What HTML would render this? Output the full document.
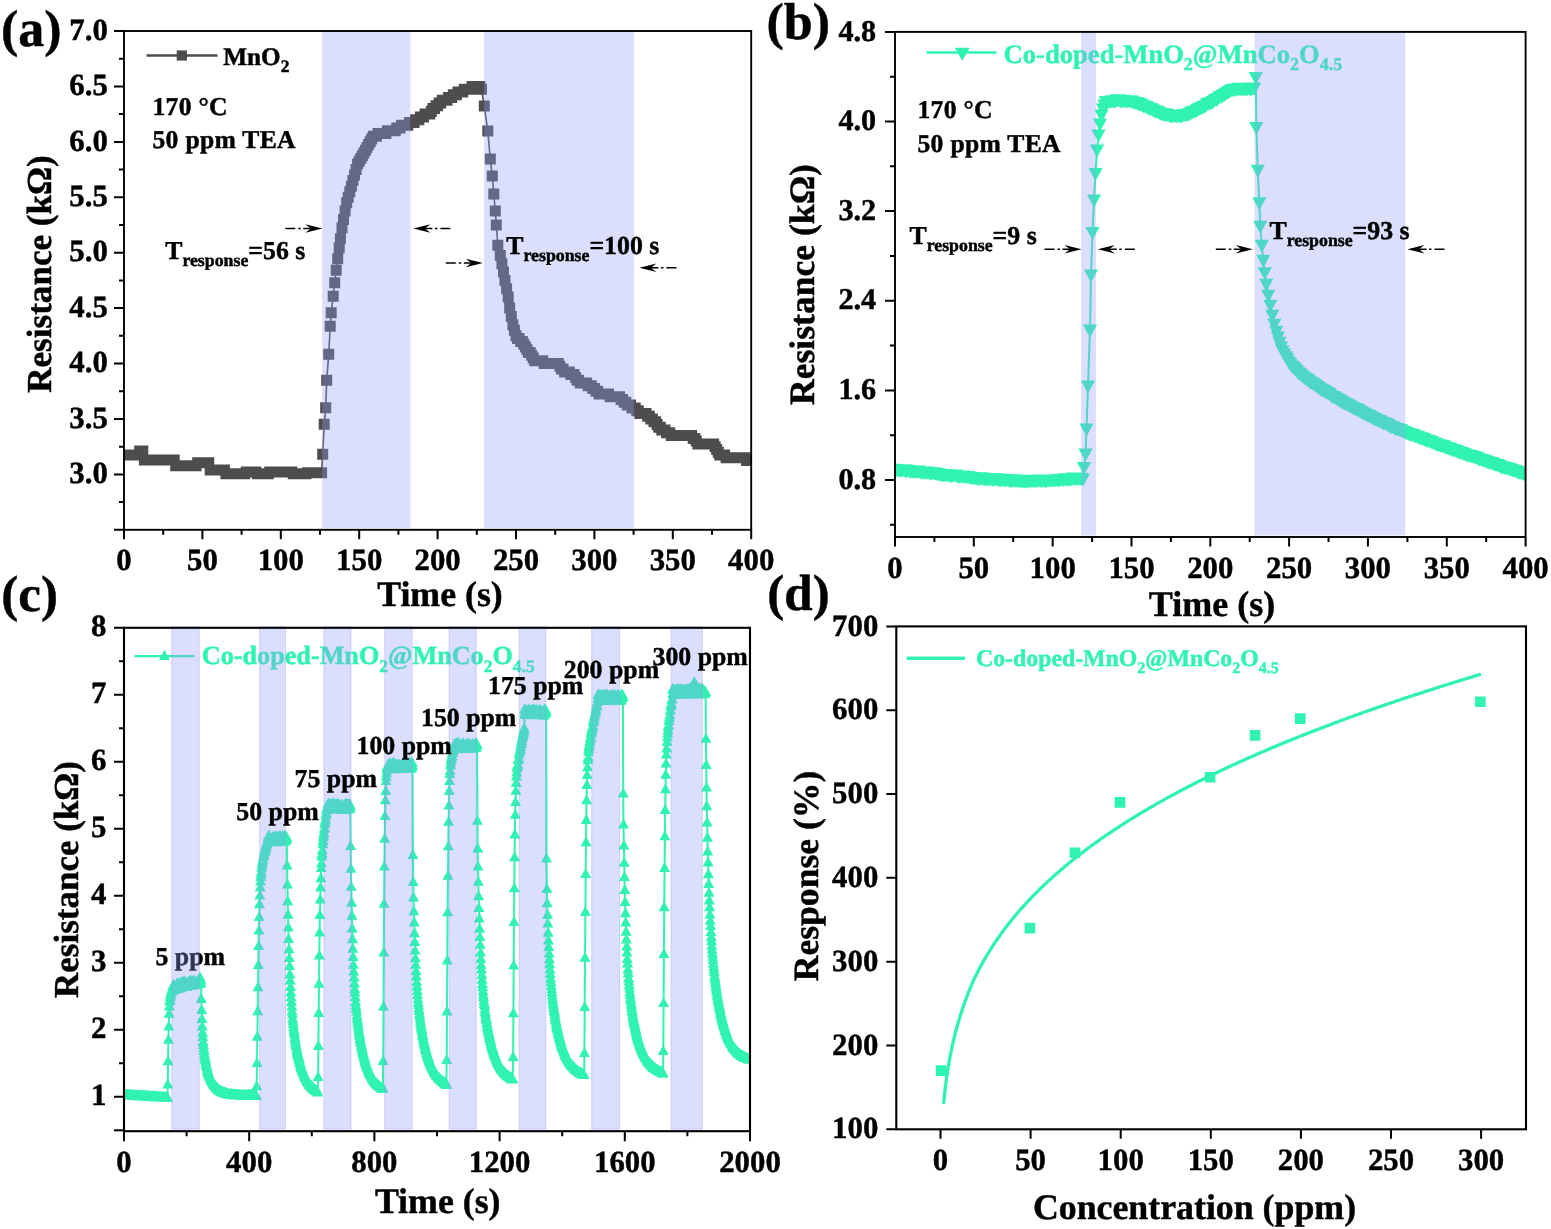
<!DOCTYPE html>
<html lang="en"><head><meta charset="utf-8"><title>Gas sensing response figure</title>
<style>html,body{margin:0;padding:0;background:#fff}svg{display:block;will-change:transform;transform:translateZ(0)}text{white-space:pre}</style></head>
<body>
<svg width="1551" height="1229" viewBox="0 0 1551 1229" font-family='"Liberation Serif", "DejaVu Serif", serif' font-weight="bold" text-rendering="geometricPrecision">
<style>text{stroke:#000;stroke-width:.45px;paint-order:stroke fill}text.g{stroke:#2ff2b3}</style>
<rect width="1551" height="1229" fill="#fff"/>
<g id="panelA">
<clipPath id="ca"><rect x="124" y="31" width="627.2" height="498.8"/></clipPath><g clip-path="url(#ca)">
<path d="M124 454.9L125.6 454.9L127.1 454.9L128.7 454.9L130.3 454.9L131.8 454.9L133.4 454.9L135 454.9L136.5 454.9L138.1 454.9L139.7 451.1L141.2 451.1L142.8 451.1L144.4 460L146 460L147.5 460L149.1 460L150.7 460L152.2 460L153.8 460L155.4 460L156.9 460L158.5 460L160.1 460L161.6 460L163.2 460L164.8 460L166.3 460L167.9 460L169.5 460L171 460L172.6 460L174.2 460L175.7 465.8L177.3 465.8L178.9 465.8L180.4 465.8L182 465.8L183.6 465.8L185.2 465.8L186.7 465.8L188.3 465.8L189.9 465.8L191.4 465.8L193 465.8L194.6 465.8L196.1 465.8L197.7 462.8L199.3 462.8L200.8 462.8L202.4 462.8L204 462.8L205.5 462.8L207.1 462.8L208.7 462.8L210.2 470L211.8 470L213.4 470L214.9 470L216.5 470L218.1 470L219.6 470L221.2 470L222.8 470L224.4 470L225.9 473.8L227.5 473.8L229.1 473.8L230.6 473.8L232.2 473.8L233.8 473.8L235.3 473.8L236.9 473.8L238.5 473.8L240 473.8L241.6 473.8L243.2 473.8L244.7 473.8L246.3 471.9L247.9 471.9L249.4 471.9L251 471.9L252.6 471.9L254.1 471.9L255.7 471.9L257.3 473.8L258.8 473.8L260.4 473.8L262 473.8L263.6 473.8L265.1 473.8L266.7 473.8L268.3 473.8L269.8 471.9L271.4 471.9L273 471.9L274.5 471.9L276.1 471.9L277.7 471.9L279.2 471.9L280.8 471.9L282.4 471.9L283.9 471.9L285.5 471.9L287.1 471.9L288.6 471.9L290.2 471.9L291.8 471.9L293.3 473.8L294.9 473.8L296.5 473.8L298 473.8L299.6 473.8L301.2 473.8L302.8 473.8L304.3 473.8L305.9 473.8L307.5 472.7L309 472.7L310.6 472.7L312.2 472.7L313.7 472.7L315.3 472.7L316.9 472.7L318.4 472.7L320 472.7L321.6 472.7L322.7 454.3L324.2 424.3L325.7 407.8L326.7 380.2L328.7 354.2L330.2 326.2L331.2 312.7L333.2 296.2L334.7 282.7L336.2 270.2L337.7 258.7L339.2 247.7L340.4 238.8L342 227.8L343.5 219.4L345.1 211.1L346.7 202.8L348.2 197.3L349.8 191.7L351.4 186.2L352.9 180.6L354.5 175.1L356.1 169.6L357.6 164L359.2 161.2L360.8 158.5L362.3 155.7L363.9 152.9L365.5 150.2L367 147.4L368.6 144.6L370.2 141.8L371.7 139.1L373.3 136.3L374.9 136.3L376.4 136.3L378 133.5L379.6 133.5L381.2 133.5L382.7 133.5L384.3 133.5L385.9 133.5L387.4 130.8L389 130.8L390.6 130.8L392.1 130.8L393.7 130.8L395.3 130.8L396.8 128L398.4 128L400 128L401.5 125.2L403.1 125.2L404.7 125.2L406.2 125.2L407.8 125.2L409.4 122.5L410.9 122.5L412.5 122.5L414.1 122.5L415.6 119.7L417.2 119.7L418.8 119.7L420.4 116.9L421.9 116.9L423.5 116.9L425.1 114.1L426.6 114.1L428.2 114.1L429.8 114.1L431.3 111.4L432.9 108.6L434.5 108.6L436 105.8L437.6 105.8L439.2 103.1L440.7 103.1L442.3 100.3L443.9 100.3L445.4 100.3L447 100.3L448.6 97.5L450.1 97.5L451.7 97.5L453.3 94.7L454.8 94.7L456.4 94.7L458 92L459.6 92L461.1 92L462.7 92L464.3 89.2L465.8 89.2L467.4 89.2L469 89.2L470.5 89.2L472.1 86.4L473.7 86.4L475.2 86.4L476.8 86.4L478.4 86.4L479.9 86.4L481.5 89.2L484.3 106.1L487.8 131.1L490.3 159.1L492.3 176.1L493.8 194.1L495.3 211.1L496.3 225.1L497.8 245.2L500.3 255.5L501.9 263.8L503.5 272.1L505 280.4L506.6 288.7L508.2 297L509.7 308.1L511.3 316.4L512.9 324.8L514.4 330.3L516 335.8L517.6 338.6L519.1 338.6L520.7 341.4L522.3 341.4L523.8 344.2L525.4 346.9L527 349.7L528.5 352.5L530.1 352.5L531.7 355.2L533.2 358L534.8 360.8L536.4 360.8L538 360.8L539.5 360.8L541.1 360.8L542.7 360.8L544.2 363.5L545.8 363.5L547.4 363.5L548.9 363.5L550.5 363.5L552.1 363.5L553.6 363.5L555.2 363.5L556.8 363.5L558.3 363.5L559.9 366.3L561.5 369.1L563 369.1L564.6 371.9L566.2 371.9L567.7 371.9L569.3 371.9L570.9 374.6L572.4 374.6L574 374.6L575.6 377.4L577.2 380.2L578.7 380.2L580.3 382.9L581.9 382.9L583.4 382.9L585 382.9L586.6 382.9L588.1 385.7L589.7 385.7L591.3 385.7L592.8 388.5L594.4 388.5L596 391.3L597.5 391.3L599.1 394L600.7 394L602.2 394L603.8 394L605.4 394L606.9 394L608.5 394L610.1 396.8L611.6 396.8L613.2 396.8L614.8 396.8L616.4 396.8L617.9 396.8L619.5 396.8L621.1 399.6L622.6 399.6L624.2 402.3L625.8 402.3L627.3 405.1L628.9 405.1L630.5 405.1L632 407.9L633.6 407.9L635.2 407.9L636.7 410.7L638.3 410.7L639.9 413.4L641.4 413.4L643 413.4L644.6 413.4L646.1 413.4L647.7 416.2L649.3 416.2L650.8 419L652.4 419L654 421.7L655.6 421.7L657.1 424.5L658.7 427.3L660.3 427.3L661.8 430.1L663.4 430.1L665 430.1L666.5 432.8L668.1 432.8L669.7 432.8L671.2 435.6L672.8 435.6L674.4 435.6L675.9 435.6L677.5 435.6L679.1 435.6L680.6 435.6L682.2 435.6L683.8 435.6L685.3 435.6L686.9 435.6L688.5 435.6L690 435.6L691.6 435.6L693.2 438.4L694.8 438.4L696.3 441.1L697.9 443.9L699.5 443.9L701 443.9L702.6 443.9L704.2 443.9L705.7 443.9L707.3 443.9L708.9 443.9L710.4 443.9L712 443.9L713.6 443.9L715.1 446.7L716.7 449.5L718.3 452.2L719.8 455L721.4 455L723 455L724.5 455L726.1 457.8L727.7 457.8L729.2 457.8L730.8 457.8L732.4 457.8L734 457.8L735.5 457.8L737.1 457.8L738.7 457.8L740.2 457.8L741.8 457.8L743.4 457.8L744.9 457.8L746.5 460.5L748.1 460.5L749.6 460.5L751.2 460.5" fill="none" stroke="#4d4d4d" stroke-width="1.6" stroke-linejoin="round" stroke-linecap="round"/>
<path d="M118.5 449.4h11v11h-11zM120.1 449.4h11v11h-11zM121.6 449.4h11v11h-11zM123.2 449.4h11v11h-11zM124.8 449.4h11v11h-11zM126.3 449.4h11v11h-11zM127.9 449.4h11v11h-11zM129.5 449.4h11v11h-11zM131 449.4h11v11h-11zM132.6 449.4h11v11h-11zM134.2 445.6h11v11h-11zM135.7 445.6h11v11h-11zM137.3 445.6h11v11h-11zM138.9 454.5h11v11h-11zM140.5 454.5h11v11h-11zM142 454.5h11v11h-11zM143.6 454.5h11v11h-11zM145.2 454.5h11v11h-11zM146.7 454.5h11v11h-11zM148.3 454.5h11v11h-11zM149.9 454.5h11v11h-11zM151.4 454.5h11v11h-11zM153 454.5h11v11h-11zM154.6 454.5h11v11h-11zM156.1 454.5h11v11h-11zM157.7 454.5h11v11h-11zM159.3 454.5h11v11h-11zM160.8 454.5h11v11h-11zM162.4 454.5h11v11h-11zM164 454.5h11v11h-11zM165.5 454.5h11v11h-11zM167.1 454.5h11v11h-11zM168.7 454.5h11v11h-11zM170.2 460.3h11v11h-11zM171.8 460.3h11v11h-11zM173.4 460.3h11v11h-11zM174.9 460.3h11v11h-11zM176.5 460.3h11v11h-11zM178.1 460.3h11v11h-11zM179.7 460.3h11v11h-11zM181.2 460.3h11v11h-11zM182.8 460.3h11v11h-11zM184.4 460.3h11v11h-11zM185.9 460.3h11v11h-11zM187.5 460.3h11v11h-11zM189.1 460.3h11v11h-11zM190.6 460.3h11v11h-11zM192.2 457.3h11v11h-11zM193.8 457.3h11v11h-11zM195.3 457.3h11v11h-11zM196.9 457.3h11v11h-11zM198.5 457.3h11v11h-11zM200 457.3h11v11h-11zM201.6 457.3h11v11h-11zM203.2 457.3h11v11h-11zM204.7 464.5h11v11h-11zM206.3 464.5h11v11h-11zM207.9 464.5h11v11h-11zM209.4 464.5h11v11h-11zM211 464.5h11v11h-11zM212.6 464.5h11v11h-11zM214.1 464.5h11v11h-11zM215.7 464.5h11v11h-11zM217.3 464.5h11v11h-11zM218.9 464.5h11v11h-11zM220.4 468.3h11v11h-11zM222 468.3h11v11h-11zM223.6 468.3h11v11h-11zM225.1 468.3h11v11h-11zM226.7 468.3h11v11h-11zM228.3 468.3h11v11h-11zM229.8 468.3h11v11h-11zM231.4 468.3h11v11h-11zM233 468.3h11v11h-11zM234.5 468.3h11v11h-11zM236.1 468.3h11v11h-11zM237.7 468.3h11v11h-11zM239.2 468.3h11v11h-11zM240.8 466.4h11v11h-11zM242.4 466.4h11v11h-11zM243.9 466.4h11v11h-11zM245.5 466.4h11v11h-11zM247.1 466.4h11v11h-11zM248.6 466.4h11v11h-11zM250.2 466.4h11v11h-11zM251.8 468.3h11v11h-11zM253.3 468.3h11v11h-11zM254.9 468.3h11v11h-11zM256.5 468.3h11v11h-11zM258.1 468.3h11v11h-11zM259.6 468.3h11v11h-11zM261.2 468.3h11v11h-11zM262.8 468.3h11v11h-11zM264.3 466.4h11v11h-11zM265.9 466.4h11v11h-11zM267.5 466.4h11v11h-11zM269 466.4h11v11h-11zM270.6 466.4h11v11h-11zM272.2 466.4h11v11h-11zM273.7 466.4h11v11h-11zM275.3 466.4h11v11h-11zM276.9 466.4h11v11h-11zM278.4 466.4h11v11h-11zM280 466.4h11v11h-11zM281.6 466.4h11v11h-11zM283.1 466.4h11v11h-11zM284.7 466.4h11v11h-11zM286.3 466.4h11v11h-11zM287.8 468.3h11v11h-11zM289.4 468.3h11v11h-11zM291 468.3h11v11h-11zM292.5 468.3h11v11h-11zM294.1 468.3h11v11h-11zM295.7 468.3h11v11h-11zM297.3 468.3h11v11h-11zM298.8 468.3h11v11h-11zM300.4 468.3h11v11h-11zM302 467.2h11v11h-11zM303.5 467.2h11v11h-11zM305.1 467.2h11v11h-11zM306.7 467.2h11v11h-11zM308.2 467.2h11v11h-11zM309.8 467.2h11v11h-11zM311.4 467.2h11v11h-11zM312.9 467.2h11v11h-11zM314.5 467.2h11v11h-11zM316.1 467.2h11v11h-11zM317.2 448.8h11v11h-11zM318.7 418.8h11v11h-11zM320.2 402.3h11v11h-11zM321.2 374.7h11v11h-11zM323.2 348.7h11v11h-11zM324.7 320.7h11v11h-11zM325.7 307.2h11v11h-11zM327.7 290.7h11v11h-11zM329.2 277.2h11v11h-11zM330.7 264.7h11v11h-11zM332.2 253.2h11v11h-11zM333.7 242.2h11v11h-11zM334.9 233.3h11v11h-11zM336.5 222.3h11v11h-11zM338 213.9h11v11h-11zM339.6 205.6h11v11h-11zM341.2 197.3h11v11h-11zM342.7 191.8h11v11h-11zM344.3 186.2h11v11h-11zM345.9 180.7h11v11h-11zM347.4 175.1h11v11h-11zM349 169.6h11v11h-11zM350.6 164.1h11v11h-11zM352.1 158.5h11v11h-11zM353.7 155.7h11v11h-11zM355.3 153h11v11h-11zM356.8 150.2h11v11h-11zM358.4 147.4h11v11h-11zM360 144.7h11v11h-11zM361.5 141.9h11v11h-11zM363.1 139.1h11v11h-11zM364.7 136.3h11v11h-11zM366.2 133.6h11v11h-11zM367.8 130.8h11v11h-11zM369.4 130.8h11v11h-11zM370.9 130.8h11v11h-11zM372.5 128h11v11h-11zM374.1 128h11v11h-11zM375.7 128h11v11h-11zM377.2 128h11v11h-11zM378.8 128h11v11h-11zM380.4 128h11v11h-11zM381.9 125.3h11v11h-11zM383.5 125.3h11v11h-11zM385.1 125.3h11v11h-11zM386.6 125.3h11v11h-11zM388.2 125.3h11v11h-11zM389.8 125.3h11v11h-11zM391.3 122.5h11v11h-11zM392.9 122.5h11v11h-11zM394.5 122.5h11v11h-11zM396 119.7h11v11h-11zM397.6 119.7h11v11h-11zM399.2 119.7h11v11h-11zM400.7 119.7h11v11h-11zM402.3 119.7h11v11h-11zM403.9 117h11v11h-11zM405.4 117h11v11h-11zM407 117h11v11h-11zM408.6 117h11v11h-11zM410.1 114.2h11v11h-11zM411.7 114.2h11v11h-11zM413.3 114.2h11v11h-11zM414.9 111.4h11v11h-11zM416.4 111.4h11v11h-11zM418 111.4h11v11h-11zM419.6 108.6h11v11h-11zM421.1 108.6h11v11h-11zM422.7 108.6h11v11h-11zM424.3 108.6h11v11h-11zM425.8 105.9h11v11h-11zM427.4 103.1h11v11h-11zM429 103.1h11v11h-11zM430.5 100.3h11v11h-11zM432.1 100.3h11v11h-11zM433.7 97.6h11v11h-11zM435.2 97.6h11v11h-11zM436.8 94.8h11v11h-11zM438.4 94.8h11v11h-11zM439.9 94.8h11v11h-11zM441.5 94.8h11v11h-11zM443.1 92h11v11h-11zM444.6 92h11v11h-11zM446.2 92h11v11h-11zM447.8 89.2h11v11h-11zM449.3 89.2h11v11h-11zM450.9 89.2h11v11h-11zM452.5 86.5h11v11h-11zM454.1 86.5h11v11h-11zM455.6 86.5h11v11h-11zM457.2 86.5h11v11h-11zM458.8 83.7h11v11h-11zM460.3 83.7h11v11h-11zM461.9 83.7h11v11h-11zM463.5 83.7h11v11h-11zM465 83.7h11v11h-11zM466.6 80.9h11v11h-11zM468.2 80.9h11v11h-11zM469.7 80.9h11v11h-11zM471.3 80.9h11v11h-11zM472.9 80.9h11v11h-11zM474.4 80.9h11v11h-11zM476 83.7h11v11h-11zM478.8 100.6h11v11h-11zM482.3 125.6h11v11h-11zM484.8 153.6h11v11h-11zM486.8 170.6h11v11h-11zM488.3 188.6h11v11h-11zM489.8 205.6h11v11h-11zM490.8 219.6h11v11h-11zM492.3 239.7h11v11h-11zM494.8 250h11v11h-11zM496.4 258.3h11v11h-11zM498 266.6h11v11h-11zM499.5 274.9h11v11h-11zM501.1 283.2h11v11h-11zM502.7 291.5h11v11h-11zM504.2 302.6h11v11h-11zM505.8 310.9h11v11h-11zM507.4 319.3h11v11h-11zM508.9 324.8h11v11h-11zM510.5 330.3h11v11h-11zM512.1 333.1h11v11h-11zM513.6 333.1h11v11h-11zM515.2 335.9h11v11h-11zM516.8 335.9h11v11h-11zM518.3 338.7h11v11h-11zM519.9 341.4h11v11h-11zM521.5 344.2h11v11h-11zM523 347h11v11h-11zM524.6 347h11v11h-11zM526.2 349.7h11v11h-11zM527.7 352.5h11v11h-11zM529.3 355.3h11v11h-11zM530.9 355.3h11v11h-11zM532.5 355.3h11v11h-11zM534 355.3h11v11h-11zM535.6 355.3h11v11h-11zM537.2 355.3h11v11h-11zM538.7 358h11v11h-11zM540.3 358h11v11h-11zM541.9 358h11v11h-11zM543.4 358h11v11h-11zM545 358h11v11h-11zM546.6 358h11v11h-11zM548.1 358h11v11h-11zM549.7 358h11v11h-11zM551.3 358h11v11h-11zM552.8 358h11v11h-11zM554.4 360.8h11v11h-11zM556 363.6h11v11h-11zM557.5 363.6h11v11h-11zM559.1 366.4h11v11h-11zM560.7 366.4h11v11h-11zM562.2 366.4h11v11h-11zM563.8 366.4h11v11h-11zM565.4 369.1h11v11h-11zM566.9 369.1h11v11h-11zM568.5 369.1h11v11h-11zM570.1 371.9h11v11h-11zM571.7 374.7h11v11h-11zM573.2 374.7h11v11h-11zM574.8 377.4h11v11h-11zM576.4 377.4h11v11h-11zM577.9 377.4h11v11h-11zM579.5 377.4h11v11h-11zM581.1 377.4h11v11h-11zM582.6 380.2h11v11h-11zM584.2 380.2h11v11h-11zM585.8 380.2h11v11h-11zM587.3 383h11v11h-11zM588.9 383h11v11h-11zM590.5 385.8h11v11h-11zM592 385.8h11v11h-11zM593.6 388.5h11v11h-11zM595.2 388.5h11v11h-11zM596.7 388.5h11v11h-11zM598.3 388.5h11v11h-11zM599.9 388.5h11v11h-11zM601.4 388.5h11v11h-11zM603 388.5h11v11h-11zM604.6 391.3h11v11h-11zM606.1 391.3h11v11h-11zM607.7 391.3h11v11h-11zM609.3 391.3h11v11h-11zM610.9 391.3h11v11h-11zM612.4 391.3h11v11h-11zM614 391.3h11v11h-11zM615.6 394.1h11v11h-11zM617.1 394.1h11v11h-11zM618.7 396.8h11v11h-11zM620.3 396.8h11v11h-11zM621.8 399.6h11v11h-11zM623.4 399.6h11v11h-11zM625 399.6h11v11h-11zM626.5 402.4h11v11h-11zM628.1 402.4h11v11h-11zM629.7 402.4h11v11h-11zM631.2 405.2h11v11h-11zM632.8 405.2h11v11h-11zM634.4 407.9h11v11h-11zM635.9 407.9h11v11h-11zM637.5 407.9h11v11h-11zM639.1 407.9h11v11h-11zM640.6 407.9h11v11h-11zM642.2 410.7h11v11h-11zM643.8 410.7h11v11h-11zM645.3 413.5h11v11h-11zM646.9 413.5h11v11h-11zM648.5 416.2h11v11h-11zM650.1 416.2h11v11h-11zM651.6 419h11v11h-11zM653.2 421.8h11v11h-11zM654.8 421.8h11v11h-11zM656.3 424.6h11v11h-11zM657.9 424.6h11v11h-11zM659.5 424.6h11v11h-11zM661 427.3h11v11h-11zM662.6 427.3h11v11h-11zM664.2 427.3h11v11h-11zM665.7 430.1h11v11h-11zM667.3 430.1h11v11h-11zM668.9 430.1h11v11h-11zM670.4 430.1h11v11h-11zM672 430.1h11v11h-11zM673.6 430.1h11v11h-11zM675.1 430.1h11v11h-11zM676.7 430.1h11v11h-11zM678.3 430.1h11v11h-11zM679.8 430.1h11v11h-11zM681.4 430.1h11v11h-11zM683 430.1h11v11h-11zM684.5 430.1h11v11h-11zM686.1 430.1h11v11h-11zM687.7 432.9h11v11h-11zM689.3 432.9h11v11h-11zM690.8 435.6h11v11h-11zM692.4 438.4h11v11h-11zM694 438.4h11v11h-11zM695.5 438.4h11v11h-11zM697.1 438.4h11v11h-11zM698.7 438.4h11v11h-11zM700.2 438.4h11v11h-11zM701.8 438.4h11v11h-11zM703.4 438.4h11v11h-11zM704.9 438.4h11v11h-11zM706.5 438.4h11v11h-11zM708.1 438.4h11v11h-11zM709.6 441.2h11v11h-11zM711.2 444h11v11h-11zM712.8 446.7h11v11h-11zM714.3 449.5h11v11h-11zM715.9 449.5h11v11h-11zM717.5 449.5h11v11h-11zM719 449.5h11v11h-11zM720.6 452.3h11v11h-11zM722.2 452.3h11v11h-11zM723.7 452.3h11v11h-11zM725.3 452.3h11v11h-11zM726.9 452.3h11v11h-11zM728.5 452.3h11v11h-11zM730 452.3h11v11h-11zM731.6 452.3h11v11h-11zM733.2 452.3h11v11h-11zM734.7 452.3h11v11h-11zM736.3 452.3h11v11h-11zM737.9 452.3h11v11h-11zM739.4 452.3h11v11h-11zM741 455h11v11h-11zM742.6 455h11v11h-11zM744.1 455h11v11h-11zM745.7 455h11v11h-11z" fill="#4d4d4d"/>
</g>
<path d="M146.5 55.5H217.5" stroke="#4d4d4d" stroke-width="2.4"/>
<path d="M176.7 50.4h10.2v10.2h-10.2z" fill="#4d4d4d"/>
<text x="223.3" y="65.4" font-size="25.2" text-anchor="start" fill="#000" >MnO<tspan font-size="17.5" dy="7">2</tspan><tspan dy="-7" font-size="1">&#8203;</tspan></text>
<text x="152.5" y="114.5" font-size="25.6" text-anchor="start" fill="#000" letter-spacing="0.3">170 °C</text>
<text x="152.5" y="148" font-size="25.6" text-anchor="start" fill="#000" letter-spacing="0.3">50 ppm TEA</text>
<path d="M322.3 228.5L305.3 224.3L310.8 228.5L305.3 232.7z" fill="#000"/>
<path d="M310.8 228.5H303.3M300.8 228.5H298.3M295.3 228.5H285.3" stroke="#000" stroke-width="1.6" fill="none"/>
<path d="M413.4 228.5L430.4 224.3L424.9 228.5L430.4 232.7z" fill="#000"/>
<path d="M424.9 228.5H432.4M434.9 228.5H437.4M440.4 228.5H450.4" stroke="#000" stroke-width="1.6" fill="none"/>
<path d="M482.8 263L465.8 258.8L471.3 263L465.8 267.2z" fill="#000"/>
<path d="M471.3 263H463.8M461.3 263H458.8M455.8 263H445.8" stroke="#000" stroke-width="1.6" fill="none"/>
<path d="M639.4 267.7L656.4 263.5L650.9 267.7L656.4 271.9z" fill="#000"/>
<path d="M650.9 267.7H658.4M660.9 267.7H663.4M666.4 267.7H676.4" stroke="#000" stroke-width="1.6" fill="none"/>
<rect x="322.2" y="30" width="88.2" height="498.2" fill="rgba(146,156,247,0.335)"/>
<rect x="484.1" y="30" width="150.1" height="498.2" fill="rgba(146,156,247,0.335)"/>
<text x="165.2" y="258.8" font-size="25.8" text-anchor="start" fill="#000" >T<tspan font-size="17.8" dy="7.5">response</tspan><tspan dy="-7.5" font-size="1">&#8203;</tspan>=56 s</text>
<text x="506.3" y="253.6" font-size="25.8" text-anchor="start" fill="#000" >T<tspan font-size="17.8" dy="7.5">response</tspan><tspan dy="-7.5" font-size="1">&#8203;</tspan>=100 s</text>
<rect x="124" y="31" width="627.2" height="498.8" fill="none" stroke="#000" stroke-width="1.9"/>
<path d="M124 529.8h-10M124 474.4h-10M124 419h-10M124 363.5h-10M124 308.1h-10M124 252.7h-10M124 197.3h-10M124 141.9h-10M124 86.4h-10M124 31h-10" stroke="#000" stroke-width="2.0" fill="none"/>
<path d="M124 502.1h-5M124 446.7h-5M124 391.3h-5M124 335.8h-5M124 280.4h-5M124 225h-5M124 169.6h-5M124 114.1h-5M124 58.7h-5" stroke="#000" stroke-width="2.0" fill="none"/>
<path d="M124 529.8v9.5M202.4 529.8v9.5M280.8 529.8v9.5M359.2 529.8v9.5M437.6 529.8v9.5M516 529.8v9.5M594.4 529.8v9.5M672.8 529.8v9.5M751.2 529.8v9.5" stroke="#000" stroke-width="2.0" fill="none"/>
<path d="M163.2 529.8v5M241.6 529.8v5M320 529.8v5M398.4 529.8v5M476.8 529.8v5M555.2 529.8v5M633.6 529.8v5M712 529.8v5" stroke="#000" stroke-width="2.0" fill="none"/>
<text x="107.8" y="483" font-size="30.8" text-anchor="end" fill="#000" >3.0</text>
<text x="107.8" y="427.6" font-size="30.8" text-anchor="end" fill="#000" >3.5</text>
<text x="107.8" y="372.1" font-size="30.8" text-anchor="end" fill="#000" >4.0</text>
<text x="107.8" y="316.7" font-size="30.8" text-anchor="end" fill="#000" >4.5</text>
<text x="107.8" y="261.3" font-size="30.8" text-anchor="end" fill="#000" >5.0</text>
<text x="107.8" y="205.9" font-size="30.8" text-anchor="end" fill="#000" >5.5</text>
<text x="107.8" y="150.5" font-size="30.8" text-anchor="end" fill="#000" >6.0</text>
<text x="107.8" y="95" font-size="30.8" text-anchor="end" fill="#000" >6.5</text>
<text x="107.8" y="39.6" font-size="30.8" text-anchor="end" fill="#000" >7.0</text>
<text x="124" y="570.3" font-size="30.8" text-anchor="middle" fill="#000" >0</text>
<text x="202.4" y="570.3" font-size="30.8" text-anchor="middle" fill="#000" >50</text>
<text x="280.8" y="570.3" font-size="30.8" text-anchor="middle" fill="#000" >100</text>
<text x="359.2" y="570.3" font-size="30.8" text-anchor="middle" fill="#000" >150</text>
<text x="437.6" y="570.3" font-size="30.8" text-anchor="middle" fill="#000" >200</text>
<text x="516" y="570.3" font-size="30.8" text-anchor="middle" fill="#000" >250</text>
<text x="594.4" y="570.3" font-size="30.8" text-anchor="middle" fill="#000" >300</text>
<text x="672.8" y="570.3" font-size="30.8" text-anchor="middle" fill="#000" >350</text>
<text x="751.2" y="570.3" font-size="30.8" text-anchor="middle" fill="#000" >400</text>
<text x="440" y="605.7" font-size="35.8" text-anchor="middle" fill="#000" >Time (s)</text>
<text transform="translate(51.3 274) rotate(-90)" font-size="35.1" text-anchor="middle">Resistance (kΩ)</text>
<text x="1" y="46" font-size="52" text-anchor="start" fill="#000" >(a)</text>
</g>
<g id="panelB">
<clipPath id="cb"><rect x="895" y="31.9" width="630.6" height="505.1"/></clipPath><g clip-path="url(#cb)">
<path d="M895 469.3L896.6 469.8L898.2 469.7L899.7 470.1L901.3 470.2L902.9 469.7L904.5 469.7L906 470.8L907.6 470.3L909.2 470.4L910.8 471.4L912.3 470.9L913.9 471.4L915.5 471.1L917.1 471.4L918.6 471L920.2 471.7L921.8 472.2L923.4 471.9L925 472.4L926.5 472.5L928.1 471.9L929.7 472.9L931.3 472.9L932.8 472.8L934.4 472.6L936 473.8L937.6 473.5L939.1 474L940.7 474.4L942.3 474.4L943.9 474.8L945.4 474.3L947 475L948.6 474.8L950.2 475.5L951.8 475.6L953.3 474.8L954.9 475.1L956.5 475.3L958.1 476.4L959.6 475.9L961.2 476.3L962.8 476L964.4 476.4L965.9 476.5L967.5 476.6L969.1 477L970.7 477.2L972.2 477.7L973.8 477.6L975.4 478.1L977 478.1L978.6 478.4L980.1 478.2L981.7 477.7L983.3 478.7L984.9 478.9L986.4 479L988 478.7L989.6 479L991.2 478.5L992.7 479.3L994.3 479.1L995.9 478.9L997.5 478.8L999 479.8L1000.6 480.1L1002.2 479.1L1003.8 480.1L1005.4 479.8L1006.9 479.6L1008.5 479.8L1010.1 480.5L1011.7 480.7L1013.2 479.8L1014.8 480.5L1016.4 479.9L1018 480.8L1019.5 480.4L1021.1 481.1L1022.7 481.2L1024.3 480.7L1025.8 481.4L1027.4 480.6L1029 480.4L1030.6 480.9L1032.2 480.2L1033.7 480.3L1035.3 480.5L1036.9 480.7L1038.5 480.1L1040 479.9L1041.6 480.8L1043.2 480.1L1044.8 480.8L1046.3 480.6L1047.9 479.9L1049.5 480L1051.1 480L1052.7 480L1054.2 479.9L1055.8 479.7L1057.4 479.7L1059 480L1060.5 479.4L1062.1 479.2L1063.7 479.4L1065.3 478.8L1066.8 478.8L1068.4 479.5L1070 478.8L1071.6 478.8L1073.1 478.1L1074.7 478.5L1076.3 478.6L1077.9 477.9L1079.5 478.5L1081 478.5L1083 479L1084 467.5L1085.5 454L1086.5 429L1088 386L1090 330L1091 275L1092.5 232.5L1094 200L1095.5 173.5L1097 150L1098.5 135L1100 124L1101.5 115L1103 109L1104.5 105L1106 101.4L1107.6 101.8L1109.2 101.2L1110.7 101.2L1112.3 100.6L1113.9 101L1115.5 100.9L1117 99.8L1118.6 99.7L1120.2 100.6L1121.8 101.1L1123.3 100.2L1124.9 100.6L1126.5 100.9L1128.1 100.6L1129.6 100.8L1131.2 101.1L1132.8 101.7L1134.4 102.4L1136 102.5L1137.5 103.1L1139.1 104.1L1140.7 103.6L1142.3 105.1L1143.8 106.1L1145.4 106.2L1147 106.8L1148.6 108.3L1150.1 108.2L1151.7 108.8L1153.3 109.9L1154.9 111L1156.4 110.8L1158 111.9L1159.6 112.6L1161.2 113.7L1162.8 113.5L1164.3 114.5L1165.9 113.9L1167.5 114.5L1169.1 115.3L1170.6 116L1172.2 115.7L1173.8 115.6L1175.4 115.3L1176.9 115.8L1178.5 115.3L1180.1 116L1181.7 116L1183.2 114.7L1184.8 114.3L1186.4 114.6L1188 113.9L1189.6 113.7L1191.1 112.5L1192.7 111.6L1194.3 111.1L1195.9 111L1197.4 109.5L1199 108.8L1200.6 108.1L1202.2 107.3L1203.7 106.3L1205.3 106.1L1206.9 104.1L1208.5 102.9L1210 103.3L1211.6 102.3L1213.2 101.5L1214.8 99.7L1216.4 99.5L1217.9 98.5L1219.5 96.6L1221.1 96.4L1222.7 95.6L1224.2 94.5L1225.8 93.4L1227.4 92.2L1229 91.4L1230.5 90.4L1232.1 89.4L1233.7 89.8L1235.3 89.1L1236.8 89.5L1238.4 88.2L1240 89.1L1241.6 88.8L1243.2 89.1L1244.7 89.1L1246.3 89.1L1247.9 88.6L1249.5 87.8L1251 88.8L1252.6 88L1254.2 88.2L1255.8 77.4L1256.3 127.6L1257.8 170.1L1259.3 202.6L1260.3 226.1L1261.8 245.2L1263.3 260.2L1264.8 272.7L1266.3 284.2L1268.3 295.2L1270.3 305.2L1272.3 315.2L1274.3 324.2L1276.3 331.2L1277.9 337.1L1279.5 342.2L1281.1 346.8L1282.6 350.9L1284.2 354L1285.8 356.8L1287.4 359L1288.9 362L1290.5 364L1292.1 366.3L1293.7 367.4L1295.2 368.8L1296.8 370.8L1298.4 372.6L1300 373.3L1301.5 375.2L1303.1 376.6L1304.7 377.7L1306.3 379L1307.9 379.4L1309.4 381.1L1311 382.5L1312.6 382.9L1314.2 384.2L1315.7 385.3L1317.3 386.6L1318.9 387.5L1320.5 388.6L1322 389.9L1323.6 390.1L1325.2 391.1L1326.8 392.1L1328.3 393.1L1329.9 394L1331.5 395.8L1333.1 396.6L1334.7 396.8L1336.2 398.2L1337.8 398.9L1339.4 399.9L1341 400.9L1342.5 402.1L1344.1 402.9L1345.7 403.5L1347.3 404.2L1348.8 405.2L1350.4 405.9L1352 407.1L1353.6 408.1L1355.2 408.5L1356.7 409L1358.3 409.9L1359.9 410.9L1361.5 411.9L1363 412.9L1364.6 413.3L1366.2 414.5L1367.8 415.1L1369.3 415.7L1370.9 416.4L1372.5 417.3L1374.1 418.3L1375.6 418.8L1377.2 419.9L1378.8 420.4L1380.4 421L1382 422.1L1383.5 422.9L1385.1 423L1386.7 424.1L1388.3 424.8L1389.8 426L1391.4 426.7L1393 426.8L1394.6 428L1396.1 428.5L1397.7 428.6L1399.3 429.5L1400.9 429.8L1402.4 431.1L1404 431.6L1405.6 432.4L1407.2 433L1408.8 433.5L1410.3 434.1L1411.9 434.6L1413.5 434.8L1415.1 435.9L1416.6 435.9L1418.2 436.7L1419.8 437.9L1421.4 437.8L1422.9 438.4L1424.5 439L1426.1 440.3L1427.7 440.2L1429.2 440.5L1430.8 441.9L1432.4 441.7L1434 443L1435.6 443.4L1437.1 444.1L1438.7 444.8L1440.3 445L1441.9 445.7L1443.4 445.6L1445 446.9L1446.6 447.2L1448.2 448L1449.7 448L1451.3 449.2L1452.9 450L1454.5 449.7L1456 450.6L1457.6 451.4L1459.2 452.3L1460.8 452.3L1462.4 452.8L1463.9 453.4L1465.5 454.2L1467.1 454.9L1468.7 455L1470.2 455.5L1471.8 456.1L1473.4 456.5L1475 457.1L1476.5 457.3L1478.1 458.2L1479.7 459.2L1481.3 459.2L1482.8 460L1484.4 460L1486 461.1L1487.6 461.7L1489.2 462.2L1490.7 462.6L1492.3 463.1L1493.9 463.8L1495.5 464.6L1497 464.4L1498.6 464.9L1500.2 466.1L1501.8 466.8L1503.3 466.9L1504.9 467.3L1506.5 468.1L1508.1 468.1L1509.6 468.7L1511.2 469.1L1512.8 470L1514.4 470.2L1516 470.7L1517.5 471.6L1519.1 472.4L1520.7 472.2L1522.3 473.1L1523.8 473.4L1525.4 474.3" fill="none" stroke="#2ff2b3" stroke-width="2.0" stroke-linejoin="round" stroke-linecap="round"/>
<path d="M887.9 463.8h14.2l-7.1 13zM889.5 464.3h14.2l-7.1 13zM891.1 464.2h14.2l-7.1 13zM892.6 464.6h14.2l-7.1 13zM894.2 464.8h14.2l-7.1 13zM895.8 464.2h14.2l-7.1 13zM897.4 464.3h14.2l-7.1 13zM898.9 465.4h14.2l-7.1 13zM900.5 464.8h14.2l-7.1 13zM902.1 464.9h14.2l-7.1 13zM903.7 465.9h14.2l-7.1 13zM905.2 465.4h14.2l-7.1 13zM906.8 466h14.2l-7.1 13zM908.4 465.7h14.2l-7.1 13zM910 466h14.2l-7.1 13zM911.5 465.5h14.2l-7.1 13zM913.1 466.2h14.2l-7.1 13zM914.7 466.7h14.2l-7.1 13zM916.3 466.5h14.2l-7.1 13zM917.9 466.9h14.2l-7.1 13zM919.4 467h14.2l-7.1 13zM921 466.5h14.2l-7.1 13zM922.6 467.5h14.2l-7.1 13zM924.2 467.5h14.2l-7.1 13zM925.7 467.3h14.2l-7.1 13zM927.3 467.2h14.2l-7.1 13zM928.9 468.3h14.2l-7.1 13zM930.5 468.1h14.2l-7.1 13zM932 468.5h14.2l-7.1 13zM933.6 468.9h14.2l-7.1 13zM935.2 468.9h14.2l-7.1 13zM936.8 469.3h14.2l-7.1 13zM938.3 468.9h14.2l-7.1 13zM939.9 469.6h14.2l-7.1 13zM941.5 469.3h14.2l-7.1 13zM943.1 470.1h14.2l-7.1 13zM944.7 470.2h14.2l-7.1 13zM946.2 469.4h14.2l-7.1 13zM947.8 469.6h14.2l-7.1 13zM949.4 469.8h14.2l-7.1 13zM951 470.9h14.2l-7.1 13zM952.5 470.4h14.2l-7.1 13zM954.1 470.8h14.2l-7.1 13zM955.7 470.6h14.2l-7.1 13zM957.3 471h14.2l-7.1 13zM958.8 471h14.2l-7.1 13zM960.4 471.1h14.2l-7.1 13zM962 471.6h14.2l-7.1 13zM963.6 471.7h14.2l-7.1 13zM965.1 472.2h14.2l-7.1 13zM966.7 472.1h14.2l-7.1 13zM968.3 472.6h14.2l-7.1 13zM969.9 472.7h14.2l-7.1 13zM971.5 473h14.2l-7.1 13zM973 472.8h14.2l-7.1 13zM974.6 472.3h14.2l-7.1 13zM976.2 473.2h14.2l-7.1 13zM977.8 473.5h14.2l-7.1 13zM979.3 473.5h14.2l-7.1 13zM980.9 473.2h14.2l-7.1 13zM982.5 473.5h14.2l-7.1 13zM984.1 473h14.2l-7.1 13zM985.6 473.9h14.2l-7.1 13zM987.2 473.7h14.2l-7.1 13zM988.8 473.4h14.2l-7.1 13zM990.4 473.3h14.2l-7.1 13zM991.9 474.4h14.2l-7.1 13zM993.5 474.6h14.2l-7.1 13zM995.1 473.7h14.2l-7.1 13zM996.7 474.6h14.2l-7.1 13zM998.3 474.3h14.2l-7.1 13zM999.8 474.1h14.2l-7.1 13zM1001.4 474.4h14.2l-7.1 13zM1003 475.1h14.2l-7.1 13zM1004.6 475.2h14.2l-7.1 13zM1006.1 474.3h14.2l-7.1 13zM1007.7 475.1h14.2l-7.1 13zM1009.3 474.4h14.2l-7.1 13zM1010.9 475.3h14.2l-7.1 13zM1012.4 474.9h14.2l-7.1 13zM1014 475.6h14.2l-7.1 13zM1015.6 475.8h14.2l-7.1 13zM1017.2 475.3h14.2l-7.1 13zM1018.7 475.9h14.2l-7.1 13zM1020.3 475.2h14.2l-7.1 13zM1021.9 474.9h14.2l-7.1 13zM1023.5 475.5h14.2l-7.1 13zM1025.1 474.7h14.2l-7.1 13zM1026.6 474.9h14.2l-7.1 13zM1028.2 475.1h14.2l-7.1 13zM1029.8 475.2h14.2l-7.1 13zM1031.4 474.6h14.2l-7.1 13zM1032.9 474.4h14.2l-7.1 13zM1034.5 475.3h14.2l-7.1 13zM1036.1 474.6h14.2l-7.1 13zM1037.7 475.3h14.2l-7.1 13zM1039.2 475.2h14.2l-7.1 13zM1040.8 474.5h14.2l-7.1 13zM1042.4 474.5h14.2l-7.1 13zM1044 474.5h14.2l-7.1 13zM1045.6 474.6h14.2l-7.1 13zM1047.1 474.4h14.2l-7.1 13zM1048.7 474.3h14.2l-7.1 13zM1050.3 474.2h14.2l-7.1 13zM1051.9 474.5h14.2l-7.1 13zM1053.4 473.9h14.2l-7.1 13zM1055 473.7h14.2l-7.1 13zM1056.6 474h14.2l-7.1 13zM1058.2 473.3h14.2l-7.1 13zM1059.7 473.3h14.2l-7.1 13zM1061.3 474h14.2l-7.1 13zM1062.9 473.4h14.2l-7.1 13zM1064.5 473.3h14.2l-7.1 13zM1066 472.6h14.2l-7.1 13zM1067.6 473h14.2l-7.1 13zM1069.2 473.2h14.2l-7.1 13zM1070.8 472.4h14.2l-7.1 13zM1072.4 473.1h14.2l-7.1 13zM1073.9 473h14.2l-7.1 13zM1075.9 473.5h14.2l-7.1 13zM1076.9 462h14.2l-7.1 13zM1078.4 448.5h14.2l-7.1 13zM1079.4 423.5h14.2l-7.1 13zM1080.9 380.5h14.2l-7.1 13zM1082.9 324.5h14.2l-7.1 13zM1083.9 269.5h14.2l-7.1 13zM1085.4 227h14.2l-7.1 13zM1086.9 194.5h14.2l-7.1 13zM1088.4 168h14.2l-7.1 13zM1089.9 144.5h14.2l-7.1 13zM1091.4 129.5h14.2l-7.1 13zM1092.9 118.5h14.2l-7.1 13zM1094.4 109.5h14.2l-7.1 13zM1095.9 103.5h14.2l-7.1 13zM1097.4 99.5h14.2l-7.1 13zM1098.9 95.9h14.2l-7.1 13zM1100.5 96.3h14.2l-7.1 13zM1102.1 95.7h14.2l-7.1 13zM1103.6 95.7h14.2l-7.1 13zM1105.2 95.2h14.2l-7.1 13zM1106.8 95.5h14.2l-7.1 13zM1108.4 95.4h14.2l-7.1 13zM1109.9 94.3h14.2l-7.1 13zM1111.5 94.3h14.2l-7.1 13zM1113.1 95.2h14.2l-7.1 13zM1114.7 95.7h14.2l-7.1 13zM1116.2 94.8h14.2l-7.1 13zM1117.8 95.2h14.2l-7.1 13zM1119.4 95.4h14.2l-7.1 13zM1121 95.2h14.2l-7.1 13zM1122.5 95.3h14.2l-7.1 13zM1124.1 95.6h14.2l-7.1 13zM1125.7 96.2h14.2l-7.1 13zM1127.3 97h14.2l-7.1 13zM1128.9 97h14.2l-7.1 13zM1130.4 97.6h14.2l-7.1 13zM1132 98.7h14.2l-7.1 13zM1133.6 98.2h14.2l-7.1 13zM1135.2 99.7h14.2l-7.1 13zM1136.7 100.6h14.2l-7.1 13zM1138.3 100.7h14.2l-7.1 13zM1139.9 101.3h14.2l-7.1 13zM1141.5 102.8h14.2l-7.1 13zM1143 102.7h14.2l-7.1 13zM1144.6 103.4h14.2l-7.1 13zM1146.2 104.4h14.2l-7.1 13zM1147.8 105.5h14.2l-7.1 13zM1149.3 105.4h14.2l-7.1 13zM1150.9 106.4h14.2l-7.1 13zM1152.5 107.1h14.2l-7.1 13zM1154.1 108.3h14.2l-7.1 13zM1155.7 108.1h14.2l-7.1 13zM1157.2 109h14.2l-7.1 13zM1158.8 108.4h14.2l-7.1 13zM1160.4 109h14.2l-7.1 13zM1162 109.8h14.2l-7.1 13zM1163.5 110.5h14.2l-7.1 13zM1165.1 110.3h14.2l-7.1 13zM1166.7 110.1h14.2l-7.1 13zM1168.3 109.9h14.2l-7.1 13zM1169.8 110.4h14.2l-7.1 13zM1171.4 109.8h14.2l-7.1 13zM1173 110.6h14.2l-7.1 13zM1174.6 110.5h14.2l-7.1 13zM1176.1 109.2h14.2l-7.1 13zM1177.7 108.9h14.2l-7.1 13zM1179.3 109.1h14.2l-7.1 13zM1180.9 108.4h14.2l-7.1 13zM1182.5 108.2h14.2l-7.1 13zM1184 107.1h14.2l-7.1 13zM1185.6 106.2h14.2l-7.1 13zM1187.2 105.6h14.2l-7.1 13zM1188.8 105.5h14.2l-7.1 13zM1190.3 104h14.2l-7.1 13zM1191.9 103.3h14.2l-7.1 13zM1193.5 102.6h14.2l-7.1 13zM1195.1 101.8h14.2l-7.1 13zM1196.6 100.9h14.2l-7.1 13zM1198.2 100.6h14.2l-7.1 13zM1199.8 98.6h14.2l-7.1 13zM1201.4 97.5h14.2l-7.1 13zM1202.9 97.8h14.2l-7.1 13zM1204.5 96.8h14.2l-7.1 13zM1206.1 96h14.2l-7.1 13zM1207.7 94.3h14.2l-7.1 13zM1209.3 94.1h14.2l-7.1 13zM1210.8 93.1h14.2l-7.1 13zM1212.4 91.1h14.2l-7.1 13zM1214 90.9h14.2l-7.1 13zM1215.6 90.1h14.2l-7.1 13zM1217.1 89h14.2l-7.1 13zM1218.7 88h14.2l-7.1 13zM1220.3 86.8h14.2l-7.1 13zM1221.9 86h14.2l-7.1 13zM1223.4 85h14.2l-7.1 13zM1225 83.9h14.2l-7.1 13zM1226.6 84.3h14.2l-7.1 13zM1228.2 83.6h14.2l-7.1 13zM1229.7 84.1h14.2l-7.1 13zM1231.3 82.7h14.2l-7.1 13zM1232.9 83.6h14.2l-7.1 13zM1234.5 83.3h14.2l-7.1 13zM1236.1 83.6h14.2l-7.1 13zM1237.6 83.6h14.2l-7.1 13zM1239.2 83.6h14.2l-7.1 13zM1240.8 83.1h14.2l-7.1 13zM1242.4 82.4h14.2l-7.1 13zM1243.9 83.4h14.2l-7.1 13zM1245.5 82.6h14.2l-7.1 13zM1247.1 82.8h14.2l-7.1 13zM1248.7 71.9h14.2l-7.1 13zM1249.2 122.1h14.2l-7.1 13zM1250.7 164.7h14.2l-7.1 13zM1252.2 197.2h14.2l-7.1 13zM1253.2 220.7h14.2l-7.1 13zM1254.7 239.7h14.2l-7.1 13zM1256.2 254.7h14.2l-7.1 13zM1257.7 267.2h14.2l-7.1 13zM1259.2 278.7h14.2l-7.1 13zM1261.2 289.7h14.2l-7.1 13zM1263.2 299.7h14.2l-7.1 13zM1265.2 309.7h14.2l-7.1 13zM1267.2 318.8h14.2l-7.1 13zM1269.2 325.8h14.2l-7.1 13zM1270.8 331.6h14.2l-7.1 13zM1272.4 336.7h14.2l-7.1 13zM1274 341.4h14.2l-7.1 13zM1275.5 345.5h14.2l-7.1 13zM1277.1 348.5h14.2l-7.1 13zM1278.7 351.3h14.2l-7.1 13zM1280.3 353.6h14.2l-7.1 13zM1281.8 356.5h14.2l-7.1 13zM1283.4 358.5h14.2l-7.1 13zM1285 360.8h14.2l-7.1 13zM1286.6 362h14.2l-7.1 13zM1288.1 363.4h14.2l-7.1 13zM1289.7 365.3h14.2l-7.1 13zM1291.3 367.2h14.2l-7.1 13zM1292.9 367.9h14.2l-7.1 13zM1294.4 369.7h14.2l-7.1 13zM1296 371.1h14.2l-7.1 13zM1297.6 372.3h14.2l-7.1 13zM1299.2 373.6h14.2l-7.1 13zM1300.8 373.9h14.2l-7.1 13zM1302.3 375.7h14.2l-7.1 13zM1303.9 377.1h14.2l-7.1 13zM1305.5 377.4h14.2l-7.1 13zM1307.1 378.8h14.2l-7.1 13zM1308.6 379.8h14.2l-7.1 13zM1310.2 381.1h14.2l-7.1 13zM1311.8 382.1h14.2l-7.1 13zM1313.4 383.2h14.2l-7.1 13zM1314.9 384.5h14.2l-7.1 13zM1316.5 384.7h14.2l-7.1 13zM1318.1 385.7h14.2l-7.1 13zM1319.7 386.7h14.2l-7.1 13zM1321.2 387.6h14.2l-7.1 13zM1322.8 388.5h14.2l-7.1 13zM1324.4 390.4h14.2l-7.1 13zM1326 391.2h14.2l-7.1 13zM1327.6 391.4h14.2l-7.1 13zM1329.1 392.7h14.2l-7.1 13zM1330.7 393.5h14.2l-7.1 13zM1332.3 394.4h14.2l-7.1 13zM1333.9 395.4h14.2l-7.1 13zM1335.4 396.6h14.2l-7.1 13zM1337 397.4h14.2l-7.1 13zM1338.6 398h14.2l-7.1 13zM1340.2 398.7h14.2l-7.1 13zM1341.7 399.7h14.2l-7.1 13zM1343.3 400.4h14.2l-7.1 13zM1344.9 401.7h14.2l-7.1 13zM1346.5 402.6h14.2l-7.1 13zM1348.1 403.1h14.2l-7.1 13zM1349.6 403.6h14.2l-7.1 13zM1351.2 404.4h14.2l-7.1 13zM1352.8 405.4h14.2l-7.1 13zM1354.4 406.4h14.2l-7.1 13zM1355.9 407.4h14.2l-7.1 13zM1357.5 407.8h14.2l-7.1 13zM1359.1 409h14.2l-7.1 13zM1360.7 409.6h14.2l-7.1 13zM1362.2 410.2h14.2l-7.1 13zM1363.8 410.9h14.2l-7.1 13zM1365.4 411.9h14.2l-7.1 13zM1367 412.9h14.2l-7.1 13zM1368.5 413.4h14.2l-7.1 13zM1370.1 414.4h14.2l-7.1 13zM1371.7 415h14.2l-7.1 13zM1373.3 415.5h14.2l-7.1 13zM1374.9 416.6h14.2l-7.1 13zM1376.4 417.5h14.2l-7.1 13zM1378 417.6h14.2l-7.1 13zM1379.6 418.6h14.2l-7.1 13zM1381.2 419.3h14.2l-7.1 13zM1382.7 420.5h14.2l-7.1 13zM1384.3 421.3h14.2l-7.1 13zM1385.9 421.3h14.2l-7.1 13zM1387.5 422.5h14.2l-7.1 13zM1389 423h14.2l-7.1 13zM1390.6 423.2h14.2l-7.1 13zM1392.2 424h14.2l-7.1 13zM1393.8 424.3h14.2l-7.1 13zM1395.3 425.6h14.2l-7.1 13zM1396.9 426.1h14.2l-7.1 13zM1398.5 427h14.2l-7.1 13zM1400.1 427.5h14.2l-7.1 13zM1401.7 428h14.2l-7.1 13zM1403.2 428.7h14.2l-7.1 13zM1404.8 429.1h14.2l-7.1 13zM1406.4 429.3h14.2l-7.1 13zM1408 430.4h14.2l-7.1 13zM1409.5 430.4h14.2l-7.1 13zM1411.1 431.2h14.2l-7.1 13zM1412.7 432.5h14.2l-7.1 13zM1414.3 432.3h14.2l-7.1 13zM1415.8 432.9h14.2l-7.1 13zM1417.4 433.5h14.2l-7.1 13zM1419 434.8h14.2l-7.1 13zM1420.6 434.7h14.2l-7.1 13zM1422.1 435.1h14.2l-7.1 13zM1423.7 436.5h14.2l-7.1 13zM1425.3 436.3h14.2l-7.1 13zM1426.9 437.6h14.2l-7.1 13zM1428.5 437.9h14.2l-7.1 13zM1430 438.7h14.2l-7.1 13zM1431.6 439.3h14.2l-7.1 13zM1433.2 439.5h14.2l-7.1 13zM1434.8 440.3h14.2l-7.1 13zM1436.3 440.1h14.2l-7.1 13zM1437.9 441.4h14.2l-7.1 13zM1439.5 441.8h14.2l-7.1 13zM1441.1 442.6h14.2l-7.1 13zM1442.6 442.6h14.2l-7.1 13zM1444.2 443.8h14.2l-7.1 13zM1445.8 444.6h14.2l-7.1 13zM1447.4 444.3h14.2l-7.1 13zM1448.9 445.1h14.2l-7.1 13zM1450.5 446h14.2l-7.1 13zM1452.1 446.8h14.2l-7.1 13zM1453.7 446.8h14.2l-7.1 13zM1455.3 447.3h14.2l-7.1 13zM1456.8 447.9h14.2l-7.1 13zM1458.4 448.8h14.2l-7.1 13zM1460 449.4h14.2l-7.1 13zM1461.6 449.6h14.2l-7.1 13zM1463.1 450.1h14.2l-7.1 13zM1464.7 450.6h14.2l-7.1 13zM1466.3 451.1h14.2l-7.1 13zM1467.9 451.6h14.2l-7.1 13zM1469.4 451.8h14.2l-7.1 13zM1471 452.8h14.2l-7.1 13zM1472.6 453.7h14.2l-7.1 13zM1474.2 453.7h14.2l-7.1 13zM1475.7 454.6h14.2l-7.1 13zM1477.3 454.5h14.2l-7.1 13zM1478.9 455.6h14.2l-7.1 13zM1480.5 456.2h14.2l-7.1 13zM1482.1 456.7h14.2l-7.1 13zM1483.6 457.1h14.2l-7.1 13zM1485.2 457.6h14.2l-7.1 13zM1486.8 458.3h14.2l-7.1 13zM1488.4 459.1h14.2l-7.1 13zM1489.9 458.9h14.2l-7.1 13zM1491.5 459.4h14.2l-7.1 13zM1493.1 460.6h14.2l-7.1 13zM1494.7 461.4h14.2l-7.1 13zM1496.2 461.5h14.2l-7.1 13zM1497.8 461.9h14.2l-7.1 13zM1499.4 462.7h14.2l-7.1 13zM1501 462.6h14.2l-7.1 13zM1502.5 463.2h14.2l-7.1 13zM1504.1 463.7h14.2l-7.1 13zM1505.7 464.5h14.2l-7.1 13zM1507.3 464.8h14.2l-7.1 13zM1508.9 465.2h14.2l-7.1 13zM1510.4 466.2h14.2l-7.1 13zM1512 466.9h14.2l-7.1 13zM1513.6 466.8h14.2l-7.1 13zM1515.2 467.7h14.2l-7.1 13zM1516.7 467.9h14.2l-7.1 13zM1518.3 468.8h14.2l-7.1 13z" fill="#2ff2b3"/>
</g>
<path d="M926.5 52.6H996.5" stroke="#2ff2b3" stroke-width="2.5"/>
<path d="M954.8 47.7h15l-7.5 13z" fill="#2ff2b3"/>
<text x="1003.6" y="62.5" font-size="26.6" text-anchor="start" fill="#2ff2b3"  class="g">Co-doped-MnO<tspan font-size="18" dy="7.5">2</tspan><tspan dy="-7.5" font-size="1">&#8203;</tspan>@MnCo<tspan font-size="18" dy="7.5">2</tspan><tspan dy="-7.5" font-size="1">&#8203;</tspan>O<tspan font-size="18" dy="7.5">4.5</tspan><tspan dy="-7.5" font-size="1">&#8203;</tspan></text>
<text x="917.5" y="117.5" font-size="25.6" text-anchor="start" fill="#000" letter-spacing="0.3">170 °C</text>
<text x="917.5" y="151.5" font-size="25.6" text-anchor="start" fill="#000" letter-spacing="0.3">50 ppm TEA</text>
<path d="M1081.5 249.3L1064.5 245.1L1070 249.3L1064.5 253.5z" fill="#000"/>
<path d="M1070 249.3H1062.5M1060 249.3H1057.5M1054.5 249.3H1044.5" stroke="#000" stroke-width="1.6" fill="none"/>
<path d="M1097.8 249.3L1114.8 245.1L1109.3 249.3L1114.8 253.5z" fill="#000"/>
<path d="M1109.3 249.3H1116.8M1119.3 249.3H1121.8M1124.8 249.3H1134.8" stroke="#000" stroke-width="1.6" fill="none"/>
<path d="M1252.8 249.3L1235.8 245.1L1241.3 249.3L1235.8 253.5z" fill="#000"/>
<path d="M1241.3 249.3H1233.8M1231.3 249.3H1228.8M1225.8 249.3H1215.8" stroke="#000" stroke-width="1.6" fill="none"/>
<path d="M1407.5 249.3L1424.5 245.1L1419 249.3L1424.5 253.5z" fill="#000"/>
<path d="M1419 249.3H1426.5M1429 249.3H1431.5M1434.5 249.3H1444.5" stroke="#000" stroke-width="1.6" fill="none"/>
<rect x="1081.2" y="30.9" width="14.7" height="504.5" fill="rgba(146,156,247,0.335)"/>
<rect x="1254.6" y="30.9" width="150.7" height="504.5" fill="rgba(146,156,247,0.335)"/>
<text x="909.5" y="243.5" font-size="25.8" text-anchor="start" fill="#000" >T<tspan font-size="17.8" dy="7.5">response</tspan><tspan dy="-7.5" font-size="1">&#8203;</tspan>=9 s</text>
<text x="1269.5" y="238.5" font-size="25.8" text-anchor="start" fill="#000" >T<tspan font-size="17.8" dy="7.5">response</tspan><tspan dy="-7.5" font-size="1">&#8203;</tspan>=93 s</text>
<rect x="895" y="31.9" width="630.6" height="505.1" fill="none" stroke="#000" stroke-width="1.9"/>
<path d="M895 480h-10M895 390.4h-10M895 300.8h-10M895 211.1h-10M895 121.5h-10M895 31.9h-10" stroke="#000" stroke-width="2.0" fill="none"/>
<path d="M895 524.8h-5M895 435.2h-5M895 345.6h-5M895 255.9h-5M895 166.3h-5M895 76.7h-5" stroke="#000" stroke-width="2.0" fill="none"/>
<path d="M895 537v9.5M973.8 537v9.5M1052.7 537v9.5M1131.5 537v9.5M1210.3 537v9.5M1289.1 537v9.5M1367.9 537v9.5M1446.8 537v9.5M1525.6 537v9.5" stroke="#000" stroke-width="2.0" fill="none"/>
<path d="M934.4 537v5M1013.2 537v5M1092.1 537v5M1170.9 537v5M1249.7 537v5M1328.5 537v5M1407.4 537v5M1486.2 537v5" stroke="#000" stroke-width="2.0" fill="none"/>
<text x="876.2" y="488.6" font-size="30.2" text-anchor="end" fill="#000" >0.8</text>
<text x="876.2" y="399" font-size="30.2" text-anchor="end" fill="#000" >1.6</text>
<text x="876.2" y="309.4" font-size="30.2" text-anchor="end" fill="#000" >2.4</text>
<text x="876.2" y="219.7" font-size="30.2" text-anchor="end" fill="#000" >3.2</text>
<text x="876.2" y="130.1" font-size="30.2" text-anchor="end" fill="#000" >4.0</text>
<text x="876.2" y="40.5" font-size="30.2" text-anchor="end" fill="#000" >4.8</text>
<text x="895" y="577.5" font-size="30.8" text-anchor="middle" fill="#000" >0</text>
<text x="973.8" y="577.5" font-size="30.8" text-anchor="middle" fill="#000" >50</text>
<text x="1052.7" y="577.5" font-size="30.8" text-anchor="middle" fill="#000" >100</text>
<text x="1131.5" y="577.5" font-size="30.8" text-anchor="middle" fill="#000" >150</text>
<text x="1210.3" y="577.5" font-size="30.8" text-anchor="middle" fill="#000" >200</text>
<text x="1289.1" y="577.5" font-size="30.8" text-anchor="middle" fill="#000" >250</text>
<text x="1367.9" y="577.5" font-size="30.8" text-anchor="middle" fill="#000" >300</text>
<text x="1446.8" y="577.5" font-size="30.8" text-anchor="middle" fill="#000" >350</text>
<text x="1525.6" y="577.5" font-size="30.8" text-anchor="middle" fill="#000" >400</text>
<text x="1212" y="616" font-size="36.0" text-anchor="middle" fill="#000" >Time (s)</text>
<text transform="translate(813.5 284.5) rotate(-90)" font-size="35.6" text-anchor="middle">Resistance (kΩ)</text>
<text x="766.5" y="38.6" font-size="52" text-anchor="start" fill="#000" >(b)</text>
</g>
<g id="panelC">
<clipPath id="cc"><rect x="124" y="627.8" width="626" height="503.4"/></clipPath><g clip-path="url(#cc)">
<path d="M124 1094.7L124.3 1095.1L124.6 1095.1L124.9 1095.4L125.3 1094.9L125.6 1095L125.9 1095.3L126.2 1095.1L126.5 1095.1L126.8 1094.7L127.1 1095.4L127.4 1094.5L127.8 1095L128.1 1094.9L128.4 1095.1L128.7 1094.7L129 1094.8L129.3 1095.1L129.6 1095.2L129.9 1094.9L130.3 1094.8L130.6 1095.3L130.9 1095L131.2 1094.7L131.5 1095.3L131.8 1095.6L132.1 1095.6L132.5 1095.1L132.8 1095.1L133.1 1094.9L133.4 1095L133.7 1095.7L134 1095.7L134.3 1095.7L134.6 1095.8L135 1095.2L135.3 1095.1L135.6 1095.1L135.9 1095.8L136.2 1095.2L136.5 1095.8L136.8 1095.7L137.1 1095.4L137.5 1096.1L137.8 1096.1L138.1 1095.3L138.4 1095.9L138.7 1095.8L139 1095.6L139.3 1095.5L139.7 1096.3L140 1096L140.3 1095.9L140.6 1095.8L140.9 1096.1L141.2 1095.8L141.5 1095.4L141.8 1096L142.2 1095.9L142.5 1096.3L142.8 1096.2L143.1 1095.8L143.4 1096.4L143.7 1095.6L144 1095.6L144.3 1096.5L144.7 1095.6L145 1096.2L145.3 1095.8L145.6 1095.8L145.9 1096.4L146.2 1096L146.5 1096L146.8 1095.9L147.2 1096.5L147.5 1096L147.8 1095.8L148.1 1096.1L148.4 1096.3L148.7 1096.7L149 1096.3L149.4 1096.5L149.7 1096.1L150 1096.2L150.3 1096.3L150.6 1096.8L150.9 1096.3L151.2 1096.3L151.5 1096.8L151.9 1096.1L152.2 1096.4L152.5 1096.9L152.8 1096.1L153.1 1097L153.4 1096.8L153.7 1096.4L154 1096.5L154.4 1096.6L154.7 1096.5L155 1096.7L155.3 1096.9L155.6 1097.1L155.9 1097.2L156.2 1096.5L156.6 1096.5L156.9 1096.8L157.2 1096.6L157.5 1097L157.8 1097.1L158.1 1097L158.4 1096.5L158.7 1097.4L159.1 1096.9L159.4 1097.2L159.7 1096.7L160 1097.2L160.3 1097.2L160.6 1097.1L160.9 1097L161.2 1096.8L161.6 1097.3L161.9 1096.8L162.2 1097.6L162.5 1097.4L162.8 1097.6L163.1 1097.6L163.4 1096.9L163.8 1097L164.1 1097.6L164.4 1097.6L164.7 1097.4L165 1097.1L165.3 1097L165.6 1097.1L165.9 1097.3L166.3 1097.8L166.6 1097.5L166.9 1097.8L167.2 1097.4L167.5 1097.3L167.8 1084.4L168.1 1061.1L168.4 1039.5L168.8 1026.3L169.1 1013.5L169.4 1006.2L169.7 1001.4L170 999.7L170.3 996.9L170.6 995.1L170.9 993.5L171.3 991.4L171.6 991L171.9 991L172.2 988.4L172.5 988.4L172.8 987L173.1 985.4L173.5 990.2L173.8 984.9L174.1 985.6L174.4 986.7L174.7 986.4L175 986.7L175.3 988.4L175.6 986.1L176 989.3L176.3 986.2L176.6 985.1L176.9 986.4L177.2 985.5L177.5 982.8L177.8 983.2L178.1 988.1L178.5 983.7L178.8 984.7L179.1 988.5L179.4 986.3L179.7 987.1L180 988.1L180.3 984.9L180.7 982.2L181 986.2L181.3 982.5L181.6 983.6L181.9 987.3L182.2 982.3L182.5 984L182.8 981.7L183.2 983.1L183.5 982.8L183.8 985.4L184.1 982.2L184.4 981.3L184.7 981.7L185 984.5L185.3 982.3L185.7 984L186 986.4L186.3 986.8L186.6 986.5L186.9 985.6L187.2 985.8L187.5 983.5L187.9 982L188.2 983L188.5 983.7L188.8 982.2L189.1 984.4L189.4 983.2L189.7 981.2L190 983.5L190.4 984.9L190.7 980L191 981.2L191.3 983.4L191.6 983.3L191.9 982.2L192.2 981.7L192.5 984.1L192.9 985.5L193.2 984L193.5 980.1L193.8 984.3L194.1 982.1L194.4 983.8L194.7 983.7L195.1 983.9L195.4 982.2L195.7 983.7L196 984.6L196.3 984L196.6 983.5L196.9 981.3L197.2 984.1L197.6 984.2L197.9 981.3L198.2 981.5L198.5 979.5L198.8 983.8L199.1 981.3L199.4 981.3L199.7 983.7L200.1 977.3L200.4 982.3L200.7 983L201 980.2L201.3 998.8L201.6 1009.7L201.9 1018.8L202.2 1026.4L202.6 1032.5L202.9 1036.8L203.2 1041.7L203.5 1044.8L203.8 1048.4L204.1 1050.8L204.4 1054L204.8 1056.3L205.1 1058.3L205.4 1059.6L205.7 1061.5L206 1063.4L206.3 1065.1L206.6 1065.9L206.9 1066.9L207.3 1068.5L207.6 1070.3L207.9 1071.3L208.2 1072.3L208.5 1073.2L208.8 1074.3L209.1 1075.2L209.4 1075.4L209.8 1076L210.1 1077.5L210.4 1077.4L210.7 1078.7L211 1079L211.3 1079.6L211.6 1080.2L212 1081.7L212.3 1082L212.6 1082.3L212.9 1082.4L213.2 1083.9L213.5 1084.1L213.8 1084L214.1 1085.3L214.5 1085.4L214.8 1085.9L215.1 1085.9L215.4 1086L215.7 1087.2L216 1086.9L216.3 1087.3L216.6 1087.5L217 1088.1L217.3 1088L217.6 1088.9L217.9 1089.1L218.2 1089.6L218.5 1089.2L218.8 1089.8L219.2 1090.3L219.5 1090.6L219.8 1090.2L220.1 1090.5L220.4 1090.6L220.7 1091.2L221 1091.2L221.3 1091.8L221.7 1091.3L222 1092.2L222.3 1091.9L222.6 1091.7L222.9 1092L223.2 1092.7L223.5 1092.7L223.8 1092.2L224.2 1092.5L224.5 1092.4L224.8 1092.5L225.1 1093L225.4 1092.7L225.7 1092.9L226 1093.5L226.4 1093.5L226.7 1093.9L227 1093.6L227.3 1093.1L227.6 1094.1L227.9 1093.7L228.2 1094.3L228.5 1094.3L228.9 1093.8L229.2 1094.3L229.5 1094.6L229.8 1094.5L230.1 1094L230.4 1094.2L230.7 1094.8L231 1094.6L231.4 1093.9L231.7 1094.7L232 1094.4L232.3 1094.6L232.6 1094.3L232.9 1094.5L233.2 1094.3L233.6 1094.6L233.9 1095L234.2 1095.1L234.5 1095.2L234.8 1094.4L235.1 1095.2L235.4 1095.3L235.7 1094.4L236.1 1095.2L236.4 1094.5L236.7 1095.4L237 1095L237.3 1095.3L237.6 1094.6L237.9 1094.9L238.2 1094.9L238.6 1094.8L238.9 1094.7L239.2 1095.2L239.5 1095L239.8 1095.2L240.1 1095.5L240.4 1094.8L240.7 1095.1L241.1 1094.8L241.4 1095.5L241.7 1095.1L242 1095.2L242.3 1095L242.6 1095.7L242.9 1095.4L243.3 1095.3L243.6 1095.7L243.9 1095.2L244.2 1095L244.5 1095.4L244.8 1095.1L245.1 1095.2L245.4 1095.6L245.8 1095.5L246.1 1094.8L246.4 1095.5L246.7 1095.4L247 1095.8L247.3 1095.6L247.6 1095.7L247.9 1094.9L248.3 1095.1L248.6 1094.9L248.9 1094.8L249.2 1095.2L249.5 1094.9L249.8 1095.3L250.1 1095.5L250.5 1094.9L250.8 1094.9L251.1 1094.9L251.4 1095.4L251.7 1095.1L252 1095.5L252.3 1094.9L252.6 1094.9L253 1095.6L253.3 1094.9L253.6 1095.7L253.9 1095.8L254.2 1095.2L254.5 1095.6L254.8 1095.4L255.1 1095.3L255.5 1095.9L255.8 1095.2L256.1 1095.7L256.4 1095.6L256.7 1086L257 1062.9L257.3 1036.5L257.7 1011.1L258 987L258.3 964.9L258.6 945.9L258.9 930.4L259.2 916.8L259.5 904.1L259.8 895.3L260.2 887.2L260.5 881.3L260.8 876.7L261.1 874L261.4 871.2L261.7 867.9L262 865L262.3 862.7L262.7 860.8L263 859.5L263.3 856.6L263.6 856.6L263.9 854.7L264.2 852.2L264.5 851.1L264.9 851.2L265.2 850L265.5 847.3L265.8 848.2L266.1 846.6L266.4 844.3L266.7 843.1L267 842.9L267.4 842L267.7 840.4L268 837.1L268.3 839.1L268.6 835.6L268.9 836.9L269.2 835.6L269.5 842L269.9 841L270.2 842.1L270.5 839.3L270.8 839.9L271.1 841.9L271.4 838.5L271.7 841.6L272 840.1L272.4 840.5L272.7 836.8L273 839.4L273.3 840.5L273.6 841.9L273.9 839.3L274.2 838L274.6 837.7L274.9 836.1L275.2 836.8L275.5 840.5L275.8 841.3L276.1 837.1L276.4 836.9L276.7 838.8L277.1 836.6L277.4 838.5L277.7 840.3L278 841.1L278.3 842.1L278.6 837.9L278.9 836.2L279.2 836.1L279.6 839.1L279.9 837.7L280.2 836L280.5 836.7L280.8 838.2L281.1 839.4L281.4 838.7L281.8 841.1L282.1 841L282.4 837.6L282.7 835.6L283 838.5L283.3 839.5L283.6 839.8L283.9 839.2L284.3 836.8L284.6 839.2L284.9 835.8L285.2 841.2L285.5 840.1L285.8 838.7L286.1 839.4L286.4 836.5L286.8 838.5L287.1 865.3L287.4 884.4L287.7 901L288 914.6L288.3 927.3L288.6 938.7L289 949.1L289.3 957.8L289.6 965.8L289.9 974.2L290.2 980.3L290.5 986.8L290.8 992.3L291.1 997.1L291.5 1001.8L291.8 1006.5L292.1 1011.1L292.4 1014.1L292.7 1018.3L293 1021.4L293.3 1024L293.6 1027.4L294 1030.1L294.3 1032L294.6 1034.4L294.9 1037.3L295.2 1039.4L295.5 1041.6L295.8 1043.7L296.1 1045.4L296.5 1046.4L296.8 1049.1L297.1 1050.6L297.4 1052.2L297.7 1053.8L298 1054.8L298.3 1055.9L298.7 1057.1L299 1058.6L299.3 1059.7L299.6 1061.7L299.9 1062.6L300.2 1063L300.5 1065L300.8 1065.8L301.2 1066.6L301.5 1067.8L301.8 1068.4L302.1 1069.9L302.4 1070.6L302.7 1070.6L303 1072.3L303.3 1072.3L303.7 1073.8L304 1073.7L304.3 1074.8L304.6 1075.5L304.9 1076.7L305.2 1077.5L305.5 1077.3L305.9 1078.6L306.2 1079.2L306.5 1079.1L306.8 1079.6L307.1 1081L307.4 1080.5L307.7 1081.5L308 1082.1L308.4 1082.9L308.7 1083.1L309 1082.9L309.3 1084.1L309.6 1084.7L309.9 1085L310.2 1085.5L310.5 1085.6L310.9 1085.4L311.2 1086.6L311.5 1086.8L311.8 1086.4L312.1 1086.6L312.4 1087L312.7 1088.1L313.1 1088.3L313.4 1087.9L313.7 1088.7L314 1088.7L314.3 1089.4L314.6 1090L314.9 1089.9L315.2 1089.7L315.6 1089.9L315.9 1090.3L316.2 1090.7L316.5 1090.8L316.8 1091.1L317.1 1091.2L317.4 1091.1L317.7 1092.4L318.1 1076.9L318.4 1045.9L318.7 1012.7L319 983.6L319.3 955.2L319.6 932.4L319.9 914.9L320.3 899.3L320.6 887.4L320.9 878.1L321.2 867.8L321.5 863L321.8 856.4L322.1 853.8L322.4 850.1L322.8 844.1L323.1 840.9L323.4 837.2L323.7 835L324 832.5L324.3 828.9L324.6 827.9L324.9 823.9L325.3 821.4L325.6 819.4L325.9 815.4L326.2 813.4L326.5 810.2L326.8 807.8L327.1 807.9L327.4 807.6L327.8 806L328.1 803.5L328.4 803.8L328.7 804.3L329 804.4L329.3 808.1L329.6 803.5L330 808.2L330.3 809.2L330.6 806.7L330.9 805.1L331.2 807.8L331.5 805.7L331.8 808.1L332.1 803.6L332.5 807L332.8 806.8L333.1 806.5L333.4 804.2L333.7 803.4L334 806.5L334.3 807.1L334.6 805.9L335 809.6L335.3 807.2L335.6 804.4L335.9 804.8L336.2 809.6L336.5 804.3L336.8 807.5L337.2 803.5L337.5 807.6L337.8 808.6L338.1 806.4L338.4 804.1L338.7 807.2L339 804.2L339.3 805.3L339.7 807.6L340 808L340.3 806.7L340.6 807.4L340.9 807.5L341.2 805.7L341.5 804.2L341.8 806.1L342.2 809.1L342.5 808.6L342.8 807.6L343.1 805.9L343.4 809.1L343.7 809.5L344 807.9L344.4 808.1L344.7 809.8L345 806.4L345.3 803.9L345.6 806.5L345.9 805.1L346.2 804.5L346.5 804.4L346.9 803.9L347.2 807.1L347.5 805.5L347.8 809.2L348.1 804.1L348.4 807.5L348.7 806.9L349 804.1L349.4 808.1L349.7 808.8L350 804.5L350.3 806.6L350.6 845.8L350.9 868.6L351.2 886.5L351.6 902.6L351.9 915.5L352.2 928.4L352.5 939L352.8 948.5L353.1 956.8L353.4 964.5L353.7 971.2L354.1 977.3L354.4 983.2L354.7 988.7L355 992.4L355.3 997.1L355.6 1001.7L355.9 1005.1L356.2 1008.2L356.6 1011.2L356.9 1015.2L357.2 1018.1L357.5 1020.3L357.8 1022.9L358.1 1024.9L358.4 1027.3L358.8 1030L359.1 1032L359.4 1033.9L359.7 1035.5L360 1038.1L360.3 1039.7L360.6 1041.7L360.9 1042.8L361.3 1045L361.6 1045.6L361.9 1047.6L362.2 1048.9L362.5 1050.9L362.8 1052.1L363.1 1053.1L363.4 1053.9L363.8 1055.5L364.1 1057L364.4 1057.4L364.7 1058.8L365 1060L365.3 1061.4L365.6 1062.3L365.9 1062.7L366.3 1064.4L366.6 1064.9L366.9 1065.7L367.2 1066.9L367.5 1067.3L367.8 1067.9L368.1 1068.8L368.5 1069.7L368.8 1071L369.1 1071.9L369.4 1072.2L369.7 1073L370 1073.8L370.3 1073.7L370.6 1075L371 1074.9L371.3 1075.4L371.6 1076.8L371.9 1076.5L372.2 1077.6L372.5 1078.3L372.8 1078.9L373.1 1079.5L373.5 1079.5L373.8 1080.1L374.1 1080L374.4 1080.5L374.7 1081.7L375 1081.7L375.3 1082.2L375.7 1082.8L376 1083.1L376.3 1083.4L376.6 1083.3L376.9 1084L377.2 1084.6L377.5 1084.8L377.8 1084.8L378.2 1085L378.5 1085.6L378.8 1085.4L379.1 1086.2L379.4 1086L379.7 1086.3L380 1087L380.3 1086.7L380.7 1087.3L381 1087.4L381.3 1087.5L381.6 1087.7L381.9 1088.1L382.2 1088.7L382.5 1088.1L382.9 1087.7L383.2 1060.7L383.5 1006.5L383.8 952.2L384.1 903.5L384.4 866.3L384.7 838.6L385 815.8L385.4 800L385.7 790.7L386 780.9L386.3 776.4L386.6 772.7L386.9 767.9L387.2 769.2L387.5 765.7L387.9 766.2L388.2 769L388.5 766L388.8 763.7L389.1 766.1L389.4 765.7L389.7 763.4L390.1 766.2L390.4 765.9L390.7 765.3L391 763.7L391.3 767.8L391.6 768.5L391.9 764.1L392.2 765.5L392.6 767.1L392.9 763.2L393.2 763.2L393.5 765.5L393.8 762.5L394.1 763.6L394.4 764.2L394.7 767.2L395.1 769.1L395.4 764.6L395.7 764.2L396 766.8L396.3 766L396.6 765.4L396.9 767.5L397.2 764.5L397.6 765.4L397.9 766.6L398.2 768.4L398.5 765.5L398.8 767L399.1 764.3L399.4 768L399.8 766.5L400.1 767.9L400.4 766.4L400.7 765.3L401 768.5L401.3 768.8L401.6 765.9L401.9 767.8L402.3 765.8L402.6 768L402.9 768.5L403.2 765.6L403.5 763L403.8 763.4L404.1 765.7L404.4 766.5L404.8 768.7L405.1 767.3L405.4 767.1L405.7 762.9L406 768.4L406.3 762.8L406.6 766L407 766.3L407.3 767.4L407.6 762.7L407.9 767.9L408.2 765.3L408.5 765.7L408.8 767.8L409.1 767.7L409.5 762.6L409.8 763.9L410.1 764.3L410.4 763.1L410.7 768.5L411 764.5L411.3 764.1L411.6 767.7L412 766.1L412.3 762.6L412.6 766L412.9 854.7L413.2 881.7L413.5 897.3L413.8 911L414.2 922.4L414.5 933L414.8 941.7L415.1 950.2L415.4 958L415.7 964.6L416 971L416.3 976.2L416.7 981.9L417 986.3L417.3 990.6L417.6 994.9L417.9 999L418.2 1002.3L418.5 1005.1L418.8 1008.6L419.2 1010.8L419.5 1013.8L419.8 1015.9L420.1 1018.5L420.4 1020.9L420.7 1023.5L421 1025.9L421.4 1027.4L421.7 1029.1L422 1030.8L422.3 1033.3L422.6 1035.1L422.9 1035.9L423.2 1037.7L423.5 1039.5L423.9 1040.7L424.2 1042.8L424.5 1043.8L424.8 1045L425.1 1046.3L425.4 1048.1L425.7 1049.3L426 1050L426.4 1050.8L426.7 1052.7L427 1053.9L427.3 1054.9L427.6 1055.2L427.9 1056.6L428.2 1057.5L428.5 1057.8L428.9 1059.1L429.2 1060.4L429.5 1060.7L429.8 1062.3L430.1 1062.8L430.4 1063.1L430.7 1064.5L431.1 1065.3L431.4 1065.5L431.7 1066.4L432 1066.4L432.3 1068L432.6 1067.9L432.9 1069L433.2 1069.1L433.6 1070.1L433.9 1070.4L434.2 1071.3L434.5 1072L434.8 1072.2L435.1 1072.4L435.4 1073.3L435.7 1073.9L436.1 1074.2L436.4 1075L436.7 1075.2L437 1075.4L437.3 1075.8L437.6 1076.1L437.9 1076.9L438.3 1077.5L438.6 1077.9L438.9 1077.9L439.2 1078.4L439.5 1078.4L439.8 1079L440.1 1078.8L440.4 1079.3L440.8 1079.5L441.1 1079.7L441.4 1080.2L441.7 1080.6L442 1081L442.3 1081.5L442.6 1081L442.9 1081.6L443.3 1082.2L443.6 1081.6L443.9 1082.2L444.2 1082.4L444.5 1082.8L444.8 1083.3L445.1 1082.6L445.5 1083.7L445.8 1083.7L446.1 1083.2L446.4 1084.9L446.7 1059.7L447 1011.3L447.3 960.2L447.6 912.1L448 875.5L448.3 846L448.6 821.5L448.9 805.4L449.2 790.7L449.5 780.8L449.8 773.7L450.1 770.8L450.5 765.2L450.8 763.1L451.1 760.1L451.4 758.5L451.7 756.7L452 755.6L452.3 752.8L452.6 752.9L453 749.3L453.3 750.5L453.6 746.8L453.9 747.6L454.2 748.6L454.5 744.1L454.8 745.5L455.2 743.9L455.5 745.7L455.8 744.9L456.1 748.5L456.4 744.6L456.7 745.6L457 742.6L457.3 749L457.7 748.6L458 744.5L458.3 742.9L458.6 746.2L458.9 744.3L459.2 745.3L459.5 746.5L459.8 746L460.2 745L460.5 748.9L460.8 747L461.1 744.1L461.4 747.3L461.7 745.9L462 747.3L462.4 746.7L462.7 744.7L463 744.1L463.3 742.7L463.6 745.9L463.9 747.7L464.2 746.8L464.5 748.7L464.9 747.5L465.2 745.2L465.5 745L465.8 747.5L466.1 747.9L466.4 748.4L466.7 747.9L467 745.7L467.4 747.4L467.7 743.1L468 745.3L468.3 746.8L468.6 746.2L468.9 748.8L469.2 744.2L469.6 744L469.9 746.6L470.2 744.2L470.5 747.2L470.8 747.6L471.1 747.5L471.4 747.8L471.7 745L472.1 744.8L472.4 744.2L472.7 748.4L473 743.9L473.3 745.9L473.6 746.5L473.9 745.7L474.2 746.2L474.6 747.7L474.9 746.4L475.2 744.7L475.5 744.3L475.8 742.9L476.1 747.8L476.4 743.1L476.8 743.7L477.1 745.5L477.4 820.5L477.7 848.4L478 866.2L478.3 881.6L478.6 896.1L478.9 907.8L479.3 918.2L479.6 928.6L479.9 936.8L480.2 944.5L480.5 952.2L480.8 958.9L481.1 964.7L481.4 969.4L481.8 974.8L482.1 979.5L482.4 983.6L482.7 987L483 991.4L483.3 995.1L483.6 997.3L483.9 1001L484.3 1003.8L484.6 1005.9L484.9 1009.2L485.2 1011.9L485.5 1013.3L485.8 1016.3L486.1 1018.4L486.5 1019.7L486.8 1022.4L487.1 1023.6L487.4 1026L487.7 1027.8L488 1029.6L488.3 1030.9L488.6 1032.4L489 1034.1L489.3 1035.5L489.6 1037.1L489.9 1037.9L490.2 1039.1L490.5 1040.6L490.8 1041.8L491.1 1043.8L491.5 1044.8L491.8 1046L492.1 1047.2L492.4 1047.4L492.7 1048.5L493 1049.5L493.3 1050.9L493.7 1052.3L494 1052.9L494.3 1054.2L494.6 1054.2L494.9 1055.7L495.2 1056.5L495.5 1056.6L495.8 1058.2L496.2 1058.2L496.5 1059.6L496.8 1059.9L497.1 1061.2L497.4 1061L497.7 1062.2L498 1062.9L498.3 1063.2L498.7 1063.9L499 1064.8L499.3 1065.5L499.6 1065.6L499.9 1066.7L500.2 1066.3L500.5 1067.4L500.9 1068.1L501.2 1068.4L501.5 1069.1L501.8 1069.3L502.1 1069.5L502.4 1070.1L502.7 1070.6L503 1071L503.4 1071.2L503.7 1071.3L504 1072L504.3 1072L504.6 1072.7L504.9 1073.4L505.2 1073.7L505.5 1073.3L505.9 1074L506.2 1074.4L506.5 1074.6L506.8 1074.5L507.1 1075.3L507.4 1075.6L507.7 1075.8L508.1 1076.4L508.4 1076.1L508.7 1076.4L509 1076.7L509.3 1076.9L509.6 1077.1L509.9 1077.1L510.2 1077.9L510.6 1077.2L510.9 1078.3L511.2 1077.7L511.5 1078.7L511.8 1078.2L512.1 1078.9L512.4 1079.3L512.7 1078.9L513.1 1056.7L513.4 1013L513.7 965.3L514 921.7L514.3 888L514.6 857L514.9 834.2L515.2 814.5L515.6 801.7L515.9 790.6L516.2 782.7L516.5 776.2L516.8 772.3L517.1 768.1L517.4 765.9L517.8 764.5L518.1 760L518.4 760.1L518.7 758.2L519 754.4L519.3 754.2L519.6 751.5L519.9 751.5L520.3 749.4L520.6 746.5L520.9 746.7L521.2 743.8L521.5 741.1L521.8 741.5L522.1 738.6L522.4 736.9L522.8 735.7L523.1 733.7L523.4 732.3L523.7 732.6L524 730.6L524.3 728.1L524.6 709.1L525 714.1L525.3 711.6L525.6 714.7L525.9 709.9L526.2 712.6L526.5 712.1L526.8 711.1L527.1 714.7L527.5 710.7L527.8 710.2L528.1 709.8L528.4 713.7L528.7 714L529 714.5L529.3 709.5L529.6 712.6L530 713L530.3 712.1L530.6 710.9L530.9 713.4L531.2 713.3L531.5 710.4L531.8 710.4L532.2 713.6L532.5 715.1L532.8 709.4L533.1 710.7L533.4 711.6L533.7 712.9L534 709.1L534.3 712.7L534.7 714.1L535 714.9L535.3 713.2L535.6 711.5L535.9 713.1L536.2 709.2L536.5 711.2L536.8 712.5L537.2 711.1L537.5 711.5L537.8 711.4L538.1 712.3L538.4 712.1L538.7 712.3L539 710L539.4 714.3L539.7 710.3L540 713.6L540.3 709.9L540.6 715.1L540.9 712.3L541.2 712.6L541.5 710.8L541.9 714.2L542.2 713.8L542.5 714.7L542.8 711.8L543.1 711.7L543.4 715.6L543.7 714.4L544 714.2L544.4 709.2L544.7 712.5L545 711.8L545.3 713.6L545.6 711.2L545.9 710.1L546.2 712L546.5 858.2L546.9 888.8L547.2 903.1L547.5 914.6L547.8 923.4L548.1 932.5L548.4 940.2L548.7 946.9L549.1 953.3L549.4 959.1L549.7 964L550 969.3L550.3 973.9L550.6 978.4L550.9 981.7L551.2 985.5L551.6 988.7L551.9 992.1L552.2 995.4L552.5 998.2L552.8 1000.7L553.1 1003.3L553.4 1004.9L553.7 1007.5L554.1 1010.1L554.4 1011.7L554.7 1013.8L555 1016.3L555.3 1017.5L555.6 1019.8L555.9 1020.7L556.3 1023.3L556.6 1024.8L556.9 1026.4L557.2 1027.2L557.5 1028.7L557.8 1030.4L558.1 1032.2L558.4 1033.3L558.8 1034.3L559.1 1036.2L559.4 1036.5L559.7 1037.8L560 1038.8L560.3 1040.2L560.6 1041.3L560.9 1042L561.3 1043.8L561.6 1044.7L561.9 1045.9L562.2 1046.7L562.5 1047L562.8 1048.6L563.1 1048.8L563.5 1050L563.8 1050.3L564.1 1051.2L564.4 1052L564.7 1052.6L565 1054.2L565.3 1054.7L565.6 1055.2L566 1055.8L566.3 1056.2L566.6 1056.6L566.9 1057.4L567.2 1057.8L567.5 1058.6L567.8 1059.5L568.1 1059.9L568.5 1060.2L568.8 1060.7L569.1 1061.6L569.4 1062.1L569.7 1062.3L570 1063.2L570.3 1063L570.7 1064.4L571 1064.1L571.3 1064.7L571.6 1065.4L571.9 1065.4L572.2 1065.9L572.5 1065.7L572.8 1066.2L573.2 1066.8L573.5 1066.9L573.8 1067.2L574.1 1068.3L574.4 1067.9L574.7 1068.2L575 1068.3L575.3 1068.8L575.7 1069.5L576 1070L576.3 1069.8L576.6 1070.5L576.9 1070.2L577.2 1070.6L577.5 1070.6L577.9 1071.3L578.2 1071.6L578.5 1071.2L578.8 1071.6L579.1 1072.2L579.4 1072.2L579.7 1072.5L580 1072.5L580.4 1072.8L580.7 1073.2L581 1072.6L581.3 1072.9L581.6 1073.2L581.9 1073.9L582.2 1074.1L582.5 1073.7L582.9 1073.8L583.2 1074.1L583.5 1074.7L583.8 1074.3L584.1 1074.6L584.4 1052.7L584.7 1006.7L585 957.5L585.4 911.8L585.7 873.9L586 842L586.3 819.9L586.6 800L586.9 784.8L587.2 774.9L587.6 767L587.9 760.1L588.2 757.4L588.5 751.5L588.8 748.8L589.1 746.2L589.4 744.6L589.7 741.6L590.1 741L590.4 738.1L590.7 737L591 733.5L591.3 732.2L591.6 731.4L591.9 729L592.2 728.4L592.6 726.4L592.9 725.8L593.2 722.3L593.5 720.9L593.8 719.3L594.1 719.5L594.4 716L594.8 716.5L595.1 713.4L595.4 712L595.7 711.6L596 709L596.3 706.2L596.6 705.3L596.9 704.5L597.3 701.5L597.6 701.2L597.9 694.8L598.2 698.1L598.5 700.3L598.8 694.3L599.1 700.4L599.4 699.1L599.8 695.7L600.1 700.1L600.4 697.2L600.7 695.1L601 696.9L601.3 698.5L601.6 695.8L602 695.3L602.3 696.9L602.6 696.6L602.9 698.7L603.2 698.1L603.5 694.2L603.8 694.3L604.1 700.8L604.5 699.5L604.8 699.3L605.1 695.5L605.4 699.5L605.7 699.7L606 695.7L606.3 699.7L606.6 694.3L607 697.8L607.3 694.8L607.6 695.3L607.9 699.4L608.2 695.6L608.5 698L608.8 699.3L609.1 700.5L609.5 696.1L609.8 697.1L610.1 698.8L610.4 695.3L610.7 699.5L611 697.9L611.3 700.2L611.7 698.5L612 694.9L612.3 697.5L612.6 699.8L612.9 699.2L613.2 696.5L613.5 699L613.8 694.9L614.2 700.4L614.5 695L614.8 696.7L615.1 695.3L615.4 698.5L615.7 700.4L616 699.7L616.3 696.6L616.7 700.7L617 700.1L617.3 695.6L617.6 694.9L617.9 695.1L618.2 695.2L618.5 697.1L618.9 695L619.2 696.2L619.5 697.1L619.8 698L620.1 700.7L620.4 700.2L620.7 699.2L621 697.7L621.4 700L621.7 694.3L622 697L622.3 695.9L622.6 694.8L622.9 697.8L623.2 793.3L623.5 824.4L623.9 845.3L624.2 862.5L624.5 876.7L624.8 889.9L625.1 901.9L625.4 913L625.7 922.4L626.1 931.6L626.4 939.3L626.7 946.2L627 952.3L627.3 958.9L627.6 963.4L627.9 969.4L628.2 973L628.6 978L628.9 981.3L629.2 985L629.5 988.2L629.8 992L630.1 994.7L630.4 998L630.7 1000.1L631.1 1003.4L631.4 1005L631.7 1007.6L632 1010.4L632.3 1011.5L632.6 1014.2L632.9 1016.4L633.3 1018L633.6 1020L633.9 1021.4L634.2 1022.6L634.5 1023.8L634.8 1025.7L635.1 1027L635.4 1028.4L635.8 1029.9L636.1 1031.6L636.4 1033L636.7 1034.3L637 1035.1L637.3 1036.6L637.6 1037.2L637.9 1038.7L638.3 1039.5L638.6 1040.6L638.9 1041.5L639.2 1043L639.5 1043.8L639.8 1044.3L640.1 1045.7L640.5 1046L640.8 1046.6L641.1 1048L641.4 1048.2L641.7 1049.3L642 1049.7L642.3 1050.9L642.6 1051.4L643 1052.1L643.3 1053.3L643.6 1053.6L643.9 1054.2L644.2 1054.9L644.5 1055.3L644.8 1055.6L645.1 1056.3L645.5 1056.9L645.8 1058.1L646.1 1058L646.4 1058.6L646.7 1058.8L647 1060.3L647.3 1060.5L647.6 1060.1L648 1061.2L648.3 1061.3L648.6 1061.8L648.9 1062.4L649.2 1062.8L649.5 1063L649.8 1063L650.2 1063.8L650.5 1063.9L650.8 1064.7L651.1 1064.6L651.4 1065.1L651.7 1065.2L652 1065.4L652.3 1066.6L652.7 1065.9L653 1066.6L653.3 1067.2L653.6 1067.3L653.9 1067.9L654.2 1068L654.5 1067.6L654.8 1068L655.2 1068.1L655.5 1069L655.8 1069.3L656.1 1069.2L656.4 1069.3L656.7 1069.3L657 1069.9L657.4 1069.7L657.7 1070L658 1070.5L658.3 1070.1L658.6 1071.1L658.9 1070.7L659.2 1071.3L659.5 1071.6L659.9 1071.3L660.2 1071.4L660.5 1071.4L660.8 1071.8L661.1 1071.4L661.4 1071.7L661.7 1072.5L662 1072.8L662.4 1071.9L662.7 1072.6L663 1073.6L663.3 1050.7L663.6 1002.9L663.9 953.7L664.2 907.1L664.6 867.9L664.9 836.1L665.2 809.7L665.5 789.1L665.8 774.5L666.1 763.3L666.4 754.4L666.7 748.2L667.1 741.7L667.4 737L667.7 733.3L668 730.1L668.3 726.3L668.6 725L668.9 720.9L669.2 717.7L669.6 717.7L669.9 714.7L670.2 710.3L670.5 710.4L670.8 706.1L671.1 704.4L671.4 703.4L671.8 699.6L672.1 698.9L672.4 689.6L672.7 693.3L673 689.1L673.3 689.3L673.6 694.4L673.9 692.6L674.3 694.3L674.6 690.2L674.9 694.6L675.2 694.8L675.5 694.5L675.8 689.5L676.1 693.6L676.4 693.1L676.8 692.3L677.1 691.6L677.4 692.5L677.7 688.9L678 693L678.3 692L678.6 689.4L678.9 693.6L679.3 694L679.6 689.6L679.9 693.1L680.2 689.2L680.5 689.7L680.8 692.7L681.1 693L681.5 694.5L681.8 689.3L682.1 692.2L682.4 692.9L682.7 694L683 693.6L683.3 689.3L683.6 694.3L684 691.4L684.3 690.9L684.6 691.6L684.9 691.8L685.2 692.5L685.5 693.8L685.8 689.6L686.1 689.1L686.5 691.3L686.8 693.4L687.1 689L687.4 693.7L687.7 693.9L688 690.9L688.3 689.5L688.7 691.2L689 694.3L689.3 688.5L689.6 694L689.9 692.7L690.2 688.4L690.5 689.7L690.8 690L691.2 694.5L691.5 689.3L691.8 692.3L692.1 694.6L692.4 688.9L692.7 687.1L693 691.7L693.3 687.4L693.7 682.7L694 685.2L694.3 684.9L694.6 682.2L694.9 685.7L695.2 683.7L695.5 686.3L695.9 687.5L696.2 689.4L696.5 693.3L696.8 690.3L697.1 691.1L697.4 691.7L697.7 691.1L698 692.9L698.4 693.6L698.7 688.8L699 692.4L699.3 694.2L699.6 688.4L699.9 691.5L700.2 690.4L700.5 692.6L700.9 693.9L701.2 692.6L701.5 689.3L701.8 693L702.1 688.7L702.4 692.8L702.7 688.8L703 693.6L703.4 691.9L703.7 694L704 693.8L704.3 691.3L704.6 692.4L704.9 691.2L705.2 693.4L705.6 691.7L705.9 738.5L706.2 764.7L706.5 787.4L706.8 806L707.1 822.3L707.4 837.5L707.7 851.2L708.1 862.3L708.4 874L708.7 883.7L709 892.6L709.3 900.2L709.6 907L709.9 914.3L710.2 920.5L710.6 925.7L710.9 931.7L711.2 936.7L711.5 940.7L711.8 945.6L712.1 949.2L712.4 953.4L712.8 956.6L713.1 959.8L713.4 963.5L713.7 966.8L714 969.4L714.3 972.1L714.6 975.6L714.9 978L715.3 980.4L715.6 982.7L715.9 985.3L716.2 987.1L716.5 989.7L716.8 991.1L717.1 993.7L717.4 995.9L717.8 997.9L718.1 999.7L718.4 1001.4L718.7 1002.4L719 1004.6L719.3 1006.2L719.6 1007.3L720 1008.8L720.3 1010.5L720.6 1012.5L720.9 1013.8L721.2 1015L721.5 1016.6L721.8 1017.8L722.1 1019.2L722.5 1020.4L722.8 1021L723.1 1022.3L723.4 1023.6L723.7 1024.7L724 1025.6L724.3 1026.6L724.6 1028.3L725 1028.4L725.3 1029.7L725.6 1030.8L725.9 1031L726.2 1032.1L726.5 1033.4L726.8 1034.6L727.2 1034.9L727.5 1035.7L727.8 1036.5L728.1 1037.6L728.4 1037.8L728.7 1038.8L729 1038.9L729.3 1039.9L729.7 1040.7L730 1040.8L730.3 1041.8L730.6 1042.8L730.9 1043.2L731.2 1044L731.5 1044.1L731.8 1044.1L732.2 1044.6L732.5 1045.4L732.8 1046.4L733.1 1046.8L733.4 1047.3L733.7 1047.6L734 1047.7L734.4 1048.8L734.7 1048.7L735 1049.2L735.3 1049.3L735.6 1049.5L735.9 1050.3L736.2 1050.5L736.5 1051.2L736.9 1051.3L737.2 1051.5L737.5 1052.4L737.8 1052.2L738.1 1052.5L738.4 1053.2L738.7 1053.4L739 1053.1L739.4 1053.8L739.7 1054.3L740 1054.4L740.3 1054.4L740.6 1054.8L740.9 1055.1L741.2 1055.3L741.5 1055.7L741.9 1055.6L742.2 1055.7L742.5 1056.4L742.8 1056.1L743.1 1056.6L743.4 1056.1L743.7 1056.3L744.1 1057.3L744.4 1056.9L744.7 1057.5L745 1057.9L745.3 1057.2L745.6 1057.3L745.9 1057.6L746.2 1057.9L746.6 1057.7L746.9 1058.3L747.2 1058.3L747.5 1058.5L747.8 1058.4L748.1 1058.5L748.4 1059.2L748.7 1059.4L749.1 1059.2L749.4 1059.2L749.7 1059.6L750 1059.2" fill="none" stroke="#2ff2b3" stroke-width="2.0" stroke-linejoin="round" stroke-linecap="round"/>
<path d="M118.5 1098.9h11l-5.5 -10zM118.8 1099.3h11l-5.5 -10zM119.1 1099.3h11l-5.5 -10zM119.4 1099.6h11l-5.5 -10zM119.8 1099.1h11l-5.5 -10zM120.1 1099.2h11l-5.5 -10zM120.4 1099.5h11l-5.5 -10zM120.7 1099.3h11l-5.5 -10zM121 1099.3h11l-5.5 -10zM121.3 1098.9h11l-5.5 -10zM121.6 1099.6h11l-5.5 -10zM121.9 1098.7h11l-5.5 -10zM122.3 1099.2h11l-5.5 -10zM122.6 1099.1h11l-5.5 -10zM122.9 1099.3h11l-5.5 -10zM123.2 1098.9h11l-5.5 -10zM123.5 1099h11l-5.5 -10zM123.8 1099.3h11l-5.5 -10zM124.1 1099.4h11l-5.5 -10zM124.4 1099.1h11l-5.5 -10zM124.8 1099h11l-5.5 -10zM125.1 1099.5h11l-5.5 -10zM125.4 1099.2h11l-5.5 -10zM125.7 1098.9h11l-5.5 -10zM126 1099.5h11l-5.5 -10zM126.3 1099.8h11l-5.5 -10zM126.6 1099.8h11l-5.5 -10zM127 1099.3h11l-5.5 -10zM127.3 1099.3h11l-5.5 -10zM127.6 1099.1h11l-5.5 -10zM127.9 1099.2h11l-5.5 -10zM128.2 1099.9h11l-5.5 -10zM128.5 1099.9h11l-5.5 -10zM128.8 1099.9h11l-5.5 -10zM129.1 1100h11l-5.5 -10zM129.5 1099.4h11l-5.5 -10zM129.8 1099.3h11l-5.5 -10zM130.1 1099.3h11l-5.5 -10zM130.4 1100h11l-5.5 -10zM130.7 1099.4h11l-5.5 -10zM131 1100h11l-5.5 -10zM131.3 1099.9h11l-5.5 -10zM131.6 1099.6h11l-5.5 -10zM132 1100.3h11l-5.5 -10zM132.3 1100.3h11l-5.5 -10zM132.6 1099.5h11l-5.5 -10zM132.9 1100.1h11l-5.5 -10zM133.2 1100h11l-5.5 -10zM133.5 1099.8h11l-5.5 -10zM133.8 1099.7h11l-5.5 -10zM134.2 1100.5h11l-5.5 -10zM134.5 1100.2h11l-5.5 -10zM134.8 1100.1h11l-5.5 -10zM135.1 1100h11l-5.5 -10zM135.4 1100.3h11l-5.5 -10zM135.7 1100h11l-5.5 -10zM136 1099.6h11l-5.5 -10zM136.3 1100.2h11l-5.5 -10zM136.7 1100.1h11l-5.5 -10zM137 1100.5h11l-5.5 -10zM137.3 1100.4h11l-5.5 -10zM137.6 1100h11l-5.5 -10zM137.9 1100.6h11l-5.5 -10zM138.2 1099.8h11l-5.5 -10zM138.5 1099.8h11l-5.5 -10zM138.8 1100.7h11l-5.5 -10zM139.2 1099.8h11l-5.5 -10zM139.5 1100.4h11l-5.5 -10zM139.8 1100h11l-5.5 -10zM140.1 1100h11l-5.5 -10zM140.4 1100.6h11l-5.5 -10zM140.7 1100.2h11l-5.5 -10zM141 1100.2h11l-5.5 -10zM141.3 1100.1h11l-5.5 -10zM141.7 1100.7h11l-5.5 -10zM142 1100.2h11l-5.5 -10zM142.3 1100h11l-5.5 -10zM142.6 1100.3h11l-5.5 -10zM142.9 1100.5h11l-5.5 -10zM143.2 1100.9h11l-5.5 -10zM143.5 1100.5h11l-5.5 -10zM143.9 1100.7h11l-5.5 -10zM144.2 1100.3h11l-5.5 -10zM144.5 1100.4h11l-5.5 -10zM144.8 1100.5h11l-5.5 -10zM145.1 1101h11l-5.5 -10zM145.4 1100.5h11l-5.5 -10zM145.7 1100.5h11l-5.5 -10zM146 1101h11l-5.5 -10zM146.4 1100.3h11l-5.5 -10zM146.7 1100.6h11l-5.5 -10zM147 1101.1h11l-5.5 -10zM147.3 1100.3h11l-5.5 -10zM147.6 1101.2h11l-5.5 -10zM147.9 1101h11l-5.5 -10zM148.2 1100.6h11l-5.5 -10zM148.5 1100.7h11l-5.5 -10zM148.9 1100.8h11l-5.5 -10zM149.2 1100.7h11l-5.5 -10zM149.5 1100.9h11l-5.5 -10zM149.8 1101.1h11l-5.5 -10zM150.1 1101.3h11l-5.5 -10zM150.4 1101.4h11l-5.5 -10zM150.7 1100.7h11l-5.5 -10zM151.1 1100.7h11l-5.5 -10zM151.4 1101h11l-5.5 -10zM151.7 1100.8h11l-5.5 -10zM152 1101.2h11l-5.5 -10zM152.3 1101.3h11l-5.5 -10zM152.6 1101.2h11l-5.5 -10zM152.9 1100.7h11l-5.5 -10zM153.2 1101.6h11l-5.5 -10zM153.6 1101.1h11l-5.5 -10zM153.9 1101.4h11l-5.5 -10zM154.2 1100.9h11l-5.5 -10zM154.5 1101.4h11l-5.5 -10zM154.8 1101.4h11l-5.5 -10zM155.1 1101.3h11l-5.5 -10zM155.4 1101.2h11l-5.5 -10zM155.7 1101h11l-5.5 -10zM156.1 1101.5h11l-5.5 -10zM156.4 1101h11l-5.5 -10zM156.7 1101.8h11l-5.5 -10zM157 1101.6h11l-5.5 -10zM157.3 1101.8h11l-5.5 -10zM157.6 1101.8h11l-5.5 -10zM157.9 1101.1h11l-5.5 -10zM158.3 1101.2h11l-5.5 -10zM158.6 1101.8h11l-5.5 -10zM158.9 1101.8h11l-5.5 -10zM159.2 1101.6h11l-5.5 -10zM159.5 1101.3h11l-5.5 -10zM159.8 1101.2h11l-5.5 -10zM160.1 1101.3h11l-5.5 -10zM160.4 1101.5h11l-5.5 -10zM160.8 1102h11l-5.5 -10zM161.1 1101.7h11l-5.5 -10zM161.4 1102h11l-5.5 -10zM161.7 1101.6h11l-5.5 -10zM162 1101.5h11l-5.5 -10zM162.3 1088.6h11l-5.5 -10zM162.6 1065.3h11l-5.5 -10zM162.9 1043.7h11l-5.5 -10zM163.3 1030.5h11l-5.5 -10zM163.6 1017.7h11l-5.5 -10zM163.9 1010.4h11l-5.5 -10zM164.2 1005.6h11l-5.5 -10zM164.5 1003.9h11l-5.5 -10zM164.8 1001.1h11l-5.5 -10zM165.1 999.3h11l-5.5 -10zM165.4 997.7h11l-5.5 -10zM165.8 995.6h11l-5.5 -10zM166.1 995.2h11l-5.5 -10zM166.4 995.2h11l-5.5 -10zM166.7 992.6h11l-5.5 -10zM167 992.6h11l-5.5 -10zM167.3 991.2h11l-5.5 -10zM167.6 989.6h11l-5.5 -10zM168 994.4h11l-5.5 -10zM168.3 989.1h11l-5.5 -10zM168.6 989.8h11l-5.5 -10zM168.9 990.9h11l-5.5 -10zM169.2 990.6h11l-5.5 -10zM169.5 990.9h11l-5.5 -10zM169.8 992.6h11l-5.5 -10zM170.1 990.3h11l-5.5 -10zM170.5 993.5h11l-5.5 -10zM170.8 990.4h11l-5.5 -10zM171.1 989.3h11l-5.5 -10zM171.4 990.6h11l-5.5 -10zM171.7 989.7h11l-5.5 -10zM172 987h11l-5.5 -10zM172.3 987.4h11l-5.5 -10zM172.6 992.3h11l-5.5 -10zM173 987.9h11l-5.5 -10zM173.3 988.9h11l-5.5 -10zM173.6 992.7h11l-5.5 -10zM173.9 990.5h11l-5.5 -10zM174.2 991.3h11l-5.5 -10zM174.5 992.3h11l-5.5 -10zM174.8 989.1h11l-5.5 -10zM175.2 986.4h11l-5.5 -10zM175.5 990.4h11l-5.5 -10zM175.8 986.7h11l-5.5 -10zM176.1 987.8h11l-5.5 -10zM176.4 991.5h11l-5.5 -10zM176.7 986.5h11l-5.5 -10zM177 988.2h11l-5.5 -10zM177.3 985.9h11l-5.5 -10zM177.7 987.3h11l-5.5 -10zM178 987h11l-5.5 -10zM178.3 989.6h11l-5.5 -10zM178.6 986.4h11l-5.5 -10zM178.9 985.5h11l-5.5 -10zM179.2 985.9h11l-5.5 -10zM179.5 988.7h11l-5.5 -10zM179.8 986.5h11l-5.5 -10zM180.2 988.2h11l-5.5 -10zM180.5 990.6h11l-5.5 -10zM180.8 991h11l-5.5 -10zM181.1 990.7h11l-5.5 -10zM181.4 989.8h11l-5.5 -10zM181.7 990h11l-5.5 -10zM182 987.7h11l-5.5 -10zM182.4 986.2h11l-5.5 -10zM182.7 987.2h11l-5.5 -10zM183 987.9h11l-5.5 -10zM183.3 986.4h11l-5.5 -10zM183.6 988.6h11l-5.5 -10zM183.9 987.4h11l-5.5 -10zM184.2 985.4h11l-5.5 -10zM184.5 987.7h11l-5.5 -10zM184.9 989.1h11l-5.5 -10zM185.2 984.2h11l-5.5 -10zM185.5 985.4h11l-5.5 -10zM185.8 987.6h11l-5.5 -10zM186.1 987.5h11l-5.5 -10zM186.4 986.4h11l-5.5 -10zM186.7 985.9h11l-5.5 -10zM187 988.3h11l-5.5 -10zM187.4 989.7h11l-5.5 -10zM187.7 988.2h11l-5.5 -10zM188 984.3h11l-5.5 -10zM188.3 988.5h11l-5.5 -10zM188.6 986.3h11l-5.5 -10zM188.9 988h11l-5.5 -10zM189.2 987.9h11l-5.5 -10zM189.6 988.1h11l-5.5 -10zM189.9 986.4h11l-5.5 -10zM190.2 987.9h11l-5.5 -10zM190.5 988.8h11l-5.5 -10zM190.8 988.2h11l-5.5 -10zM191.1 987.7h11l-5.5 -10zM191.4 985.5h11l-5.5 -10zM191.7 988.3h11l-5.5 -10zM192.1 988.4h11l-5.5 -10zM192.4 985.5h11l-5.5 -10zM192.7 985.7h11l-5.5 -10zM193 983.7h11l-5.5 -10zM193.3 988h11l-5.5 -10zM193.6 985.5h11l-5.5 -10zM193.9 985.5h11l-5.5 -10zM194.2 987.9h11l-5.5 -10zM194.6 981.5h11l-5.5 -10zM194.9 986.5h11l-5.5 -10zM195.2 987.2h11l-5.5 -10zM195.5 984.4h11l-5.5 -10zM195.8 1003h11l-5.5 -10zM196.1 1013.9h11l-5.5 -10zM196.4 1023h11l-5.5 -10zM196.8 1030.6h11l-5.5 -10zM197.1 1036.7h11l-5.5 -10zM197.4 1041h11l-5.5 -10zM197.7 1045.9h11l-5.5 -10zM198 1049h11l-5.5 -10zM198.3 1052.6h11l-5.5 -10zM198.6 1055h11l-5.5 -10zM198.9 1058.2h11l-5.5 -10zM199.3 1060.5h11l-5.5 -10zM199.6 1062.5h11l-5.5 -10zM199.9 1063.8h11l-5.5 -10zM200.2 1065.7h11l-5.5 -10zM200.5 1067.6h11l-5.5 -10zM200.8 1069.3h11l-5.5 -10zM201.1 1070.1h11l-5.5 -10zM201.4 1071.1h11l-5.5 -10zM201.8 1072.7h11l-5.5 -10zM202.1 1074.5h11l-5.5 -10zM202.4 1075.5h11l-5.5 -10zM202.7 1076.5h11l-5.5 -10zM203 1077.4h11l-5.5 -10zM203.3 1078.5h11l-5.5 -10zM203.6 1079.4h11l-5.5 -10zM203.9 1079.6h11l-5.5 -10zM204.3 1080.2h11l-5.5 -10zM204.6 1081.7h11l-5.5 -10zM204.9 1081.6h11l-5.5 -10zM205.2 1082.9h11l-5.5 -10zM205.5 1083.2h11l-5.5 -10zM205.8 1083.8h11l-5.5 -10zM206.1 1084.4h11l-5.5 -10zM206.5 1085.9h11l-5.5 -10zM206.8 1086.2h11l-5.5 -10zM207.1 1086.5h11l-5.5 -10zM207.4 1086.6h11l-5.5 -10zM207.7 1088.1h11l-5.5 -10zM208 1088.3h11l-5.5 -10zM208.3 1088.2h11l-5.5 -10zM208.6 1089.5h11l-5.5 -10zM209 1089.6h11l-5.5 -10zM209.3 1090.1h11l-5.5 -10zM209.6 1090.1h11l-5.5 -10zM209.9 1090.2h11l-5.5 -10zM210.2 1091.4h11l-5.5 -10zM210.5 1091.1h11l-5.5 -10zM210.8 1091.5h11l-5.5 -10zM211.1 1091.7h11l-5.5 -10zM211.5 1092.3h11l-5.5 -10zM211.8 1092.2h11l-5.5 -10zM212.1 1093.1h11l-5.5 -10zM212.4 1093.3h11l-5.5 -10zM212.7 1093.8h11l-5.5 -10zM213 1093.4h11l-5.5 -10zM213.3 1094h11l-5.5 -10zM213.7 1094.5h11l-5.5 -10zM214 1094.8h11l-5.5 -10zM214.3 1094.4h11l-5.5 -10zM214.6 1094.7h11l-5.5 -10zM214.9 1094.8h11l-5.5 -10zM215.2 1095.4h11l-5.5 -10zM215.5 1095.4h11l-5.5 -10zM215.8 1096h11l-5.5 -10zM216.2 1095.5h11l-5.5 -10zM216.5 1096.4h11l-5.5 -10zM216.8 1096.1h11l-5.5 -10zM217.1 1095.9h11l-5.5 -10zM217.4 1096.2h11l-5.5 -10zM217.7 1096.9h11l-5.5 -10zM218 1096.9h11l-5.5 -10zM218.3 1096.4h11l-5.5 -10zM218.7 1096.7h11l-5.5 -10zM219 1096.6h11l-5.5 -10zM219.3 1096.7h11l-5.5 -10zM219.6 1097.2h11l-5.5 -10zM219.9 1096.9h11l-5.5 -10zM220.2 1097.1h11l-5.5 -10zM220.5 1097.7h11l-5.5 -10zM220.9 1097.7h11l-5.5 -10zM221.2 1098.1h11l-5.5 -10zM221.5 1097.8h11l-5.5 -10zM221.8 1097.3h11l-5.5 -10zM222.1 1098.3h11l-5.5 -10zM222.4 1097.9h11l-5.5 -10zM222.7 1098.5h11l-5.5 -10zM223 1098.5h11l-5.5 -10zM223.4 1098h11l-5.5 -10zM223.7 1098.5h11l-5.5 -10zM224 1098.8h11l-5.5 -10zM224.3 1098.7h11l-5.5 -10zM224.6 1098.2h11l-5.5 -10zM224.9 1098.4h11l-5.5 -10zM225.2 1099h11l-5.5 -10zM225.5 1098.8h11l-5.5 -10zM225.9 1098.1h11l-5.5 -10zM226.2 1098.9h11l-5.5 -10zM226.5 1098.6h11l-5.5 -10zM226.8 1098.8h11l-5.5 -10zM227.1 1098.5h11l-5.5 -10zM227.4 1098.7h11l-5.5 -10zM227.7 1098.5h11l-5.5 -10zM228.1 1098.8h11l-5.5 -10zM228.4 1099.2h11l-5.5 -10zM228.7 1099.3h11l-5.5 -10zM229 1099.4h11l-5.5 -10zM229.3 1098.6h11l-5.5 -10zM229.6 1099.4h11l-5.5 -10zM229.9 1099.5h11l-5.5 -10zM230.2 1098.6h11l-5.5 -10zM230.6 1099.4h11l-5.5 -10zM230.9 1098.7h11l-5.5 -10zM231.2 1099.6h11l-5.5 -10zM231.5 1099.2h11l-5.5 -10zM231.8 1099.5h11l-5.5 -10zM232.1 1098.8h11l-5.5 -10zM232.4 1099.1h11l-5.5 -10zM232.7 1099.1h11l-5.5 -10zM233.1 1099h11l-5.5 -10zM233.4 1098.9h11l-5.5 -10zM233.7 1099.4h11l-5.5 -10zM234 1099.2h11l-5.5 -10zM234.3 1099.4h11l-5.5 -10zM234.6 1099.7h11l-5.5 -10zM234.9 1099h11l-5.5 -10zM235.2 1099.3h11l-5.5 -10zM235.6 1099h11l-5.5 -10zM235.9 1099.7h11l-5.5 -10zM236.2 1099.3h11l-5.5 -10zM236.5 1099.4h11l-5.5 -10zM236.8 1099.2h11l-5.5 -10zM237.1 1099.9h11l-5.5 -10zM237.4 1099.6h11l-5.5 -10zM237.8 1099.5h11l-5.5 -10zM238.1 1099.9h11l-5.5 -10zM238.4 1099.4h11l-5.5 -10zM238.7 1099.2h11l-5.5 -10zM239 1099.6h11l-5.5 -10zM239.3 1099.3h11l-5.5 -10zM239.6 1099.4h11l-5.5 -10zM239.9 1099.8h11l-5.5 -10zM240.3 1099.7h11l-5.5 -10zM240.6 1099h11l-5.5 -10zM240.9 1099.7h11l-5.5 -10zM241.2 1099.6h11l-5.5 -10zM241.5 1100h11l-5.5 -10zM241.8 1099.8h11l-5.5 -10zM242.1 1099.9h11l-5.5 -10zM242.4 1099.1h11l-5.5 -10zM242.8 1099.3h11l-5.5 -10zM243.1 1099.1h11l-5.5 -10zM243.4 1099h11l-5.5 -10zM243.7 1099.4h11l-5.5 -10zM244 1099.1h11l-5.5 -10zM244.3 1099.5h11l-5.5 -10zM244.6 1099.7h11l-5.5 -10zM245 1099.1h11l-5.5 -10zM245.3 1099.1h11l-5.5 -10zM245.6 1099.1h11l-5.5 -10zM245.9 1099.6h11l-5.5 -10zM246.2 1099.3h11l-5.5 -10zM246.5 1099.7h11l-5.5 -10zM246.8 1099.1h11l-5.5 -10zM247.1 1099.1h11l-5.5 -10zM247.5 1099.8h11l-5.5 -10zM247.8 1099.1h11l-5.5 -10zM248.1 1099.9h11l-5.5 -10zM248.4 1100h11l-5.5 -10zM248.7 1099.4h11l-5.5 -10zM249 1099.8h11l-5.5 -10zM249.3 1099.6h11l-5.5 -10zM249.6 1099.5h11l-5.5 -10zM250 1100.1h11l-5.5 -10zM250.3 1099.4h11l-5.5 -10zM250.6 1099.9h11l-5.5 -10zM250.9 1099.8h11l-5.5 -10zM251.2 1090.2h11l-5.5 -10zM251.5 1067.1h11l-5.5 -10zM251.8 1040.7h11l-5.5 -10zM252.2 1015.3h11l-5.5 -10zM252.5 991.2h11l-5.5 -10zM252.8 969.1h11l-5.5 -10zM253.1 950.1h11l-5.5 -10zM253.4 934.6h11l-5.5 -10zM253.7 921h11l-5.5 -10zM254 908.3h11l-5.5 -10zM254.3 899.5h11l-5.5 -10zM254.7 891.4h11l-5.5 -10zM255 885.5h11l-5.5 -10zM255.3 880.9h11l-5.5 -10zM255.6 878.2h11l-5.5 -10zM255.9 875.4h11l-5.5 -10zM256.2 872.1h11l-5.5 -10zM256.5 869.2h11l-5.5 -10zM256.8 866.9h11l-5.5 -10zM257.2 865h11l-5.5 -10zM257.5 863.7h11l-5.5 -10zM257.8 860.8h11l-5.5 -10zM258.1 860.8h11l-5.5 -10zM258.4 858.9h11l-5.5 -10zM258.7 856.4h11l-5.5 -10zM259 855.3h11l-5.5 -10zM259.4 855.4h11l-5.5 -10zM259.7 854.2h11l-5.5 -10zM260 851.5h11l-5.5 -10zM260.3 852.4h11l-5.5 -10zM260.6 850.8h11l-5.5 -10zM260.9 848.5h11l-5.5 -10zM261.2 847.3h11l-5.5 -10zM261.5 847.1h11l-5.5 -10zM261.9 846.2h11l-5.5 -10zM262.2 844.6h11l-5.5 -10zM262.5 841.3h11l-5.5 -10zM262.8 843.3h11l-5.5 -10zM263.1 839.8h11l-5.5 -10zM263.4 841.1h11l-5.5 -10zM263.7 839.8h11l-5.5 -10zM264 846.2h11l-5.5 -10zM264.4 845.2h11l-5.5 -10zM264.7 846.3h11l-5.5 -10zM265 843.5h11l-5.5 -10zM265.3 844.1h11l-5.5 -10zM265.6 846.1h11l-5.5 -10zM265.9 842.7h11l-5.5 -10zM266.2 845.8h11l-5.5 -10zM266.5 844.3h11l-5.5 -10zM266.9 844.7h11l-5.5 -10zM267.2 841h11l-5.5 -10zM267.5 843.6h11l-5.5 -10zM267.8 844.7h11l-5.5 -10zM268.1 846.1h11l-5.5 -10zM268.4 843.5h11l-5.5 -10zM268.7 842.2h11l-5.5 -10zM269.1 841.9h11l-5.5 -10zM269.4 840.3h11l-5.5 -10zM269.7 841h11l-5.5 -10zM270 844.7h11l-5.5 -10zM270.3 845.5h11l-5.5 -10zM270.6 841.3h11l-5.5 -10zM270.9 841.1h11l-5.5 -10zM271.2 843h11l-5.5 -10zM271.6 840.8h11l-5.5 -10zM271.9 842.7h11l-5.5 -10zM272.2 844.5h11l-5.5 -10zM272.5 845.3h11l-5.5 -10zM272.8 846.3h11l-5.5 -10zM273.1 842.1h11l-5.5 -10zM273.4 840.4h11l-5.5 -10zM273.7 840.3h11l-5.5 -10zM274.1 843.3h11l-5.5 -10zM274.4 841.9h11l-5.5 -10zM274.7 840.2h11l-5.5 -10zM275 840.9h11l-5.5 -10zM275.3 842.4h11l-5.5 -10zM275.6 843.6h11l-5.5 -10zM275.9 842.9h11l-5.5 -10zM276.3 845.3h11l-5.5 -10zM276.6 845.2h11l-5.5 -10zM276.9 841.8h11l-5.5 -10zM277.2 839.8h11l-5.5 -10zM277.5 842.7h11l-5.5 -10zM277.8 843.7h11l-5.5 -10zM278.1 844h11l-5.5 -10zM278.4 843.4h11l-5.5 -10zM278.8 841h11l-5.5 -10zM279.1 843.4h11l-5.5 -10zM279.4 840h11l-5.5 -10zM279.7 845.4h11l-5.5 -10zM280 844.3h11l-5.5 -10zM280.3 842.9h11l-5.5 -10zM280.6 843.6h11l-5.5 -10zM280.9 840.7h11l-5.5 -10zM281.3 842.7h11l-5.5 -10zM281.6 869.5h11l-5.5 -10zM281.9 888.6h11l-5.5 -10zM282.2 905.2h11l-5.5 -10zM282.5 918.8h11l-5.5 -10zM282.8 931.5h11l-5.5 -10zM283.1 942.9h11l-5.5 -10zM283.5 953.3h11l-5.5 -10zM283.8 962h11l-5.5 -10zM284.1 970h11l-5.5 -10zM284.4 978.4h11l-5.5 -10zM284.7 984.5h11l-5.5 -10zM285 991h11l-5.5 -10zM285.3 996.5h11l-5.5 -10zM285.6 1001.3h11l-5.5 -10zM286 1006h11l-5.5 -10zM286.3 1010.7h11l-5.5 -10zM286.6 1015.3h11l-5.5 -10zM286.9 1018.3h11l-5.5 -10zM287.2 1022.5h11l-5.5 -10zM287.5 1025.6h11l-5.5 -10zM287.8 1028.2h11l-5.5 -10zM288.1 1031.6h11l-5.5 -10zM288.5 1034.3h11l-5.5 -10zM288.8 1036.2h11l-5.5 -10zM289.1 1038.6h11l-5.5 -10zM289.4 1041.5h11l-5.5 -10zM289.7 1043.6h11l-5.5 -10zM290 1045.8h11l-5.5 -10zM290.3 1047.9h11l-5.5 -10zM290.6 1049.6h11l-5.5 -10zM291 1050.6h11l-5.5 -10zM291.3 1053.3h11l-5.5 -10zM291.6 1054.8h11l-5.5 -10zM291.9 1056.4h11l-5.5 -10zM292.2 1058h11l-5.5 -10zM292.5 1059h11l-5.5 -10zM292.8 1060.1h11l-5.5 -10zM293.2 1061.3h11l-5.5 -10zM293.5 1062.8h11l-5.5 -10zM293.8 1063.9h11l-5.5 -10zM294.1 1065.9h11l-5.5 -10zM294.4 1066.8h11l-5.5 -10zM294.7 1067.2h11l-5.5 -10zM295 1069.2h11l-5.5 -10zM295.3 1070h11l-5.5 -10zM295.7 1070.8h11l-5.5 -10zM296 1072h11l-5.5 -10zM296.3 1072.6h11l-5.5 -10zM296.6 1074.1h11l-5.5 -10zM296.9 1074.8h11l-5.5 -10zM297.2 1074.8h11l-5.5 -10zM297.5 1076.5h11l-5.5 -10zM297.8 1076.5h11l-5.5 -10zM298.2 1078h11l-5.5 -10zM298.5 1077.9h11l-5.5 -10zM298.8 1079h11l-5.5 -10zM299.1 1079.7h11l-5.5 -10zM299.4 1080.9h11l-5.5 -10zM299.7 1081.7h11l-5.5 -10zM300 1081.5h11l-5.5 -10zM300.4 1082.8h11l-5.5 -10zM300.7 1083.4h11l-5.5 -10zM301 1083.3h11l-5.5 -10zM301.3 1083.8h11l-5.5 -10zM301.6 1085.2h11l-5.5 -10zM301.9 1084.7h11l-5.5 -10zM302.2 1085.7h11l-5.5 -10zM302.5 1086.3h11l-5.5 -10zM302.9 1087.1h11l-5.5 -10zM303.2 1087.3h11l-5.5 -10zM303.5 1087.1h11l-5.5 -10zM303.8 1088.3h11l-5.5 -10zM304.1 1088.9h11l-5.5 -10zM304.4 1089.2h11l-5.5 -10zM304.7 1089.7h11l-5.5 -10zM305 1089.8h11l-5.5 -10zM305.4 1089.6h11l-5.5 -10zM305.7 1090.8h11l-5.5 -10zM306 1091h11l-5.5 -10zM306.3 1090.6h11l-5.5 -10zM306.6 1090.8h11l-5.5 -10zM306.9 1091.2h11l-5.5 -10zM307.2 1092.3h11l-5.5 -10zM307.6 1092.5h11l-5.5 -10zM307.9 1092.1h11l-5.5 -10zM308.2 1092.9h11l-5.5 -10zM308.5 1092.9h11l-5.5 -10zM308.8 1093.6h11l-5.5 -10zM309.1 1094.2h11l-5.5 -10zM309.4 1094.1h11l-5.5 -10zM309.7 1093.9h11l-5.5 -10zM310.1 1094.1h11l-5.5 -10zM310.4 1094.5h11l-5.5 -10zM310.7 1094.9h11l-5.5 -10zM311 1095h11l-5.5 -10zM311.3 1095.3h11l-5.5 -10zM311.6 1095.4h11l-5.5 -10zM311.9 1095.3h11l-5.5 -10zM312.2 1096.6h11l-5.5 -10zM312.6 1081.1h11l-5.5 -10zM312.9 1050.1h11l-5.5 -10zM313.2 1016.9h11l-5.5 -10zM313.5 987.8h11l-5.5 -10zM313.8 959.4h11l-5.5 -10zM314.1 936.6h11l-5.5 -10zM314.4 919.1h11l-5.5 -10zM314.8 903.5h11l-5.5 -10zM315.1 891.6h11l-5.5 -10zM315.4 882.3h11l-5.5 -10zM315.7 872h11l-5.5 -10zM316 867.2h11l-5.5 -10zM316.3 860.6h11l-5.5 -10zM316.6 858h11l-5.5 -10zM316.9 854.3h11l-5.5 -10zM317.3 848.3h11l-5.5 -10zM317.6 845.1h11l-5.5 -10zM317.9 841.4h11l-5.5 -10zM318.2 839.2h11l-5.5 -10zM318.5 836.7h11l-5.5 -10zM318.8 833.1h11l-5.5 -10zM319.1 832.1h11l-5.5 -10zM319.4 828.1h11l-5.5 -10zM319.8 825.6h11l-5.5 -10zM320.1 823.6h11l-5.5 -10zM320.4 819.6h11l-5.5 -10zM320.7 817.6h11l-5.5 -10zM321 814.4h11l-5.5 -10zM321.3 812h11l-5.5 -10zM321.6 812.1h11l-5.5 -10zM321.9 811.8h11l-5.5 -10zM322.3 810.2h11l-5.5 -10zM322.6 807.7h11l-5.5 -10zM322.9 808h11l-5.5 -10zM323.2 808.5h11l-5.5 -10zM323.5 808.6h11l-5.5 -10zM323.8 812.3h11l-5.5 -10zM324.1 807.7h11l-5.5 -10zM324.5 812.4h11l-5.5 -10zM324.8 813.4h11l-5.5 -10zM325.1 810.9h11l-5.5 -10zM325.4 809.3h11l-5.5 -10zM325.7 812h11l-5.5 -10zM326 809.9h11l-5.5 -10zM326.3 812.3h11l-5.5 -10zM326.6 807.8h11l-5.5 -10zM327 811.2h11l-5.5 -10zM327.3 811h11l-5.5 -10zM327.6 810.7h11l-5.5 -10zM327.9 808.4h11l-5.5 -10zM328.2 807.6h11l-5.5 -10zM328.5 810.7h11l-5.5 -10zM328.8 811.3h11l-5.5 -10zM329.1 810.1h11l-5.5 -10zM329.5 813.8h11l-5.5 -10zM329.8 811.4h11l-5.5 -10zM330.1 808.6h11l-5.5 -10zM330.4 809h11l-5.5 -10zM330.7 813.8h11l-5.5 -10zM331 808.5h11l-5.5 -10zM331.3 811.7h11l-5.5 -10zM331.7 807.7h11l-5.5 -10zM332 811.8h11l-5.5 -10zM332.3 812.8h11l-5.5 -10zM332.6 810.6h11l-5.5 -10zM332.9 808.3h11l-5.5 -10zM333.2 811.4h11l-5.5 -10zM333.5 808.4h11l-5.5 -10zM333.8 809.5h11l-5.5 -10zM334.2 811.8h11l-5.5 -10zM334.5 812.2h11l-5.5 -10zM334.8 810.9h11l-5.5 -10zM335.1 811.6h11l-5.5 -10zM335.4 811.7h11l-5.5 -10zM335.7 809.9h11l-5.5 -10zM336 808.4h11l-5.5 -10zM336.3 810.3h11l-5.5 -10zM336.7 813.3h11l-5.5 -10zM337 812.8h11l-5.5 -10zM337.3 811.8h11l-5.5 -10zM337.6 810.1h11l-5.5 -10zM337.9 813.3h11l-5.5 -10zM338.2 813.7h11l-5.5 -10zM338.5 812.1h11l-5.5 -10zM338.9 812.3h11l-5.5 -10zM339.2 814h11l-5.5 -10zM339.5 810.6h11l-5.5 -10zM339.8 808.1h11l-5.5 -10zM340.1 810.7h11l-5.5 -10zM340.4 809.3h11l-5.5 -10zM340.7 808.7h11l-5.5 -10zM341 808.6h11l-5.5 -10zM341.4 808.1h11l-5.5 -10zM341.7 811.3h11l-5.5 -10zM342 809.7h11l-5.5 -10zM342.3 813.4h11l-5.5 -10zM342.6 808.3h11l-5.5 -10zM342.9 811.7h11l-5.5 -10zM343.2 811.1h11l-5.5 -10zM343.5 808.3h11l-5.5 -10zM343.9 812.3h11l-5.5 -10zM344.2 813h11l-5.5 -10zM344.5 808.7h11l-5.5 -10zM344.8 810.8h11l-5.5 -10zM345.1 850h11l-5.5 -10zM345.4 872.8h11l-5.5 -10zM345.7 890.7h11l-5.5 -10zM346.1 906.8h11l-5.5 -10zM346.4 919.7h11l-5.5 -10zM346.7 932.6h11l-5.5 -10zM347 943.2h11l-5.5 -10zM347.3 952.7h11l-5.5 -10zM347.6 961h11l-5.5 -10zM347.9 968.7h11l-5.5 -10zM348.2 975.4h11l-5.5 -10zM348.6 981.5h11l-5.5 -10zM348.9 987.4h11l-5.5 -10zM349.2 992.9h11l-5.5 -10zM349.5 996.6h11l-5.5 -10zM349.8 1001.3h11l-5.5 -10zM350.1 1005.9h11l-5.5 -10zM350.4 1009.3h11l-5.5 -10zM350.7 1012.4h11l-5.5 -10zM351.1 1015.4h11l-5.5 -10zM351.4 1019.4h11l-5.5 -10zM351.7 1022.3h11l-5.5 -10zM352 1024.5h11l-5.5 -10zM352.3 1027.1h11l-5.5 -10zM352.6 1029.1h11l-5.5 -10zM352.9 1031.5h11l-5.5 -10zM353.2 1034.2h11l-5.5 -10zM353.6 1036.2h11l-5.5 -10zM353.9 1038.1h11l-5.5 -10zM354.2 1039.7h11l-5.5 -10zM354.5 1042.3h11l-5.5 -10zM354.8 1043.9h11l-5.5 -10zM355.1 1045.9h11l-5.5 -10zM355.4 1047h11l-5.5 -10zM355.8 1049.2h11l-5.5 -10zM356.1 1049.8h11l-5.5 -10zM356.4 1051.8h11l-5.5 -10zM356.7 1053.1h11l-5.5 -10zM357 1055.1h11l-5.5 -10zM357.3 1056.3h11l-5.5 -10zM357.6 1057.3h11l-5.5 -10zM357.9 1058.1h11l-5.5 -10zM358.3 1059.7h11l-5.5 -10zM358.6 1061.2h11l-5.5 -10zM358.9 1061.6h11l-5.5 -10zM359.2 1063h11l-5.5 -10zM359.5 1064.2h11l-5.5 -10zM359.8 1065.6h11l-5.5 -10zM360.1 1066.5h11l-5.5 -10zM360.4 1066.9h11l-5.5 -10zM360.8 1068.6h11l-5.5 -10zM361.1 1069.1h11l-5.5 -10zM361.4 1069.9h11l-5.5 -10zM361.7 1071.1h11l-5.5 -10zM362 1071.5h11l-5.5 -10zM362.3 1072.1h11l-5.5 -10zM362.6 1073h11l-5.5 -10zM363 1073.9h11l-5.5 -10zM363.3 1075.2h11l-5.5 -10zM363.6 1076.1h11l-5.5 -10zM363.9 1076.4h11l-5.5 -10zM364.2 1077.2h11l-5.5 -10zM364.5 1078h11l-5.5 -10zM364.8 1077.9h11l-5.5 -10zM365.1 1079.2h11l-5.5 -10zM365.5 1079.1h11l-5.5 -10zM365.8 1079.6h11l-5.5 -10zM366.1 1081h11l-5.5 -10zM366.4 1080.7h11l-5.5 -10zM366.7 1081.8h11l-5.5 -10zM367 1082.5h11l-5.5 -10zM367.3 1083.1h11l-5.5 -10zM367.6 1083.7h11l-5.5 -10zM368 1083.7h11l-5.5 -10zM368.3 1084.3h11l-5.5 -10zM368.6 1084.2h11l-5.5 -10zM368.9 1084.7h11l-5.5 -10zM369.2 1085.9h11l-5.5 -10zM369.5 1085.9h11l-5.5 -10zM369.8 1086.4h11l-5.5 -10zM370.2 1087h11l-5.5 -10zM370.5 1087.3h11l-5.5 -10zM370.8 1087.6h11l-5.5 -10zM371.1 1087.5h11l-5.5 -10zM371.4 1088.2h11l-5.5 -10zM371.7 1088.8h11l-5.5 -10zM372 1089h11l-5.5 -10zM372.3 1089h11l-5.5 -10zM372.7 1089.2h11l-5.5 -10zM373 1089.8h11l-5.5 -10zM373.3 1089.6h11l-5.5 -10zM373.6 1090.4h11l-5.5 -10zM373.9 1090.2h11l-5.5 -10zM374.2 1090.5h11l-5.5 -10zM374.5 1091.2h11l-5.5 -10zM374.8 1090.9h11l-5.5 -10zM375.2 1091.5h11l-5.5 -10zM375.5 1091.6h11l-5.5 -10zM375.8 1091.7h11l-5.5 -10zM376.1 1091.9h11l-5.5 -10zM376.4 1092.3h11l-5.5 -10zM376.7 1092.9h11l-5.5 -10zM377 1092.3h11l-5.5 -10zM377.4 1091.9h11l-5.5 -10zM377.7 1064.9h11l-5.5 -10zM378 1010.7h11l-5.5 -10zM378.3 956.4h11l-5.5 -10zM378.6 907.7h11l-5.5 -10zM378.9 870.5h11l-5.5 -10zM379.2 842.8h11l-5.5 -10zM379.5 820h11l-5.5 -10zM379.9 804.2h11l-5.5 -10zM380.2 794.9h11l-5.5 -10zM380.5 785.1h11l-5.5 -10zM380.8 780.6h11l-5.5 -10zM381.1 776.9h11l-5.5 -10zM381.4 772.1h11l-5.5 -10zM381.7 773.4h11l-5.5 -10zM382 769.9h11l-5.5 -10zM382.4 770.4h11l-5.5 -10zM382.7 773.2h11l-5.5 -10zM383 770.2h11l-5.5 -10zM383.3 767.9h11l-5.5 -10zM383.6 770.3h11l-5.5 -10zM383.9 769.9h11l-5.5 -10zM384.2 767.6h11l-5.5 -10zM384.6 770.4h11l-5.5 -10zM384.9 770.1h11l-5.5 -10zM385.2 769.5h11l-5.5 -10zM385.5 767.9h11l-5.5 -10zM385.8 772h11l-5.5 -10zM386.1 772.7h11l-5.5 -10zM386.4 768.3h11l-5.5 -10zM386.7 769.7h11l-5.5 -10zM387.1 771.3h11l-5.5 -10zM387.4 767.4h11l-5.5 -10zM387.7 767.4h11l-5.5 -10zM388 769.7h11l-5.5 -10zM388.3 766.7h11l-5.5 -10zM388.6 767.8h11l-5.5 -10zM388.9 768.4h11l-5.5 -10zM389.2 771.4h11l-5.5 -10zM389.6 773.3h11l-5.5 -10zM389.9 768.8h11l-5.5 -10zM390.2 768.4h11l-5.5 -10zM390.5 771h11l-5.5 -10zM390.8 770.2h11l-5.5 -10zM391.1 769.6h11l-5.5 -10zM391.4 771.7h11l-5.5 -10zM391.7 768.7h11l-5.5 -10zM392.1 769.6h11l-5.5 -10zM392.4 770.8h11l-5.5 -10zM392.7 772.6h11l-5.5 -10zM393 769.7h11l-5.5 -10zM393.3 771.2h11l-5.5 -10zM393.6 768.5h11l-5.5 -10zM393.9 772.2h11l-5.5 -10zM394.3 770.7h11l-5.5 -10zM394.6 772.1h11l-5.5 -10zM394.9 770.6h11l-5.5 -10zM395.2 769.5h11l-5.5 -10zM395.5 772.7h11l-5.5 -10zM395.8 773h11l-5.5 -10zM396.1 770.1h11l-5.5 -10zM396.4 772h11l-5.5 -10zM396.8 770h11l-5.5 -10zM397.1 772.2h11l-5.5 -10zM397.4 772.7h11l-5.5 -10zM397.7 769.8h11l-5.5 -10zM398 767.2h11l-5.5 -10zM398.3 767.6h11l-5.5 -10zM398.6 769.9h11l-5.5 -10zM398.9 770.7h11l-5.5 -10zM399.3 772.9h11l-5.5 -10zM399.6 771.5h11l-5.5 -10zM399.9 771.3h11l-5.5 -10zM400.2 767.1h11l-5.5 -10zM400.5 772.6h11l-5.5 -10zM400.8 767h11l-5.5 -10zM401.1 770.2h11l-5.5 -10zM401.5 770.5h11l-5.5 -10zM401.8 771.6h11l-5.5 -10zM402.1 766.9h11l-5.5 -10zM402.4 772.1h11l-5.5 -10zM402.7 769.5h11l-5.5 -10zM403 769.9h11l-5.5 -10zM403.3 772h11l-5.5 -10zM403.6 771.9h11l-5.5 -10zM404 766.8h11l-5.5 -10zM404.3 768.1h11l-5.5 -10zM404.6 768.5h11l-5.5 -10zM404.9 767.3h11l-5.5 -10zM405.2 772.7h11l-5.5 -10zM405.5 768.7h11l-5.5 -10zM405.8 768.3h11l-5.5 -10zM406.1 771.9h11l-5.5 -10zM406.5 770.3h11l-5.5 -10zM406.8 766.8h11l-5.5 -10zM407.1 770.2h11l-5.5 -10zM407.4 858.9h11l-5.5 -10zM407.7 885.9h11l-5.5 -10zM408 901.5h11l-5.5 -10zM408.3 915.2h11l-5.5 -10zM408.7 926.6h11l-5.5 -10zM409 937.2h11l-5.5 -10zM409.3 945.9h11l-5.5 -10zM409.6 954.4h11l-5.5 -10zM409.9 962.2h11l-5.5 -10zM410.2 968.8h11l-5.5 -10zM410.5 975.2h11l-5.5 -10zM410.8 980.4h11l-5.5 -10zM411.2 986.1h11l-5.5 -10zM411.5 990.5h11l-5.5 -10zM411.8 994.8h11l-5.5 -10zM412.1 999.1h11l-5.5 -10zM412.4 1003.2h11l-5.5 -10zM412.7 1006.5h11l-5.5 -10zM413 1009.3h11l-5.5 -10zM413.3 1012.8h11l-5.5 -10zM413.7 1015h11l-5.5 -10zM414 1018h11l-5.5 -10zM414.3 1020.1h11l-5.5 -10zM414.6 1022.7h11l-5.5 -10zM414.9 1025.1h11l-5.5 -10zM415.2 1027.7h11l-5.5 -10zM415.5 1030.1h11l-5.5 -10zM415.9 1031.6h11l-5.5 -10zM416.2 1033.3h11l-5.5 -10zM416.5 1035h11l-5.5 -10zM416.8 1037.5h11l-5.5 -10zM417.1 1039.3h11l-5.5 -10zM417.4 1040.1h11l-5.5 -10zM417.7 1041.9h11l-5.5 -10zM418 1043.7h11l-5.5 -10zM418.4 1044.9h11l-5.5 -10zM418.7 1047h11l-5.5 -10zM419 1048h11l-5.5 -10zM419.3 1049.2h11l-5.5 -10zM419.6 1050.5h11l-5.5 -10zM419.9 1052.3h11l-5.5 -10zM420.2 1053.5h11l-5.5 -10zM420.5 1054.2h11l-5.5 -10zM420.9 1055h11l-5.5 -10zM421.2 1056.9h11l-5.5 -10zM421.5 1058.1h11l-5.5 -10zM421.8 1059.1h11l-5.5 -10zM422.1 1059.4h11l-5.5 -10zM422.4 1060.8h11l-5.5 -10zM422.7 1061.7h11l-5.5 -10zM423 1062h11l-5.5 -10zM423.4 1063.3h11l-5.5 -10zM423.7 1064.6h11l-5.5 -10zM424 1064.9h11l-5.5 -10zM424.3 1066.5h11l-5.5 -10zM424.6 1067h11l-5.5 -10zM424.9 1067.3h11l-5.5 -10zM425.2 1068.7h11l-5.5 -10zM425.6 1069.5h11l-5.5 -10zM425.9 1069.7h11l-5.5 -10zM426.2 1070.6h11l-5.5 -10zM426.5 1070.6h11l-5.5 -10zM426.8 1072.2h11l-5.5 -10zM427.1 1072.1h11l-5.5 -10zM427.4 1073.2h11l-5.5 -10zM427.7 1073.3h11l-5.5 -10zM428.1 1074.3h11l-5.5 -10zM428.4 1074.6h11l-5.5 -10zM428.7 1075.5h11l-5.5 -10zM429 1076.2h11l-5.5 -10zM429.3 1076.4h11l-5.5 -10zM429.6 1076.6h11l-5.5 -10zM429.9 1077.5h11l-5.5 -10zM430.2 1078.1h11l-5.5 -10zM430.6 1078.4h11l-5.5 -10zM430.9 1079.2h11l-5.5 -10zM431.2 1079.4h11l-5.5 -10zM431.5 1079.6h11l-5.5 -10zM431.8 1080h11l-5.5 -10zM432.1 1080.3h11l-5.5 -10zM432.4 1081.1h11l-5.5 -10zM432.8 1081.7h11l-5.5 -10zM433.1 1082.1h11l-5.5 -10zM433.4 1082.1h11l-5.5 -10zM433.7 1082.6h11l-5.5 -10zM434 1082.6h11l-5.5 -10zM434.3 1083.2h11l-5.5 -10zM434.6 1083h11l-5.5 -10zM434.9 1083.5h11l-5.5 -10zM435.3 1083.7h11l-5.5 -10zM435.6 1083.9h11l-5.5 -10zM435.9 1084.4h11l-5.5 -10zM436.2 1084.8h11l-5.5 -10zM436.5 1085.2h11l-5.5 -10zM436.8 1085.7h11l-5.5 -10zM437.1 1085.2h11l-5.5 -10zM437.4 1085.8h11l-5.5 -10zM437.8 1086.4h11l-5.5 -10zM438.1 1085.8h11l-5.5 -10zM438.4 1086.4h11l-5.5 -10zM438.7 1086.6h11l-5.5 -10zM439 1087h11l-5.5 -10zM439.3 1087.5h11l-5.5 -10zM439.6 1086.8h11l-5.5 -10zM440 1087.9h11l-5.5 -10zM440.3 1087.9h11l-5.5 -10zM440.6 1087.4h11l-5.5 -10zM440.9 1089.1h11l-5.5 -10zM441.2 1063.9h11l-5.5 -10zM441.5 1015.5h11l-5.5 -10zM441.8 964.4h11l-5.5 -10zM442.1 916.3h11l-5.5 -10zM442.5 879.7h11l-5.5 -10zM442.8 850.2h11l-5.5 -10zM443.1 825.7h11l-5.5 -10zM443.4 809.6h11l-5.5 -10zM443.7 794.9h11l-5.5 -10zM444 785h11l-5.5 -10zM444.3 777.9h11l-5.5 -10zM444.6 775h11l-5.5 -10zM445 769.4h11l-5.5 -10zM445.3 767.3h11l-5.5 -10zM445.6 764.3h11l-5.5 -10zM445.9 762.7h11l-5.5 -10zM446.2 760.9h11l-5.5 -10zM446.5 759.8h11l-5.5 -10zM446.8 757h11l-5.5 -10zM447.1 757.1h11l-5.5 -10zM447.5 753.5h11l-5.5 -10zM447.8 754.7h11l-5.5 -10zM448.1 751h11l-5.5 -10zM448.4 751.8h11l-5.5 -10zM448.7 752.8h11l-5.5 -10zM449 748.3h11l-5.5 -10zM449.3 749.7h11l-5.5 -10zM449.7 748.1h11l-5.5 -10zM450 749.9h11l-5.5 -10zM450.3 749.1h11l-5.5 -10zM450.6 752.7h11l-5.5 -10zM450.9 748.8h11l-5.5 -10zM451.2 749.8h11l-5.5 -10zM451.5 746.8h11l-5.5 -10zM451.8 753.2h11l-5.5 -10zM452.2 752.8h11l-5.5 -10zM452.5 748.7h11l-5.5 -10zM452.8 747.1h11l-5.5 -10zM453.1 750.4h11l-5.5 -10zM453.4 748.5h11l-5.5 -10zM453.7 749.5h11l-5.5 -10zM454 750.7h11l-5.5 -10zM454.3 750.2h11l-5.5 -10zM454.7 749.2h11l-5.5 -10zM455 753.1h11l-5.5 -10zM455.3 751.2h11l-5.5 -10zM455.6 748.3h11l-5.5 -10zM455.9 751.5h11l-5.5 -10zM456.2 750.1h11l-5.5 -10zM456.5 751.5h11l-5.5 -10zM456.9 750.9h11l-5.5 -10zM457.2 748.9h11l-5.5 -10zM457.5 748.3h11l-5.5 -10zM457.8 746.9h11l-5.5 -10zM458.1 750.1h11l-5.5 -10zM458.4 751.9h11l-5.5 -10zM458.7 751h11l-5.5 -10zM459 752.9h11l-5.5 -10zM459.4 751.7h11l-5.5 -10zM459.7 749.4h11l-5.5 -10zM460 749.2h11l-5.5 -10zM460.3 751.7h11l-5.5 -10zM460.6 752.1h11l-5.5 -10zM460.9 752.6h11l-5.5 -10zM461.2 752.1h11l-5.5 -10zM461.5 749.9h11l-5.5 -10zM461.9 751.6h11l-5.5 -10zM462.2 747.3h11l-5.5 -10zM462.5 749.5h11l-5.5 -10zM462.8 751h11l-5.5 -10zM463.1 750.4h11l-5.5 -10zM463.4 753h11l-5.5 -10zM463.7 748.4h11l-5.5 -10zM464.1 748.2h11l-5.5 -10zM464.4 750.8h11l-5.5 -10zM464.7 748.4h11l-5.5 -10zM465 751.4h11l-5.5 -10zM465.3 751.8h11l-5.5 -10zM465.6 751.7h11l-5.5 -10zM465.9 752h11l-5.5 -10zM466.2 749.2h11l-5.5 -10zM466.6 749h11l-5.5 -10zM466.9 748.4h11l-5.5 -10zM467.2 752.6h11l-5.5 -10zM467.5 748.1h11l-5.5 -10zM467.8 750.1h11l-5.5 -10zM468.1 750.7h11l-5.5 -10zM468.4 749.9h11l-5.5 -10zM468.7 750.4h11l-5.5 -10zM469.1 751.9h11l-5.5 -10zM469.4 750.6h11l-5.5 -10zM469.7 748.9h11l-5.5 -10zM470 748.5h11l-5.5 -10zM470.3 747.1h11l-5.5 -10zM470.6 752h11l-5.5 -10zM470.9 747.3h11l-5.5 -10zM471.3 747.9h11l-5.5 -10zM471.6 749.7h11l-5.5 -10zM471.9 824.7h11l-5.5 -10zM472.2 852.6h11l-5.5 -10zM472.5 870.4h11l-5.5 -10zM472.8 885.8h11l-5.5 -10zM473.1 900.3h11l-5.5 -10zM473.4 912h11l-5.5 -10zM473.8 922.4h11l-5.5 -10zM474.1 932.8h11l-5.5 -10zM474.4 941h11l-5.5 -10zM474.7 948.7h11l-5.5 -10zM475 956.4h11l-5.5 -10zM475.3 963.1h11l-5.5 -10zM475.6 968.9h11l-5.5 -10zM475.9 973.6h11l-5.5 -10zM476.3 979h11l-5.5 -10zM476.6 983.7h11l-5.5 -10zM476.9 987.8h11l-5.5 -10zM477.2 991.2h11l-5.5 -10zM477.5 995.6h11l-5.5 -10zM477.8 999.3h11l-5.5 -10zM478.1 1001.5h11l-5.5 -10zM478.4 1005.2h11l-5.5 -10zM478.8 1008h11l-5.5 -10zM479.1 1010.1h11l-5.5 -10zM479.4 1013.4h11l-5.5 -10zM479.7 1016.1h11l-5.5 -10zM480 1017.5h11l-5.5 -10zM480.3 1020.5h11l-5.5 -10zM480.6 1022.6h11l-5.5 -10zM481 1023.9h11l-5.5 -10zM481.3 1026.6h11l-5.5 -10zM481.6 1027.8h11l-5.5 -10zM481.9 1030.2h11l-5.5 -10zM482.2 1032h11l-5.5 -10zM482.5 1033.8h11l-5.5 -10zM482.8 1035.1h11l-5.5 -10zM483.1 1036.6h11l-5.5 -10zM483.5 1038.3h11l-5.5 -10zM483.8 1039.7h11l-5.5 -10zM484.1 1041.3h11l-5.5 -10zM484.4 1042.1h11l-5.5 -10zM484.7 1043.3h11l-5.5 -10zM485 1044.8h11l-5.5 -10zM485.3 1046h11l-5.5 -10zM485.6 1048h11l-5.5 -10zM486 1049h11l-5.5 -10zM486.3 1050.2h11l-5.5 -10zM486.6 1051.4h11l-5.5 -10zM486.9 1051.6h11l-5.5 -10zM487.2 1052.7h11l-5.5 -10zM487.5 1053.7h11l-5.5 -10zM487.8 1055.1h11l-5.5 -10zM488.2 1056.5h11l-5.5 -10zM488.5 1057.1h11l-5.5 -10zM488.8 1058.4h11l-5.5 -10zM489.1 1058.4h11l-5.5 -10zM489.4 1059.9h11l-5.5 -10zM489.7 1060.7h11l-5.5 -10zM490 1060.8h11l-5.5 -10zM490.3 1062.4h11l-5.5 -10zM490.7 1062.4h11l-5.5 -10zM491 1063.8h11l-5.5 -10zM491.3 1064.1h11l-5.5 -10zM491.6 1065.4h11l-5.5 -10zM491.9 1065.2h11l-5.5 -10zM492.2 1066.4h11l-5.5 -10zM492.5 1067.1h11l-5.5 -10zM492.8 1067.4h11l-5.5 -10zM493.2 1068.1h11l-5.5 -10zM493.5 1069h11l-5.5 -10zM493.8 1069.7h11l-5.5 -10zM494.1 1069.8h11l-5.5 -10zM494.4 1070.9h11l-5.5 -10zM494.7 1070.5h11l-5.5 -10zM495 1071.6h11l-5.5 -10zM495.4 1072.3h11l-5.5 -10zM495.7 1072.6h11l-5.5 -10zM496 1073.3h11l-5.5 -10zM496.3 1073.5h11l-5.5 -10zM496.6 1073.7h11l-5.5 -10zM496.9 1074.3h11l-5.5 -10zM497.2 1074.8h11l-5.5 -10zM497.5 1075.2h11l-5.5 -10zM497.9 1075.4h11l-5.5 -10zM498.2 1075.5h11l-5.5 -10zM498.5 1076.2h11l-5.5 -10zM498.8 1076.2h11l-5.5 -10zM499.1 1076.9h11l-5.5 -10zM499.4 1077.6h11l-5.5 -10zM499.7 1077.9h11l-5.5 -10zM500 1077.5h11l-5.5 -10zM500.4 1078.2h11l-5.5 -10zM500.7 1078.6h11l-5.5 -10zM501 1078.8h11l-5.5 -10zM501.3 1078.7h11l-5.5 -10zM501.6 1079.5h11l-5.5 -10zM501.9 1079.8h11l-5.5 -10zM502.2 1080h11l-5.5 -10zM502.6 1080.6h11l-5.5 -10zM502.9 1080.3h11l-5.5 -10zM503.2 1080.6h11l-5.5 -10zM503.5 1080.9h11l-5.5 -10zM503.8 1081.1h11l-5.5 -10zM504.1 1081.3h11l-5.5 -10zM504.4 1081.3h11l-5.5 -10zM504.7 1082.1h11l-5.5 -10zM505.1 1081.4h11l-5.5 -10zM505.4 1082.5h11l-5.5 -10zM505.7 1081.9h11l-5.5 -10zM506 1082.9h11l-5.5 -10zM506.3 1082.4h11l-5.5 -10zM506.6 1083.1h11l-5.5 -10zM506.9 1083.5h11l-5.5 -10zM507.2 1083.1h11l-5.5 -10zM507.6 1060.9h11l-5.5 -10zM507.9 1017.2h11l-5.5 -10zM508.2 969.5h11l-5.5 -10zM508.5 925.9h11l-5.5 -10zM508.8 892.2h11l-5.5 -10zM509.1 861.2h11l-5.5 -10zM509.4 838.4h11l-5.5 -10zM509.8 818.7h11l-5.5 -10zM510.1 805.9h11l-5.5 -10zM510.4 794.8h11l-5.5 -10zM510.7 786.9h11l-5.5 -10zM511 780.4h11l-5.5 -10zM511.3 776.5h11l-5.5 -10zM511.6 772.3h11l-5.5 -10zM511.9 770.1h11l-5.5 -10zM512.3 768.7h11l-5.5 -10zM512.6 764.2h11l-5.5 -10zM512.9 764.3h11l-5.5 -10zM513.2 762.4h11l-5.5 -10zM513.5 758.6h11l-5.5 -10zM513.8 758.4h11l-5.5 -10zM514.1 755.7h11l-5.5 -10zM514.4 755.7h11l-5.5 -10zM514.8 753.6h11l-5.5 -10zM515.1 750.7h11l-5.5 -10zM515.4 750.9h11l-5.5 -10zM515.7 748h11l-5.5 -10zM516 745.3h11l-5.5 -10zM516.3 745.7h11l-5.5 -10zM516.6 742.8h11l-5.5 -10zM516.9 741.1h11l-5.5 -10zM517.3 739.9h11l-5.5 -10zM517.6 737.9h11l-5.5 -10zM517.9 736.5h11l-5.5 -10zM518.2 736.8h11l-5.5 -10zM518.5 734.8h11l-5.5 -10zM518.8 732.3h11l-5.5 -10zM519.1 713.3h11l-5.5 -10zM519.5 718.3h11l-5.5 -10zM519.8 715.8h11l-5.5 -10zM520.1 718.9h11l-5.5 -10zM520.4 714.1h11l-5.5 -10zM520.7 716.8h11l-5.5 -10zM521 716.3h11l-5.5 -10zM521.3 715.3h11l-5.5 -10zM521.6 718.9h11l-5.5 -10zM522 714.9h11l-5.5 -10zM522.3 714.4h11l-5.5 -10zM522.6 714h11l-5.5 -10zM522.9 717.9h11l-5.5 -10zM523.2 718.2h11l-5.5 -10zM523.5 718.7h11l-5.5 -10zM523.8 713.7h11l-5.5 -10zM524.1 716.8h11l-5.5 -10zM524.5 717.2h11l-5.5 -10zM524.8 716.3h11l-5.5 -10zM525.1 715.1h11l-5.5 -10zM525.4 717.6h11l-5.5 -10zM525.7 717.5h11l-5.5 -10zM526 714.6h11l-5.5 -10zM526.3 714.6h11l-5.5 -10zM526.7 717.8h11l-5.5 -10zM527 719.3h11l-5.5 -10zM527.3 713.6h11l-5.5 -10zM527.6 714.9h11l-5.5 -10zM527.9 715.8h11l-5.5 -10zM528.2 717.1h11l-5.5 -10zM528.5 713.3h11l-5.5 -10zM528.8 716.9h11l-5.5 -10zM529.2 718.3h11l-5.5 -10zM529.5 719.1h11l-5.5 -10zM529.8 717.4h11l-5.5 -10zM530.1 715.7h11l-5.5 -10zM530.4 717.3h11l-5.5 -10zM530.7 713.4h11l-5.5 -10zM531 715.4h11l-5.5 -10zM531.3 716.7h11l-5.5 -10zM531.7 715.3h11l-5.5 -10zM532 715.7h11l-5.5 -10zM532.3 715.6h11l-5.5 -10zM532.6 716.5h11l-5.5 -10zM532.9 716.3h11l-5.5 -10zM533.2 716.5h11l-5.5 -10zM533.5 714.2h11l-5.5 -10zM533.9 718.5h11l-5.5 -10zM534.2 714.5h11l-5.5 -10zM534.5 717.8h11l-5.5 -10zM534.8 714.1h11l-5.5 -10zM535.1 719.3h11l-5.5 -10zM535.4 716.5h11l-5.5 -10zM535.7 716.8h11l-5.5 -10zM536 715h11l-5.5 -10zM536.4 718.4h11l-5.5 -10zM536.7 718h11l-5.5 -10zM537 718.9h11l-5.5 -10zM537.3 716h11l-5.5 -10zM537.6 715.9h11l-5.5 -10zM537.9 719.8h11l-5.5 -10zM538.2 718.6h11l-5.5 -10zM538.5 718.4h11l-5.5 -10zM538.9 713.4h11l-5.5 -10zM539.2 716.7h11l-5.5 -10zM539.5 716h11l-5.5 -10zM539.8 717.8h11l-5.5 -10zM540.1 715.4h11l-5.5 -10zM540.4 714.3h11l-5.5 -10zM540.7 716.2h11l-5.5 -10zM541 862.4h11l-5.5 -10zM541.4 893h11l-5.5 -10zM541.7 907.3h11l-5.5 -10zM542 918.8h11l-5.5 -10zM542.3 927.6h11l-5.5 -10zM542.6 936.7h11l-5.5 -10zM542.9 944.4h11l-5.5 -10zM543.2 951.1h11l-5.5 -10zM543.6 957.5h11l-5.5 -10zM543.9 963.3h11l-5.5 -10zM544.2 968.2h11l-5.5 -10zM544.5 973.5h11l-5.5 -10zM544.8 978.1h11l-5.5 -10zM545.1 982.6h11l-5.5 -10zM545.4 985.9h11l-5.5 -10zM545.7 989.7h11l-5.5 -10zM546.1 992.9h11l-5.5 -10zM546.4 996.3h11l-5.5 -10zM546.7 999.6h11l-5.5 -10zM547 1002.4h11l-5.5 -10zM547.3 1004.9h11l-5.5 -10zM547.6 1007.5h11l-5.5 -10zM547.9 1009.1h11l-5.5 -10zM548.2 1011.7h11l-5.5 -10zM548.6 1014.3h11l-5.5 -10zM548.9 1015.9h11l-5.5 -10zM549.2 1018h11l-5.5 -10zM549.5 1020.5h11l-5.5 -10zM549.8 1021.7h11l-5.5 -10zM550.1 1024h11l-5.5 -10zM550.4 1024.9h11l-5.5 -10zM550.8 1027.5h11l-5.5 -10zM551.1 1029h11l-5.5 -10zM551.4 1030.6h11l-5.5 -10zM551.7 1031.4h11l-5.5 -10zM552 1032.9h11l-5.5 -10zM552.3 1034.6h11l-5.5 -10zM552.6 1036.4h11l-5.5 -10zM552.9 1037.5h11l-5.5 -10zM553.3 1038.5h11l-5.5 -10zM553.6 1040.4h11l-5.5 -10zM553.9 1040.7h11l-5.5 -10zM554.2 1042h11l-5.5 -10zM554.5 1043h11l-5.5 -10zM554.8 1044.4h11l-5.5 -10zM555.1 1045.5h11l-5.5 -10zM555.4 1046.2h11l-5.5 -10zM555.8 1048h11l-5.5 -10zM556.1 1048.9h11l-5.5 -10zM556.4 1050.1h11l-5.5 -10zM556.7 1050.9h11l-5.5 -10zM557 1051.2h11l-5.5 -10zM557.3 1052.8h11l-5.5 -10zM557.6 1053h11l-5.5 -10zM558 1054.2h11l-5.5 -10zM558.3 1054.5h11l-5.5 -10zM558.6 1055.4h11l-5.5 -10zM558.9 1056.2h11l-5.5 -10zM559.2 1056.8h11l-5.5 -10zM559.5 1058.4h11l-5.5 -10zM559.8 1058.9h11l-5.5 -10zM560.1 1059.4h11l-5.5 -10zM560.5 1060h11l-5.5 -10zM560.8 1060.4h11l-5.5 -10zM561.1 1060.8h11l-5.5 -10zM561.4 1061.6h11l-5.5 -10zM561.7 1062h11l-5.5 -10zM562 1062.8h11l-5.5 -10zM562.3 1063.7h11l-5.5 -10zM562.6 1064.1h11l-5.5 -10zM563 1064.4h11l-5.5 -10zM563.3 1064.9h11l-5.5 -10zM563.6 1065.8h11l-5.5 -10zM563.9 1066.3h11l-5.5 -10zM564.2 1066.5h11l-5.5 -10zM564.5 1067.4h11l-5.5 -10zM564.8 1067.2h11l-5.5 -10zM565.2 1068.6h11l-5.5 -10zM565.5 1068.3h11l-5.5 -10zM565.8 1068.9h11l-5.5 -10zM566.1 1069.6h11l-5.5 -10zM566.4 1069.6h11l-5.5 -10zM566.7 1070.1h11l-5.5 -10zM567 1069.9h11l-5.5 -10zM567.3 1070.4h11l-5.5 -10zM567.7 1071h11l-5.5 -10zM568 1071.1h11l-5.5 -10zM568.3 1071.4h11l-5.5 -10zM568.6 1072.5h11l-5.5 -10zM568.9 1072.1h11l-5.5 -10zM569.2 1072.4h11l-5.5 -10zM569.5 1072.5h11l-5.5 -10zM569.8 1073h11l-5.5 -10zM570.2 1073.7h11l-5.5 -10zM570.5 1074.2h11l-5.5 -10zM570.8 1074h11l-5.5 -10zM571.1 1074.7h11l-5.5 -10zM571.4 1074.4h11l-5.5 -10zM571.7 1074.8h11l-5.5 -10zM572 1074.8h11l-5.5 -10zM572.4 1075.5h11l-5.5 -10zM572.7 1075.8h11l-5.5 -10zM573 1075.4h11l-5.5 -10zM573.3 1075.8h11l-5.5 -10zM573.6 1076.4h11l-5.5 -10zM573.9 1076.4h11l-5.5 -10zM574.2 1076.7h11l-5.5 -10zM574.5 1076.7h11l-5.5 -10zM574.9 1077h11l-5.5 -10zM575.2 1077.4h11l-5.5 -10zM575.5 1076.8h11l-5.5 -10zM575.8 1077.1h11l-5.5 -10zM576.1 1077.4h11l-5.5 -10zM576.4 1078.1h11l-5.5 -10zM576.7 1078.3h11l-5.5 -10zM577 1077.9h11l-5.5 -10zM577.4 1078h11l-5.5 -10zM577.7 1078.3h11l-5.5 -10zM578 1078.9h11l-5.5 -10zM578.3 1078.5h11l-5.5 -10zM578.6 1078.8h11l-5.5 -10zM578.9 1056.9h11l-5.5 -10zM579.2 1010.9h11l-5.5 -10zM579.5 961.7h11l-5.5 -10zM579.9 916h11l-5.5 -10zM580.2 878.1h11l-5.5 -10zM580.5 846.2h11l-5.5 -10zM580.8 824.1h11l-5.5 -10zM581.1 804.2h11l-5.5 -10zM581.4 789h11l-5.5 -10zM581.7 779.1h11l-5.5 -10zM582.1 771.2h11l-5.5 -10zM582.4 764.3h11l-5.5 -10zM582.7 761.6h11l-5.5 -10zM583 755.7h11l-5.5 -10zM583.3 753h11l-5.5 -10zM583.6 750.4h11l-5.5 -10zM583.9 748.8h11l-5.5 -10zM584.2 745.8h11l-5.5 -10zM584.6 745.2h11l-5.5 -10zM584.9 742.3h11l-5.5 -10zM585.2 741.2h11l-5.5 -10zM585.5 737.7h11l-5.5 -10zM585.8 736.4h11l-5.5 -10zM586.1 735.6h11l-5.5 -10zM586.4 733.2h11l-5.5 -10zM586.7 732.6h11l-5.5 -10zM587.1 730.6h11l-5.5 -10zM587.4 730h11l-5.5 -10zM587.7 726.5h11l-5.5 -10zM588 725.1h11l-5.5 -10zM588.3 723.5h11l-5.5 -10zM588.6 723.7h11l-5.5 -10zM588.9 720.2h11l-5.5 -10zM589.3 720.7h11l-5.5 -10zM589.6 717.6h11l-5.5 -10zM589.9 716.2h11l-5.5 -10zM590.2 715.8h11l-5.5 -10zM590.5 713.2h11l-5.5 -10zM590.8 710.4h11l-5.5 -10zM591.1 709.5h11l-5.5 -10zM591.4 708.7h11l-5.5 -10zM591.8 705.7h11l-5.5 -10zM592.1 705.4h11l-5.5 -10zM592.4 699h11l-5.5 -10zM592.7 702.3h11l-5.5 -10zM593 704.5h11l-5.5 -10zM593.3 698.5h11l-5.5 -10zM593.6 704.6h11l-5.5 -10zM593.9 703.3h11l-5.5 -10zM594.3 699.9h11l-5.5 -10zM594.6 704.3h11l-5.5 -10zM594.9 701.4h11l-5.5 -10zM595.2 699.3h11l-5.5 -10zM595.5 701.1h11l-5.5 -10zM595.8 702.7h11l-5.5 -10zM596.1 700h11l-5.5 -10zM596.5 699.5h11l-5.5 -10zM596.8 701.1h11l-5.5 -10zM597.1 700.8h11l-5.5 -10zM597.4 702.9h11l-5.5 -10zM597.7 702.3h11l-5.5 -10zM598 698.4h11l-5.5 -10zM598.3 698.5h11l-5.5 -10zM598.6 705h11l-5.5 -10zM599 703.7h11l-5.5 -10zM599.3 703.5h11l-5.5 -10zM599.6 699.7h11l-5.5 -10zM599.9 703.7h11l-5.5 -10zM600.2 703.9h11l-5.5 -10zM600.5 699.9h11l-5.5 -10zM600.8 703.9h11l-5.5 -10zM601.1 698.5h11l-5.5 -10zM601.5 702h11l-5.5 -10zM601.8 699h11l-5.5 -10zM602.1 699.5h11l-5.5 -10zM602.4 703.6h11l-5.5 -10zM602.7 699.8h11l-5.5 -10zM603 702.2h11l-5.5 -10zM603.3 703.5h11l-5.5 -10zM603.6 704.7h11l-5.5 -10zM604 700.3h11l-5.5 -10zM604.3 701.3h11l-5.5 -10zM604.6 703h11l-5.5 -10zM604.9 699.5h11l-5.5 -10zM605.2 703.7h11l-5.5 -10zM605.5 702.1h11l-5.5 -10zM605.8 704.4h11l-5.5 -10zM606.2 702.7h11l-5.5 -10zM606.5 699.1h11l-5.5 -10zM606.8 701.7h11l-5.5 -10zM607.1 704h11l-5.5 -10zM607.4 703.4h11l-5.5 -10zM607.7 700.7h11l-5.5 -10zM608 703.2h11l-5.5 -10zM608.3 699.1h11l-5.5 -10zM608.7 704.6h11l-5.5 -10zM609 699.2h11l-5.5 -10zM609.3 700.9h11l-5.5 -10zM609.6 699.5h11l-5.5 -10zM609.9 702.7h11l-5.5 -10zM610.2 704.6h11l-5.5 -10zM610.5 703.9h11l-5.5 -10zM610.8 700.8h11l-5.5 -10zM611.2 704.9h11l-5.5 -10zM611.5 704.3h11l-5.5 -10zM611.8 699.8h11l-5.5 -10zM612.1 699.1h11l-5.5 -10zM612.4 699.3h11l-5.5 -10zM612.7 699.4h11l-5.5 -10zM613 701.3h11l-5.5 -10zM613.4 699.2h11l-5.5 -10zM613.7 700.4h11l-5.5 -10zM614 701.3h11l-5.5 -10zM614.3 702.2h11l-5.5 -10zM614.6 704.9h11l-5.5 -10zM614.9 704.4h11l-5.5 -10zM615.2 703.4h11l-5.5 -10zM615.5 701.9h11l-5.5 -10zM615.9 704.2h11l-5.5 -10zM616.2 698.5h11l-5.5 -10zM616.5 701.2h11l-5.5 -10zM616.8 700.1h11l-5.5 -10zM617.1 699h11l-5.5 -10zM617.4 702h11l-5.5 -10zM617.7 797.5h11l-5.5 -10zM618 828.6h11l-5.5 -10zM618.4 849.5h11l-5.5 -10zM618.7 866.7h11l-5.5 -10zM619 880.9h11l-5.5 -10zM619.3 894.1h11l-5.5 -10zM619.6 906.1h11l-5.5 -10zM619.9 917.2h11l-5.5 -10zM620.2 926.6h11l-5.5 -10zM620.6 935.8h11l-5.5 -10zM620.9 943.5h11l-5.5 -10zM621.2 950.4h11l-5.5 -10zM621.5 956.5h11l-5.5 -10zM621.8 963.1h11l-5.5 -10zM622.1 967.6h11l-5.5 -10zM622.4 973.6h11l-5.5 -10zM622.7 977.2h11l-5.5 -10zM623.1 982.2h11l-5.5 -10zM623.4 985.5h11l-5.5 -10zM623.7 989.2h11l-5.5 -10zM624 992.4h11l-5.5 -10zM624.3 996.2h11l-5.5 -10zM624.6 998.9h11l-5.5 -10zM624.9 1002.2h11l-5.5 -10zM625.2 1004.3h11l-5.5 -10zM625.6 1007.6h11l-5.5 -10zM625.9 1009.2h11l-5.5 -10zM626.2 1011.8h11l-5.5 -10zM626.5 1014.6h11l-5.5 -10zM626.8 1015.7h11l-5.5 -10zM627.1 1018.4h11l-5.5 -10zM627.4 1020.6h11l-5.5 -10zM627.8 1022.2h11l-5.5 -10zM628.1 1024.2h11l-5.5 -10zM628.4 1025.6h11l-5.5 -10zM628.7 1026.8h11l-5.5 -10zM629 1028h11l-5.5 -10zM629.3 1029.9h11l-5.5 -10zM629.6 1031.2h11l-5.5 -10zM629.9 1032.6h11l-5.5 -10zM630.3 1034.1h11l-5.5 -10zM630.6 1035.8h11l-5.5 -10zM630.9 1037.2h11l-5.5 -10zM631.2 1038.5h11l-5.5 -10zM631.5 1039.3h11l-5.5 -10zM631.8 1040.8h11l-5.5 -10zM632.1 1041.4h11l-5.5 -10zM632.4 1042.9h11l-5.5 -10zM632.8 1043.7h11l-5.5 -10zM633.1 1044.8h11l-5.5 -10zM633.4 1045.7h11l-5.5 -10zM633.7 1047.2h11l-5.5 -10zM634 1048h11l-5.5 -10zM634.3 1048.5h11l-5.5 -10zM634.6 1049.9h11l-5.5 -10zM635 1050.2h11l-5.5 -10zM635.3 1050.8h11l-5.5 -10zM635.6 1052.2h11l-5.5 -10zM635.9 1052.4h11l-5.5 -10zM636.2 1053.5h11l-5.5 -10zM636.5 1053.9h11l-5.5 -10zM636.8 1055.1h11l-5.5 -10zM637.1 1055.6h11l-5.5 -10zM637.5 1056.3h11l-5.5 -10zM637.8 1057.5h11l-5.5 -10zM638.1 1057.8h11l-5.5 -10zM638.4 1058.4h11l-5.5 -10zM638.7 1059.1h11l-5.5 -10zM639 1059.5h11l-5.5 -10zM639.3 1059.8h11l-5.5 -10zM639.6 1060.5h11l-5.5 -10zM640 1061.1h11l-5.5 -10zM640.3 1062.3h11l-5.5 -10zM640.6 1062.2h11l-5.5 -10zM640.9 1062.8h11l-5.5 -10zM641.2 1063h11l-5.5 -10zM641.5 1064.5h11l-5.5 -10zM641.8 1064.7h11l-5.5 -10zM642.1 1064.3h11l-5.5 -10zM642.5 1065.4h11l-5.5 -10zM642.8 1065.5h11l-5.5 -10zM643.1 1066h11l-5.5 -10zM643.4 1066.6h11l-5.5 -10zM643.7 1067h11l-5.5 -10zM644 1067.2h11l-5.5 -10zM644.3 1067.2h11l-5.5 -10zM644.7 1068h11l-5.5 -10zM645 1068.1h11l-5.5 -10zM645.3 1068.9h11l-5.5 -10zM645.6 1068.8h11l-5.5 -10zM645.9 1069.3h11l-5.5 -10zM646.2 1069.4h11l-5.5 -10zM646.5 1069.6h11l-5.5 -10zM646.8 1070.8h11l-5.5 -10zM647.2 1070.1h11l-5.5 -10zM647.5 1070.8h11l-5.5 -10zM647.8 1071.4h11l-5.5 -10zM648.1 1071.5h11l-5.5 -10zM648.4 1072.1h11l-5.5 -10zM648.7 1072.2h11l-5.5 -10zM649 1071.8h11l-5.5 -10zM649.3 1072.2h11l-5.5 -10zM649.7 1072.3h11l-5.5 -10zM650 1073.2h11l-5.5 -10zM650.3 1073.5h11l-5.5 -10zM650.6 1073.4h11l-5.5 -10zM650.9 1073.5h11l-5.5 -10zM651.2 1073.5h11l-5.5 -10zM651.5 1074.1h11l-5.5 -10zM651.9 1073.9h11l-5.5 -10zM652.2 1074.2h11l-5.5 -10zM652.5 1074.7h11l-5.5 -10zM652.8 1074.3h11l-5.5 -10zM653.1 1075.3h11l-5.5 -10zM653.4 1074.9h11l-5.5 -10zM653.7 1075.5h11l-5.5 -10zM654 1075.8h11l-5.5 -10zM654.4 1075.5h11l-5.5 -10zM654.7 1075.6h11l-5.5 -10zM655 1075.6h11l-5.5 -10zM655.3 1076h11l-5.5 -10zM655.6 1075.6h11l-5.5 -10zM655.9 1075.9h11l-5.5 -10zM656.2 1076.7h11l-5.5 -10zM656.5 1077h11l-5.5 -10zM656.9 1076.1h11l-5.5 -10zM657.2 1076.8h11l-5.5 -10zM657.5 1077.8h11l-5.5 -10zM657.8 1054.9h11l-5.5 -10zM658.1 1007.1h11l-5.5 -10zM658.4 957.9h11l-5.5 -10zM658.7 911.3h11l-5.5 -10zM659.1 872.1h11l-5.5 -10zM659.4 840.3h11l-5.5 -10zM659.7 813.9h11l-5.5 -10zM660 793.3h11l-5.5 -10zM660.3 778.7h11l-5.5 -10zM660.6 767.5h11l-5.5 -10zM660.9 758.6h11l-5.5 -10zM661.2 752.4h11l-5.5 -10zM661.6 745.9h11l-5.5 -10zM661.9 741.2h11l-5.5 -10zM662.2 737.5h11l-5.5 -10zM662.5 734.3h11l-5.5 -10zM662.8 730.5h11l-5.5 -10zM663.1 729.2h11l-5.5 -10zM663.4 725.1h11l-5.5 -10zM663.7 721.9h11l-5.5 -10zM664.1 721.9h11l-5.5 -10zM664.4 718.9h11l-5.5 -10zM664.7 714.5h11l-5.5 -10zM665 714.6h11l-5.5 -10zM665.3 710.3h11l-5.5 -10zM665.6 708.6h11l-5.5 -10zM665.9 707.6h11l-5.5 -10zM666.2 703.8h11l-5.5 -10zM666.6 703.1h11l-5.5 -10zM666.9 693.8h11l-5.5 -10zM667.2 697.5h11l-5.5 -10zM667.5 693.3h11l-5.5 -10zM667.8 693.5h11l-5.5 -10zM668.1 698.6h11l-5.5 -10zM668.4 696.8h11l-5.5 -10zM668.8 698.5h11l-5.5 -10zM669.1 694.4h11l-5.5 -10zM669.4 698.8h11l-5.5 -10zM669.7 699h11l-5.5 -10zM670 698.7h11l-5.5 -10zM670.3 693.7h11l-5.5 -10zM670.6 697.8h11l-5.5 -10zM670.9 697.3h11l-5.5 -10zM671.3 696.5h11l-5.5 -10zM671.6 695.8h11l-5.5 -10zM671.9 696.7h11l-5.5 -10zM672.2 693.1h11l-5.5 -10zM672.5 697.2h11l-5.5 -10zM672.8 696.2h11l-5.5 -10zM673.1 693.6h11l-5.5 -10zM673.4 697.8h11l-5.5 -10zM673.8 698.2h11l-5.5 -10zM674.1 693.8h11l-5.5 -10zM674.4 697.3h11l-5.5 -10zM674.7 693.4h11l-5.5 -10zM675 693.9h11l-5.5 -10zM675.3 696.9h11l-5.5 -10zM675.6 697.2h11l-5.5 -10zM676 698.7h11l-5.5 -10zM676.3 693.5h11l-5.5 -10zM676.6 696.4h11l-5.5 -10zM676.9 697.1h11l-5.5 -10zM677.2 698.2h11l-5.5 -10zM677.5 697.8h11l-5.5 -10zM677.8 693.5h11l-5.5 -10zM678.1 698.5h11l-5.5 -10zM678.5 695.6h11l-5.5 -10zM678.8 695.1h11l-5.5 -10zM679.1 695.8h11l-5.5 -10zM679.4 696h11l-5.5 -10zM679.7 696.7h11l-5.5 -10zM680 698h11l-5.5 -10zM680.3 693.8h11l-5.5 -10zM680.6 693.3h11l-5.5 -10zM681 695.5h11l-5.5 -10zM681.3 697.6h11l-5.5 -10zM681.6 693.2h11l-5.5 -10zM681.9 697.9h11l-5.5 -10zM682.2 698.1h11l-5.5 -10zM682.5 695.1h11l-5.5 -10zM682.8 693.7h11l-5.5 -10zM683.2 695.4h11l-5.5 -10zM683.5 698.5h11l-5.5 -10zM683.8 692.7h11l-5.5 -10zM684.1 698.2h11l-5.5 -10zM684.4 696.9h11l-5.5 -10zM684.7 692.6h11l-5.5 -10zM685 693.9h11l-5.5 -10zM685.3 694.2h11l-5.5 -10zM685.7 698.7h11l-5.5 -10zM686 693.5h11l-5.5 -10zM686.3 696.5h11l-5.5 -10zM686.6 698.8h11l-5.5 -10zM686.9 693.1h11l-5.5 -10zM687.2 691.3h11l-5.5 -10zM687.5 695.9h11l-5.5 -10zM687.8 691.6h11l-5.5 -10zM688.2 686.9h11l-5.5 -10zM688.5 689.4h11l-5.5 -10zM688.8 689.1h11l-5.5 -10zM689.1 686.4h11l-5.5 -10zM689.4 689.9h11l-5.5 -10zM689.7 687.9h11l-5.5 -10zM690 690.5h11l-5.5 -10zM690.4 691.7h11l-5.5 -10zM690.7 693.6h11l-5.5 -10zM691 697.5h11l-5.5 -10zM691.3 694.5h11l-5.5 -10zM691.6 695.3h11l-5.5 -10zM691.9 695.9h11l-5.5 -10zM692.2 695.3h11l-5.5 -10zM692.5 697.1h11l-5.5 -10zM692.9 697.8h11l-5.5 -10zM693.2 693h11l-5.5 -10zM693.5 696.6h11l-5.5 -10zM693.8 698.4h11l-5.5 -10zM694.1 692.6h11l-5.5 -10zM694.4 695.7h11l-5.5 -10zM694.7 694.6h11l-5.5 -10zM695 696.8h11l-5.5 -10zM695.4 698.1h11l-5.5 -10zM695.7 696.8h11l-5.5 -10zM696 693.5h11l-5.5 -10zM696.3 697.2h11l-5.5 -10zM696.6 692.9h11l-5.5 -10zM696.9 697h11l-5.5 -10zM697.2 693h11l-5.5 -10zM697.5 697.8h11l-5.5 -10zM697.9 696.1h11l-5.5 -10zM698.2 698.2h11l-5.5 -10zM698.5 698h11l-5.5 -10zM698.8 695.5h11l-5.5 -10zM699.1 696.6h11l-5.5 -10zM699.4 695.4h11l-5.5 -10zM699.7 697.6h11l-5.5 -10zM700.1 695.9h11l-5.5 -10zM700.4 742.7h11l-5.5 -10zM700.7 768.9h11l-5.5 -10zM701 791.6h11l-5.5 -10zM701.3 810.2h11l-5.5 -10zM701.6 826.5h11l-5.5 -10zM701.9 841.7h11l-5.5 -10zM702.2 855.4h11l-5.5 -10zM702.6 866.5h11l-5.5 -10zM702.9 878.2h11l-5.5 -10zM703.2 887.9h11l-5.5 -10zM703.5 896.8h11l-5.5 -10zM703.8 904.4h11l-5.5 -10zM704.1 911.2h11l-5.5 -10zM704.4 918.5h11l-5.5 -10zM704.7 924.7h11l-5.5 -10zM705.1 929.9h11l-5.5 -10zM705.4 935.9h11l-5.5 -10zM705.7 940.9h11l-5.5 -10zM706 944.9h11l-5.5 -10zM706.3 949.8h11l-5.5 -10zM706.6 953.4h11l-5.5 -10zM706.9 957.6h11l-5.5 -10zM707.3 960.8h11l-5.5 -10zM707.6 964h11l-5.5 -10zM707.9 967.7h11l-5.5 -10zM708.2 971h11l-5.5 -10zM708.5 973.6h11l-5.5 -10zM708.8 976.3h11l-5.5 -10zM709.1 979.8h11l-5.5 -10zM709.4 982.2h11l-5.5 -10zM709.8 984.6h11l-5.5 -10zM710.1 986.9h11l-5.5 -10zM710.4 989.5h11l-5.5 -10zM710.7 991.3h11l-5.5 -10zM711 993.9h11l-5.5 -10zM711.3 995.3h11l-5.5 -10zM711.6 997.9h11l-5.5 -10zM711.9 1000.1h11l-5.5 -10zM712.3 1002.1h11l-5.5 -10zM712.6 1003.9h11l-5.5 -10zM712.9 1005.6h11l-5.5 -10zM713.2 1006.6h11l-5.5 -10zM713.5 1008.8h11l-5.5 -10zM713.8 1010.4h11l-5.5 -10zM714.1 1011.5h11l-5.5 -10zM714.5 1013h11l-5.5 -10zM714.8 1014.7h11l-5.5 -10zM715.1 1016.7h11l-5.5 -10zM715.4 1018h11l-5.5 -10zM715.7 1019.2h11l-5.5 -10zM716 1020.8h11l-5.5 -10zM716.3 1022h11l-5.5 -10zM716.6 1023.4h11l-5.5 -10zM717 1024.6h11l-5.5 -10zM717.3 1025.2h11l-5.5 -10zM717.6 1026.5h11l-5.5 -10zM717.9 1027.8h11l-5.5 -10zM718.2 1028.9h11l-5.5 -10zM718.5 1029.8h11l-5.5 -10zM718.8 1030.8h11l-5.5 -10zM719.1 1032.5h11l-5.5 -10zM719.5 1032.6h11l-5.5 -10zM719.8 1033.9h11l-5.5 -10zM720.1 1035h11l-5.5 -10zM720.4 1035.2h11l-5.5 -10zM720.7 1036.3h11l-5.5 -10zM721 1037.6h11l-5.5 -10zM721.3 1038.8h11l-5.5 -10zM721.7 1039.1h11l-5.5 -10zM722 1039.9h11l-5.5 -10zM722.3 1040.7h11l-5.5 -10zM722.6 1041.8h11l-5.5 -10zM722.9 1042h11l-5.5 -10zM723.2 1043h11l-5.5 -10zM723.5 1043.1h11l-5.5 -10zM723.8 1044.1h11l-5.5 -10zM724.2 1044.9h11l-5.5 -10zM724.5 1045h11l-5.5 -10zM724.8 1046h11l-5.5 -10zM725.1 1047h11l-5.5 -10zM725.4 1047.4h11l-5.5 -10zM725.7 1048.2h11l-5.5 -10zM726 1048.3h11l-5.5 -10zM726.3 1048.3h11l-5.5 -10zM726.7 1048.8h11l-5.5 -10zM727 1049.6h11l-5.5 -10zM727.3 1050.6h11l-5.5 -10zM727.6 1051h11l-5.5 -10zM727.9 1051.5h11l-5.5 -10zM728.2 1051.8h11l-5.5 -10zM728.5 1051.9h11l-5.5 -10zM728.9 1053h11l-5.5 -10zM729.2 1052.9h11l-5.5 -10zM729.5 1053.4h11l-5.5 -10zM729.8 1053.5h11l-5.5 -10zM730.1 1053.7h11l-5.5 -10zM730.4 1054.5h11l-5.5 -10zM730.7 1054.7h11l-5.5 -10zM731 1055.4h11l-5.5 -10zM731.4 1055.5h11l-5.5 -10zM731.7 1055.7h11l-5.5 -10zM732 1056.6h11l-5.5 -10zM732.3 1056.4h11l-5.5 -10zM732.6 1056.7h11l-5.5 -10zM732.9 1057.4h11l-5.5 -10zM733.2 1057.6h11l-5.5 -10zM733.5 1057.3h11l-5.5 -10zM733.9 1058h11l-5.5 -10zM734.2 1058.5h11l-5.5 -10zM734.5 1058.6h11l-5.5 -10zM734.8 1058.6h11l-5.5 -10zM735.1 1059h11l-5.5 -10zM735.4 1059.3h11l-5.5 -10zM735.7 1059.5h11l-5.5 -10zM736 1059.9h11l-5.5 -10zM736.4 1059.8h11l-5.5 -10zM736.7 1059.9h11l-5.5 -10zM737 1060.6h11l-5.5 -10zM737.3 1060.3h11l-5.5 -10zM737.6 1060.8h11l-5.5 -10zM737.9 1060.3h11l-5.5 -10zM738.2 1060.5h11l-5.5 -10zM738.6 1061.5h11l-5.5 -10zM738.9 1061.1h11l-5.5 -10zM739.2 1061.7h11l-5.5 -10zM739.5 1062.1h11l-5.5 -10zM739.8 1061.4h11l-5.5 -10zM740.1 1061.5h11l-5.5 -10zM740.4 1061.8h11l-5.5 -10zM740.7 1062.1h11l-5.5 -10zM741.1 1061.9h11l-5.5 -10zM741.4 1062.5h11l-5.5 -10zM741.7 1062.5h11l-5.5 -10zM742 1062.7h11l-5.5 -10zM742.3 1062.6h11l-5.5 -10zM742.6 1062.7h11l-5.5 -10zM742.9 1063.4h11l-5.5 -10zM743.2 1063.6h11l-5.5 -10zM743.6 1063.4h11l-5.5 -10zM743.9 1063.4h11l-5.5 -10zM744.2 1063.8h11l-5.5 -10zM744.5 1063.4h11l-5.5 -10z" fill="#2ff2b3"/>
</g>
<path d="M134.5 656.1H194.5" stroke="#2ff2b3" stroke-width="2.3"/>
<path d="M159 659.9h11l-5.5 -10z" fill="#2ff2b3"/>
<text x="201.8" y="664.2" font-size="26.2" text-anchor="start" fill="#2ff2b3"  class="g">Co-doped-MnO<tspan font-size="17.5" dy="7.5">2</tspan><tspan dy="-7.5" font-size="1">&#8203;</tspan>@MnCo<tspan font-size="17.5" dy="7.5">2</tspan><tspan dy="-7.5" font-size="1">&#8203;</tspan>O<tspan font-size="17.5" dy="7.5">4.5</tspan><tspan dy="-7.5" font-size="1">&#8203;</tspan></text>
<text x="155.5" y="964.5" font-size="25.8" text-anchor="start" fill="#000" >5 ppm</text>
<rect x="171.8" y="626.8" width="27.4" height="502.4" fill="rgba(146,156,247,0.335)" stroke="rgba(150,150,235,0.35)" stroke-width="1"/>
<rect x="259.6" y="626.8" width="25.9" height="502.4" fill="rgba(146,156,247,0.335)" stroke="rgba(150,150,235,0.35)" stroke-width="1"/>
<rect x="323.9" y="626.8" width="27.1" height="502.4" fill="rgba(146,156,247,0.335)" stroke="rgba(150,150,235,0.35)" stroke-width="1"/>
<rect x="384.7" y="626.8" width="27.4" height="502.4" fill="rgba(146,156,247,0.335)" stroke="rgba(150,150,235,0.35)" stroke-width="1"/>
<rect x="449.1" y="626.8" width="27.1" height="502.4" fill="rgba(146,156,247,0.335)" stroke="rgba(150,150,235,0.35)" stroke-width="1"/>
<rect x="519" y="626.8" width="26.8" height="502.4" fill="rgba(146,156,247,0.335)" stroke="rgba(150,150,235,0.35)" stroke-width="1"/>
<rect x="591.7" y="626.8" width="27.9" height="502.4" fill="rgba(146,156,247,0.335)" stroke="rgba(150,150,235,0.35)" stroke-width="1"/>
<rect x="671" y="626.8" width="31.3" height="502.4" fill="rgba(146,156,247,0.335)" stroke="rgba(150,150,235,0.35)" stroke-width="1"/>
<text x="236.3" y="820.3" font-size="25.8" text-anchor="start" fill="#000" >50 ppm</text>
<text x="294.6" y="787.3" font-size="25.8" text-anchor="start" fill="#000" >75 ppm</text>
<text x="356.5" y="754.2" font-size="25.8" text-anchor="start" fill="#000" >100 ppm</text>
<text x="421" y="726" font-size="25.8" text-anchor="start" fill="#000" >150 ppm</text>
<text x="488" y="694" font-size="25.8" text-anchor="start" fill="#000" >175 ppm</text>
<text x="563.8" y="678" font-size="25.8" text-anchor="start" fill="#000" >200 ppm</text>
<text x="652.5" y="664.5" font-size="25.8" text-anchor="start" fill="#000" >300 ppm</text>
<rect x="124" y="627.8" width="626" height="503.4" fill="none" stroke="#000" stroke-width="2.1"/>
<path d="M124 1130.3h-10" stroke="#000" stroke-width="2.0" fill="none"/>
<path d="M124 1096.8h-10M124 1029.8h-10M124 962.8h-10M124 895.8h-10M124 828.8h-10M124 761.8h-10M124 694.8h-10M124 627.8h-10" stroke="#000" stroke-width="2.0" fill="none"/>
<path d="M124 1063.3h-5M124 996.3h-5M124 929.3h-5M124 862.3h-5M124 795.3h-5M124 728.3h-5M124 661.3h-5" stroke="#000" stroke-width="2.0" fill="none"/>
<path d="M124 1131.2v10M249.2 1131.2v10M374.4 1131.2v10M499.6 1131.2v10M624.8 1131.2v10M750 1131.2v10" stroke="#000" stroke-width="2.0" fill="none"/>
<path d="M186.6 1131.2v5M311.8 1131.2v5M437 1131.2v5M562.2 1131.2v5M687.4 1131.2v5" stroke="#000" stroke-width="2.0" fill="none"/>
<text x="106.5" y="1105.4" font-size="30.8" text-anchor="end" fill="#000" >1</text>
<text x="106.5" y="1038.4" font-size="30.8" text-anchor="end" fill="#000" >2</text>
<text x="106.5" y="971.4" font-size="30.8" text-anchor="end" fill="#000" >3</text>
<text x="106.5" y="904.4" font-size="30.8" text-anchor="end" fill="#000" >4</text>
<text x="106.5" y="837.4" font-size="30.8" text-anchor="end" fill="#000" >5</text>
<text x="106.5" y="770.4" font-size="30.8" text-anchor="end" fill="#000" >6</text>
<text x="106.5" y="703.4" font-size="30.8" text-anchor="end" fill="#000" >7</text>
<text x="106.5" y="636.4" font-size="30.8" text-anchor="end" fill="#000" >8</text>
<text x="124" y="1171.5" font-size="30.8" text-anchor="middle" fill="#000" >0</text>
<text x="249.2" y="1171.5" font-size="30.8" text-anchor="middle" fill="#000" >400</text>
<text x="374.4" y="1171.5" font-size="30.8" text-anchor="middle" fill="#000" >800</text>
<text x="499.6" y="1171.5" font-size="30.8" text-anchor="middle" fill="#000" >1200</text>
<text x="624.8" y="1171.5" font-size="30.8" text-anchor="middle" fill="#000" >1600</text>
<text x="750" y="1171.5" font-size="30.8" text-anchor="middle" fill="#000" >2000</text>
<text x="437.7" y="1212.5" font-size="35.8" text-anchor="middle" fill="#000" >Time (s)</text>
<text transform="translate(78 879.5) rotate(-90)" font-size="35.0" text-anchor="middle">Resistance (kΩ)</text>
<text x="1.3" y="610.8" font-size="51" text-anchor="start" fill="#000" >(c)</text>
</g>
<g id="panelD">
<path d="M943.7 1102.5L944.5 1095.2L945.2 1088.7L945.9 1082.8L946.6 1077.5L947.3 1072.6L948.1 1068L948.8 1063.7L949.5 1059.6L950.2 1055.8L951 1052.2L951.7 1048.7L952.4 1045.4L953.1 1042.2L953.8 1039.1L954.6 1036.1L955.3 1033.3L956 1030.5L956.7 1027.8L957.4 1025.2L958.2 1022.7L958.9 1020.2L960.7 1014.4L962.5 1008.9L964.3 1003.6L966.1 998.7L967.9 993.9L969.7 989.4L971.5 985.1L973.3 980.9L975.1 977.1L976.9 973.5L978.7 970L980.5 966.6L982.3 963.3L984.1 960.1L985.9 957L987.7 954L989.5 951.1L991.3 948.2L993.1 945.4L994.9 942.7L996.7 940.1L998.5 937.5L1000.3 934.9L1002.1 932.4L1003.9 930L1005.7 927.6L1007.5 925.2L1009.3 922.9L1011.1 920.7L1012.9 918.4L1014.7 916.3L1016.5 914.1L1018.3 912L1020.1 909.9L1022 907.9L1023.8 905.9L1025.6 903.9L1027.4 901.9L1029.2 900L1031 898.1L1032.8 896.2L1034.6 894.4L1036.4 892.6L1038.2 890.8L1040 889L1041.8 887.2L1043.6 885.5L1045.4 883.8L1047.2 882.1L1049 880.4L1050.8 878.8L1052.6 877.2L1054.4 875.6L1056.2 874L1058 872.4L1059.8 870.8L1061.6 869.3L1063.4 867.7L1065.2 866.2L1067 864.7L1068.8 863.2L1070.6 861.8L1072.4 860.3L1074.2 858.9L1076 857.5L1077.8 856L1079.6 854.6L1081.4 853.2L1083.2 851.9L1085 850.5L1086.8 849.2L1088.6 847.8L1090.4 846.5L1092.2 845.2L1094 843.9L1095.8 842.6L1097.6 841.3L1099.4 840L1101.2 838.7L1103 837.5L1104.8 836.2L1106.6 835L1108.4 833.8L1110.2 832.6L1112.1 831.3L1113.9 830.1L1115.7 829L1117.5 827.8L1119.3 826.6L1121.1 825.4L1122.9 824.3L1124.7 823.1L1126.5 822L1128.3 820.8L1130.1 819.7L1131.9 818.6L1133.7 817.5L1135.5 816.4L1137.3 815.3L1139.1 814.2L1140.9 813.1L1142.7 812L1144.5 811L1146.3 809.9L1148.1 808.8L1149.9 807.8L1151.7 806.7L1153.5 805.7L1155.3 804.7L1157.1 803.6L1158.9 802.6L1160.7 801.6L1162.5 800.6L1164.3 799.6L1166.1 798.6L1167.9 797.6L1169.7 796.6L1171.5 795.6L1173.3 794.7L1175.1 793.7L1176.9 792.7L1178.7 791.8L1180.5 790.8L1182.3 789.9L1184.1 788.9L1185.9 788L1187.7 787L1189.5 786.1L1191.3 785.2L1193.1 784.3L1194.9 783.3L1196.7 782.4L1198.5 781.5L1200.3 780.6L1202.2 779.7L1204 778.8L1205.8 777.9L1207.6 777.1L1209.4 776.2L1211.2 775.3L1213 774.4L1214.8 773.6L1216.6 772.7L1218.4 771.8L1220.2 771L1222 770.1L1223.8 769.3L1225.6 768.4L1227.4 767.6L1229.2 766.7L1231 765.9L1232.8 765.1L1234.6 764.2L1236.4 763.4L1238.2 762.6L1240 761.8L1241.8 761L1243.6 760.2L1245.4 759.3L1247.2 758.5L1249 757.7L1250.8 756.9L1252.6 756.2L1254.4 755.4L1256.2 754.6L1258 753.8L1259.8 753L1261.6 752.2L1263.4 751.5L1265.2 750.7L1267 749.9L1268.8 749.1L1270.6 748.4L1272.4 747.6L1274.2 746.9L1276 746.1L1277.8 745.4L1279.6 744.6L1281.4 743.9L1283.2 743.1L1285 742.4L1286.8 741.6L1288.6 740.9L1290.4 740.2L1292.3 739.4L1294.1 738.7L1295.9 738L1297.7 737.3L1299.5 736.5L1301.3 735.8L1303.1 735.1L1304.9 734.4L1306.7 733.7L1308.5 733L1310.3 732.3L1312.1 731.6L1313.9 730.9L1315.7 730.2L1317.5 729.5L1319.3 728.8L1321.1 728.1L1322.9 727.4L1324.7 726.7L1326.5 726L1328.3 725.4L1330.1 724.7L1331.9 724L1333.7 723.3L1335.5 722.6L1337.3 722L1339.1 721.3L1340.9 720.6L1342.7 720L1344.5 719.3L1346.3 718.7L1348.1 718L1349.9 717.3L1351.7 716.7L1353.5 716L1355.3 715.4L1357.1 714.7L1358.9 714.1L1360.7 713.4L1362.5 712.8L1364.3 712.2L1366.1 711.5L1367.9 710.9L1369.7 710.2L1371.5 709.6L1373.3 709L1375.1 708.4L1376.9 707.7L1378.7 707.1L1380.5 706.5L1382.4 705.9L1384.2 705.2L1386 704.6L1387.8 704L1389.6 703.4L1391.4 702.8L1393.2 702.2L1395 701.5L1396.8 700.9L1398.6 700.3L1400.4 699.7L1402.2 699.1L1404 698.5L1405.8 697.9L1407.6 697.3L1409.4 696.7L1411.2 696.1L1413 695.5L1414.8 694.9L1416.6 694.3L1418.4 693.8L1420.2 693.2L1422 692.6L1423.8 692L1425.6 691.4L1427.4 690.8L1429.2 690.3L1431 689.7L1432.8 689.1L1434.6 688.5L1436.4 688L1438.2 687.4L1440 686.8L1441.8 686.2L1443.6 685.7L1445.4 685.1L1447.2 684.5L1449 684L1450.8 683.4L1452.6 682.9L1454.4 682.3L1456.2 681.7L1458 681.2L1459.8 680.6L1461.6 680.1L1463.4 679.5L1465.2 679L1467 678.4L1468.8 677.9L1470.6 677.3L1472.5 676.8L1474.3 676.2L1476.1 675.7L1477.9 675.1L1479.7 674.6" fill="none" stroke="#2ff2b3" stroke-width="3.3" stroke-linejoin="round" stroke-linecap="round"/>
<path d="M935.8 1065.3h10.6v10.6h-10.6zM1024.6 922.8h10.6v10.6h-10.6zM1069.7 847.4h10.6v10.6h-10.6zM1114.7 797.1h10.6v10.6h-10.6zM1204.8 772h10.6v10.6h-10.6zM1249.8 730.1h10.6v10.6h-10.6zM1294.9 713.3h10.6v10.6h-10.6zM1475.1 696.5h10.6v10.6h-10.6z" fill="#2ff2b3"/>
<path d="M908.2 658.3H963.6" stroke="#2ff2b3" stroke-width="3.4" stroke-linecap="round"/>
<text x="976" y="666" font-size="23.8" text-anchor="start" fill="#2ff2b3"  class="g">Co-doped-MnO<tspan font-size="16" dy="7">2</tspan><tspan dy="-7" font-size="1">&#8203;</tspan>@MnCo<tspan font-size="16" dy="7">2</tspan><tspan dy="-7" font-size="1">&#8203;</tspan>O<tspan font-size="16" dy="7">4.5</tspan><tspan dy="-7" font-size="1">&#8203;</tspan></text>
<rect x="896.3" y="626.4" width="629.7" height="502.9" fill="none" stroke="#000" stroke-width="2.1"/>
<path d="M896.3 1129.3h-10M896.3 1045.5h-10M896.3 961.7h-10M896.3 877.8h-10M896.3 794h-10M896.3 710.2h-10M896.3 626.4h-10" stroke="#000" stroke-width="2.0" fill="none"/>
<path d="M940.5 1129.3v9.5M1030.6 1129.3v9.5M1120.7 1129.3v9.5M1210.8 1129.3v9.5M1300.9 1129.3v9.5M1391 1129.3v9.5M1481.1 1129.3v9.5" stroke="#000" stroke-width="2.0" fill="none"/>
<text x="878.3" y="1138.4" font-size="30.8" text-anchor="end" fill="#000" >100</text>
<text x="878.3" y="1054.6" font-size="30.8" text-anchor="end" fill="#000" >200</text>
<text x="878.3" y="970.8" font-size="30.8" text-anchor="end" fill="#000" >300</text>
<text x="878.3" y="886.9" font-size="30.8" text-anchor="end" fill="#000" >400</text>
<text x="878.3" y="803.1" font-size="30.8" text-anchor="end" fill="#000" >500</text>
<text x="878.3" y="719.3" font-size="30.8" text-anchor="end" fill="#000" >600</text>
<text x="878.3" y="635.5" font-size="30.8" text-anchor="end" fill="#000" >700</text>
<text x="940.5" y="1169.6" font-size="30.8" text-anchor="middle" fill="#000" >0</text>
<text x="1030.6" y="1169.6" font-size="30.8" text-anchor="middle" fill="#000" >50</text>
<text x="1120.7" y="1169.6" font-size="30.8" text-anchor="middle" fill="#000" >100</text>
<text x="1210.8" y="1169.6" font-size="30.8" text-anchor="middle" fill="#000" >150</text>
<text x="1300.9" y="1169.6" font-size="30.8" text-anchor="middle" fill="#000" >200</text>
<text x="1391" y="1169.6" font-size="30.8" text-anchor="middle" fill="#000" >250</text>
<text x="1481.1" y="1169.6" font-size="30.8" text-anchor="middle" fill="#000" >300</text>
<text x="1194.5" y="1218.5" font-size="35.8" text-anchor="middle" fill="#000" >Concentration (ppm)</text>
<text transform="translate(818 876) rotate(-90)" font-size="35.6" text-anchor="middle">Response (%)</text>
<text x="767.3" y="610.2" font-size="51" text-anchor="start" fill="#000" >(d)</text>
</g>
</svg>
</body></html>
